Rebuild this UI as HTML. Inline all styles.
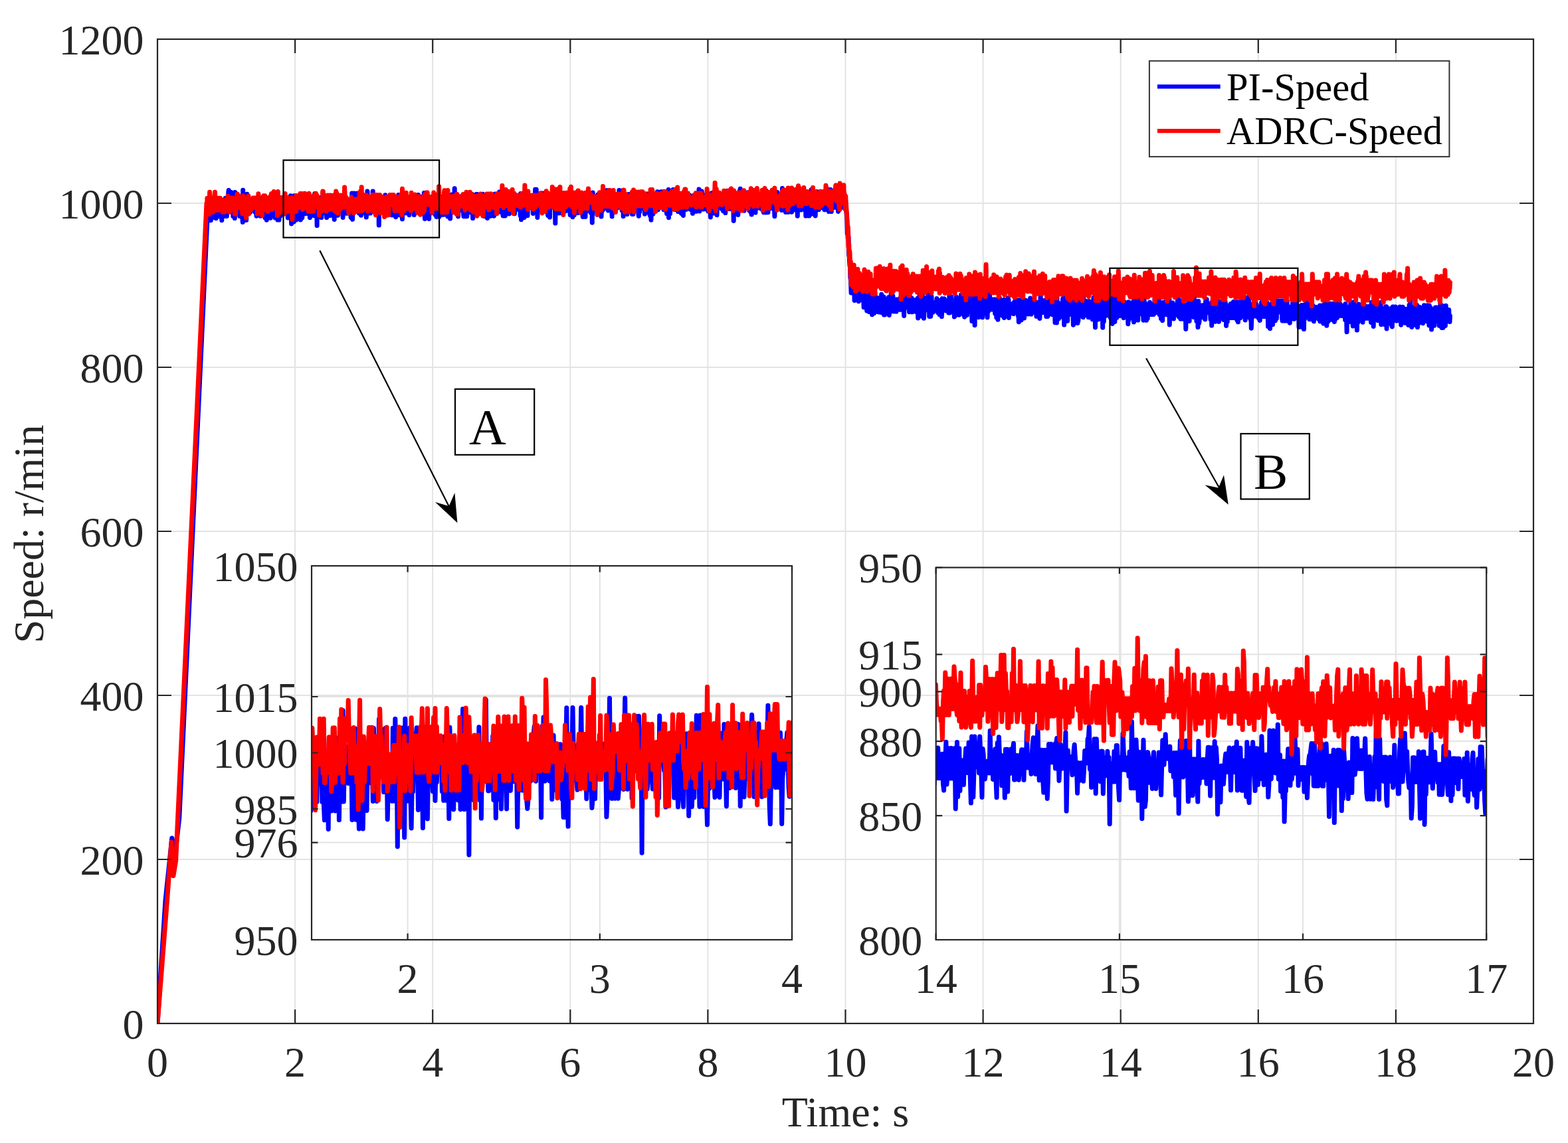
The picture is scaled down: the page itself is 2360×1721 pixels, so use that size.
<!DOCTYPE html><html><head><meta charset="utf-8"><title>Speed</title><style>html,body{margin:0;padding:0;background:#fff;}svg{display:block;}text{font-family:"Liberation Serif", "Times New Roman", serif;}</style></head><body>
<svg width="2360" height="1721" viewBox="0 0 2360 1721">
<defs><clipPath id="cm"><rect x="237.0" y="59.0" width="2071.0" height="1482.0"/></clipPath><clipPath id="ca"><rect x="469.0" y="852.0" width="723.0" height="563.0"/></clipPath><clipPath id="cb"><rect x="1408.7" y="854.5" width="828.5" height="560.5"/></clipPath></defs>
<rect width="2360" height="1721" fill="#fff"/>
<path d="M444.1 59.0V1541.0M651.2 59.0V1541.0M858.3 59.0V1541.0M1065.4 59.0V1541.0M1272.5 59.0V1541.0M1479.6 59.0V1541.0M1686.7 59.0V1541.0M1893.8 59.0V1541.0M2100.9 59.0V1541.0M237.0 1294.0H2308.0M237.0 1047.0H2308.0M237.0 800.0H2308.0M237.0 553.0H2308.0M237.0 306.0H2308.0" stroke="#e3e3e3" stroke-width="2" fill="none"/>
<polyline points="237.0,1541.0 249.0,1355.8 258.8,1261.9 261.9,1300.2 269.8,1232.2 313.1,306.0 313.5,322.8 313.9,307.7 314.4,301.7 314.8,307.7 315.2,304.7 315.6,331.8 316.0,316.8 316.4,313.8 316.8,316.8 317.3,331.8 317.7,301.7 318.1,307.7 318.5,328.8 318.9,313.7 319.3,310.7 319.7,301.7 320.2,304.7 320.6,319.8 321.0,316.7 321.4,307.7 321.8,301.7 322.2,313.7 322.6,316.7 323.1,304.7 323.5,307.7 323.9,298.6 324.3,307.7 324.7,301.6 325.1,328.8 325.5,322.7 325.9,325.7 326.4,316.7 326.8,307.7 327.2,313.7 327.6,307.6 328.0,316.7 328.4,304.6 328.8,304.6 329.3,325.7 329.7,319.7 330.1,316.7 330.5,304.6 330.9,304.6 331.3,298.6 331.7,325.7 332.2,307.6 332.6,310.6 333.0,313.6 333.4,310.6 333.8,331.7 334.2,307.6 334.6,313.6 335.1,322.7 335.5,301.6 335.9,316.6 336.3,307.6 336.7,316.6 337.1,325.7 337.5,316.6 338.0,307.6 338.4,319.6 338.8,307.6 339.2,298.5 339.6,301.5 340.0,313.6 340.4,319.6 340.9,304.5 341.3,325.6 341.7,319.6 342.1,298.5 342.5,307.5 342.9,307.5 343.3,313.6 343.8,289.5 344.2,286.4 344.6,310.5 345.0,304.5 345.4,313.5 345.8,307.5 346.2,298.5 346.7,301.5 347.1,313.5 347.5,307.5 347.9,289.4 348.3,301.5 348.7,298.5 349.1,304.5 349.6,310.5 350.0,319.5 350.4,319.5 350.8,325.6 351.2,319.5 351.6,319.5 352.0,304.5 352.5,325.6 352.9,307.5 353.3,328.6 353.7,289.4 354.1,316.5 354.5,307.5 354.9,295.4 355.4,310.5 355.8,310.5 356.2,307.4 356.6,304.4 357.0,313.5 357.4,295.4 357.8,301.4 358.3,307.4 358.7,301.4 359.1,310.4 359.5,313.4 359.9,310.4 360.3,307.4 360.7,325.5 361.2,313.4 361.6,307.4 362.0,319.5 362.4,307.4 362.8,319.5 363.2,307.4 363.6,310.4 364.1,307.4 364.5,316.4 364.9,328.5 365.3,334.5 365.7,286.3 366.1,325.5 366.5,319.4 367.0,325.4 367.4,298.3 367.8,304.3 368.2,304.3 368.6,322.4 369.0,301.3 369.4,316.4 369.9,301.3 370.3,310.4 370.7,331.4 371.1,310.4 371.5,319.4 371.9,292.3 372.3,322.4 372.8,313.4 373.2,313.3 373.6,319.4 374.0,316.4 374.4,310.3 374.8,307.3 375.2,313.3 375.7,313.3 376.1,310.3 376.5,319.4 376.9,313.3 377.3,310.3 377.7,301.3 378.1,304.3 378.6,307.3 379.0,304.3 379.4,316.3 379.8,301.2 380.2,313.3 380.6,310.3 381.0,313.3 381.5,304.3 381.9,316.3 382.3,307.3 382.7,313.3 383.1,316.3 383.5,307.2 383.9,319.3 384.4,301.2 384.8,316.3 385.2,316.3 385.6,301.2 386.0,325.3 386.4,304.2 386.8,310.2 387.3,310.2 387.7,310.2 388.1,319.3 388.5,298.2 388.9,307.2 389.3,304.2 389.7,304.2 390.2,304.2 390.6,307.2 391.0,319.2 391.4,322.3 391.8,325.3 392.2,316.2 392.6,304.2 393.0,322.2 393.5,313.2 393.9,307.2 394.3,313.2 394.7,313.2 395.1,322.2 395.5,310.2 395.9,316.2 396.4,316.2 396.8,316.2 397.2,307.2 397.6,304.1 398.0,322.2 398.4,307.1 398.8,322.2 399.3,328.2 399.7,316.2 400.1,310.1 400.5,310.1 400.9,307.1 401.3,331.2 401.7,301.1 402.2,304.1 402.6,307.1 403.0,325.2 403.4,307.1 403.8,316.1 404.2,316.1 404.6,310.1 405.1,325.2 405.5,301.1 405.9,304.1 406.3,304.1 406.7,301.1 407.1,328.2 407.5,313.1 408.0,313.1 408.4,322.1 408.8,304.1 409.2,292.0 409.6,322.1 410.0,307.1 410.4,310.1 410.9,310.1 411.3,310.1 411.7,304.0 412.1,316.1 412.5,313.1 412.9,298.0 413.3,310.0 413.8,310.0 414.2,328.1 414.6,307.0 415.0,307.0 415.4,307.0 415.8,298.0 416.2,328.1 416.7,304.0 417.1,325.1 417.5,322.1 417.9,331.1 418.3,304.0 418.7,313.0 419.1,316.0 419.6,310.0 420.0,331.1 420.4,316.0 420.8,310.0 421.2,316.0 421.6,310.0 422.0,325.1 422.5,310.0 422.9,313.0 423.3,310.0 423.7,297.9 424.1,310.0 424.5,316.0 424.9,307.0 425.4,322.0 425.8,297.9 426.2,310.0 426.6,310.0 427.0,306.9 427.4,322.0 427.8,309.9 428.3,313.0 428.7,294.9 429.1,300.9 429.5,297.9 429.9,309.9 430.3,309.9 430.7,303.9 431.2,319.0 431.6,319.0 432.0,297.9 432.4,306.9 432.8,306.9 433.2,328.0 433.6,315.9 434.1,315.9 434.5,318.9 434.9,309.9 435.3,318.9 435.7,321.9 436.1,297.8 436.5,306.9 437.0,321.9 437.4,294.8 437.8,306.9 438.2,306.9 438.6,337.0 439.0,300.8 439.4,309.9 439.9,300.8 440.3,297.8 440.7,321.9 441.1,297.8 441.5,303.8 441.9,309.8 442.3,333.9 442.8,294.8 443.2,306.8 443.6,306.8 444.0,321.9 444.4,306.8 444.8,306.8 445.2,297.8 445.7,318.9 446.1,330.9 446.5,315.8 446.9,318.8 447.3,306.8 447.7,312.8 448.1,309.8 448.6,300.8 449.0,297.7 449.4,309.8 449.8,324.9 450.2,309.8 450.6,312.8 451.0,309.8 451.5,312.8 451.9,309.8 452.3,330.9 452.7,306.8 453.1,306.8 453.5,306.7 453.9,312.8 454.4,303.7 454.8,327.8 455.2,312.8 455.6,306.7 456.0,315.8 456.4,312.8 456.8,303.7 457.3,312.7 457.7,318.8 458.1,315.8 458.5,306.7 458.9,321.8 459.3,309.7 459.7,315.7 460.2,309.7 460.6,303.7 461.0,306.7 461.4,309.7 461.8,309.7 462.2,303.7 462.6,318.7 463.0,309.7 463.5,321.7 463.9,300.6 464.3,309.7 464.7,321.7 465.1,315.7 465.5,303.6 465.9,309.7 466.4,327.7 466.8,297.6 467.2,309.7 467.6,306.6 468.0,312.7 468.4,318.7 468.8,324.7 469.3,309.6 469.7,309.6 470.1,312.7 470.5,303.6 470.9,306.6 471.3,321.7 471.7,315.7 472.2,300.6 472.6,324.7 473.0,294.6 473.4,315.6 473.8,291.5 474.2,306.6 474.6,324.7 475.1,306.6 475.5,309.6 475.9,315.6 476.3,309.6 476.7,309.6 477.1,339.7 477.5,303.6 478.0,312.6 478.4,309.6 478.8,303.6 479.2,309.6 479.6,321.6 480.0,303.5 480.4,312.6 480.9,309.6 481.3,315.6 481.7,312.6 482.1,318.6 482.5,297.5 482.9,321.6 483.3,303.5 483.8,327.6 484.2,306.5 484.6,312.6 485.0,303.5 485.4,309.5 485.8,294.5 486.2,288.4 486.7,315.6 487.1,303.5 487.5,318.6 487.9,318.6 488.3,309.5 488.7,303.5 489.1,303.5 489.6,312.5 490.0,300.5 490.4,321.6 490.8,318.5 491.2,309.5 491.6,327.6 492.0,300.4 492.5,309.5 492.9,312.5 493.3,306.5 493.7,321.5 494.1,309.5 494.5,324.5 494.9,312.5 495.4,309.5 495.8,297.4 496.2,309.5 496.6,300.4 497.0,309.4 497.4,324.5 497.8,303.4 498.3,309.4 498.7,315.5 499.1,303.4 499.5,318.5 499.9,312.4 500.3,303.4 500.7,303.4 501.2,315.4 501.6,306.4 502.0,309.4 502.4,303.4 502.8,312.4 503.2,330.5 503.6,312.4 504.1,297.3 504.5,318.4 504.9,312.4 505.3,303.4 505.7,312.4 506.1,318.4 506.5,309.4 507.0,312.4 507.4,318.4 507.8,312.4 508.2,321.4 508.6,324.4 509.0,321.4 509.4,312.4 509.9,309.4 510.3,315.4 510.7,300.3 511.1,306.3 511.5,309.3 511.9,300.3 512.3,297.3 512.8,303.3 513.2,315.4 513.6,303.3 514.0,300.3 514.4,306.3 514.8,309.3 515.2,306.3 515.7,306.3 516.1,327.4 516.5,297.3 516.9,309.3 517.3,294.2 517.7,309.3 518.1,315.3 518.6,303.3 519.0,309.3 519.4,303.3 519.8,312.3 520.2,312.3 520.6,315.3 521.0,315.3 521.5,306.3 521.9,321.3 522.3,309.3 522.7,300.2 523.1,318.3 523.5,312.3 523.9,315.3 524.4,312.3 524.8,309.3 525.2,303.2 525.6,303.2 526.0,315.3 526.4,303.2 526.8,315.3 527.3,321.3 527.7,318.3 528.1,327.3 528.5,309.2 528.9,327.3 529.3,309.2 529.7,291.1 530.2,318.3 530.6,330.3 531.0,306.2 531.4,318.2 531.8,309.2 532.2,309.2 532.6,306.2 533.0,291.1 533.5,306.2 533.9,306.2 534.3,309.2 534.7,315.2 535.1,315.2 535.5,318.2 535.9,303.1 536.4,309.2 536.8,303.1 537.2,306.1 537.6,291.1 538.0,309.2 538.4,303.1 538.8,315.2 539.3,300.1 539.7,312.2 540.1,309.1 540.5,321.2 540.9,306.1 541.3,297.1 541.7,300.1 542.2,318.2 542.6,303.1 543.0,315.1 543.4,324.2 543.8,321.2 544.2,300.1 544.6,312.1 545.1,321.2 545.5,306.1 545.9,306.1 546.3,312.1 546.7,306.1 547.1,312.1 547.5,300.0 548.0,303.1 548.4,309.1 548.8,306.1 549.2,303.0 549.6,309.1 550.0,306.1 550.4,309.1 550.9,312.1 551.3,327.1 551.7,321.1 552.1,318.1 552.5,309.1 552.9,288.0 553.3,318.1 553.8,312.1 554.2,321.1 554.6,312.1 555.0,312.0 555.4,303.0 555.8,321.1 556.2,306.0 556.7,306.0 557.1,312.0 557.5,321.1 557.9,318.1 558.3,312.0 558.7,306.0 559.1,309.0 559.6,315.0 560.0,306.0 560.4,318.0 560.8,303.0 561.2,287.9 561.6,315.0 562.0,299.9 562.5,318.0 562.9,309.0 563.3,306.0 563.7,299.9 564.1,309.0 564.5,299.9 564.9,321.0 565.4,312.0 565.8,309.0 566.2,309.0 566.6,309.0 567.0,293.9 567.4,312.0 567.8,299.9 568.3,305.9 568.7,293.9 569.1,311.9 569.5,302.9 569.9,302.9 570.3,339.1 570.7,305.9 571.2,299.9 571.6,296.9 572.0,318.0 572.4,308.9 572.8,299.9 573.2,317.9 573.6,314.9 574.1,302.9 574.5,302.9 574.9,299.9 575.3,299.8 575.7,305.9 576.1,317.9 576.5,314.9 577.0,308.9 577.4,305.9 577.8,308.9 578.2,302.8 578.6,314.9 579.0,311.9 579.4,320.9 579.9,293.8 580.3,308.9 580.7,299.8 581.1,299.8 581.5,305.8 581.9,308.8 582.3,311.9 582.8,311.8 583.2,323.9 583.6,311.8 584.0,302.8 584.4,305.8 584.8,302.8 585.2,302.8 585.7,302.8 586.1,305.8 586.5,305.8 586.9,299.8 587.3,311.8 587.7,320.9 588.1,302.8 588.6,308.8 589.0,299.8 589.4,314.8 589.8,323.9 590.2,308.8 590.6,314.8 591.0,317.8 591.5,296.7 591.9,305.8 592.3,320.8 592.7,323.8 593.1,308.8 593.5,302.7 593.9,305.7 594.4,299.7 594.8,305.7 595.2,305.7 595.6,326.8 596.0,299.7 596.4,311.8 596.8,299.7 597.3,323.8 597.7,317.8 598.1,299.7 598.5,320.8 598.9,305.7 599.3,311.7 599.7,293.6 600.1,305.7 600.6,299.7 601.0,308.7 601.4,323.8 601.8,293.6 602.2,314.7 602.6,308.7 603.0,308.7 603.5,323.8 603.9,302.7 604.3,311.7 604.7,323.7 605.1,320.7 605.5,329.8 605.9,314.7 606.4,308.7 606.8,317.7 607.2,308.7 607.6,311.7 608.0,305.6 608.4,308.7 608.8,308.6 609.3,314.7 609.7,320.7 610.1,317.7 610.5,305.6 610.9,311.6 611.3,296.6 611.7,302.6 612.2,320.7 612.6,305.6 613.0,299.6 613.4,314.6 613.8,299.6 614.2,314.6 614.6,296.6 615.1,305.6 615.5,311.6 615.9,323.7 616.3,308.6 616.7,314.6 617.1,305.6 617.5,317.6 618.0,305.6 618.4,311.6 618.8,302.6 619.2,302.5 619.6,305.6 620.0,305.6 620.4,299.5 620.9,317.6 621.3,302.5 621.7,305.5 622.1,296.5 622.5,308.6 622.9,299.5 623.3,323.6 623.8,299.5 624.2,305.5 624.6,305.5 625.0,302.5 625.4,320.6 625.8,311.5 626.2,308.5 626.7,311.5 627.1,314.5 627.5,302.5 627.9,308.5 628.3,311.5 628.7,308.5 629.1,299.5 629.6,293.4 630.0,299.5 630.4,305.5 630.8,320.5 631.2,314.5 631.6,317.5 632.0,317.5 632.5,299.4 632.9,314.5 633.3,296.4 633.7,308.5 634.1,308.5 634.5,311.5 634.9,320.5 635.4,311.5 635.8,302.4 636.2,302.4 636.6,308.5 637.0,302.4 637.4,308.4 637.8,305.4 638.3,290.4 638.7,308.4 639.1,323.5 639.5,329.5 639.9,314.5 640.3,305.4 640.7,299.4 641.2,308.4 641.6,308.4 642.0,302.4 642.4,317.4 642.8,308.4 643.2,305.4 643.6,311.4 644.1,317.4 644.5,305.4 644.9,299.4 645.3,308.4 645.7,329.5 646.1,314.4 646.5,311.4 647.0,305.4 647.4,311.4 647.8,311.4 648.2,302.3 648.6,299.3 649.0,308.4 649.4,317.4 649.9,320.4 650.3,302.3 650.7,314.4 651.1,308.3 651.5,311.4 651.9,308.3 652.3,305.3 652.8,317.4 653.2,314.3 653.6,308.3 654.0,308.3 654.4,320.4 654.8,293.2 655.2,323.4 655.7,299.2 656.1,323.3 656.5,302.3 656.9,326.4 657.3,302.2 657.7,308.3 658.1,302.2 658.6,314.3 659.0,305.2 659.4,305.2 659.8,308.2 660.2,314.3 660.6,299.2 661.0,326.3 661.5,323.3 661.9,323.3 662.3,299.2 662.7,317.2 663.1,314.2 663.5,314.2 663.9,311.2 664.4,311.2 664.8,314.2 665.2,323.2 665.6,305.1 666.0,308.2 666.4,296.1 666.8,305.1 667.3,308.1 667.7,323.2 668.1,308.1 668.5,305.1 668.9,296.1 669.3,305.1 669.7,302.1 670.1,305.1 670.6,296.0 671.0,299.0 671.4,308.1 671.8,323.1 672.2,296.0 672.6,308.1 673.0,317.1 673.5,323.1 673.9,326.1 674.3,305.0 674.7,311.1 675.1,305.0 675.5,299.0 675.9,314.0 676.4,305.0 676.8,314.0 677.2,317.0 677.6,329.1 678.0,317.0 678.4,298.9 678.8,314.0 679.3,305.0 679.7,308.0 680.1,292.9 680.5,295.9 680.9,314.0 681.3,311.0 681.7,298.9 682.2,304.9 682.6,307.9 683.0,298.9 683.4,304.9 683.8,307.9 684.2,283.8 684.6,304.9 685.1,320.0 685.5,304.9 685.9,304.9 686.3,295.8 686.7,304.9 687.1,313.9 687.5,304.9 688.0,319.9 688.4,310.9 688.8,304.8 689.2,316.9 689.6,325.9 690.0,316.9 690.4,316.9 690.9,304.8 691.3,313.8 691.7,307.8 692.1,316.9 692.5,307.8 692.9,313.8 693.3,304.8 693.8,304.8 694.2,295.7 694.6,304.8 695.0,310.8 695.4,316.8 695.8,307.8 696.2,301.7 696.7,295.7 697.1,313.8 697.5,319.8 697.9,325.8 698.3,316.8 698.7,310.7 699.1,310.7 699.6,310.7 700.0,307.7 700.4,304.7 700.8,325.8 701.2,307.7 701.6,310.7 702.0,310.7 702.5,313.7 702.9,325.7 703.3,304.6 703.7,313.7 704.1,310.7 704.5,307.6 704.9,307.6 705.4,304.6 705.8,304.6 706.2,316.7 706.6,319.7 707.0,301.6 707.4,316.6 707.8,292.5 708.3,319.7 708.7,307.6 709.1,310.6 709.5,307.6 709.9,316.6 710.3,304.6 710.7,292.5 711.2,313.6 711.6,328.6 712.0,304.5 712.4,304.5 712.8,304.5 713.2,316.6 713.6,304.5 714.1,301.5 714.5,313.5 714.9,307.5 715.3,304.5 715.7,301.5 716.1,310.5 716.5,307.5 717.0,292.4 717.4,292.4 717.8,319.5 718.2,292.4 718.6,313.5 719.0,301.4 719.4,319.5 719.9,310.5 720.3,313.5 720.7,301.4 721.1,307.4 721.5,304.4 721.9,304.4 722.3,307.4 722.8,301.4 723.2,307.4 723.6,310.4 724.0,313.4 724.4,316.4 724.8,313.4 725.2,304.4 725.7,301.3 726.1,310.4 726.5,292.3 726.9,298.3 727.3,307.3 727.7,304.3 728.1,310.4 728.6,325.4 729.0,301.3 729.4,307.3 729.8,325.4 730.2,301.3 730.6,313.3 731.0,310.3 731.5,325.4 731.9,310.3 732.3,304.3 732.7,313.3 733.1,310.3 733.5,328.4 733.9,304.2 734.4,310.3 734.8,310.3 735.2,304.2 735.6,301.2 736.0,310.2 736.4,301.2 736.8,295.2 737.3,319.3 737.7,307.2 738.1,325.3 738.5,307.2 738.9,298.2 739.3,310.2 739.7,319.2 740.1,313.2 740.6,304.2 741.0,322.2 741.4,322.2 741.8,304.1 742.2,322.2 742.6,307.1 743.0,319.2 743.5,325.2 743.9,301.1 744.3,301.1 744.7,316.2 745.1,292.0 745.5,307.1 745.9,304.1 746.4,307.1 746.8,319.1 747.2,301.1 747.6,307.1 748.0,304.1 748.4,307.1 748.8,313.1 749.3,292.0 749.7,304.0 750.1,310.1 750.5,304.0 750.9,319.1 751.3,304.0 751.7,288.9 752.2,316.1 752.6,304.0 753.0,319.1 753.4,307.0 753.8,301.0 754.2,319.0 754.6,316.0 755.1,297.9 755.5,307.0 755.9,304.0 756.3,304.0 756.7,322.0 757.1,325.0 757.5,325.0 758.0,303.9 758.4,322.0 758.8,325.0 759.2,313.0 759.6,309.9 760.0,306.9 760.4,325.0 760.9,297.9 761.3,315.9 761.7,306.9 762.1,309.9 762.5,318.9 762.9,303.9 763.3,303.9 763.8,300.8 764.2,294.8 764.6,291.8 765.0,300.8 765.4,303.8 765.8,312.9 766.2,321.9 766.7,303.8 767.1,312.9 767.5,309.8 767.9,312.8 768.3,303.8 768.7,312.8 769.1,288.7 769.6,300.8 770.0,312.8 770.4,303.8 770.8,297.7 771.2,318.8 771.6,306.8 772.0,312.8 772.5,306.8 772.9,312.8 773.3,306.7 773.7,303.7 774.1,303.7 774.5,321.8 774.9,300.7 775.4,306.7 775.8,312.7 776.2,306.7 776.6,294.6 777.0,309.7 777.4,315.7 777.8,300.7 778.3,309.7 778.7,300.6 779.1,303.7 779.5,297.6 779.9,312.7 780.3,309.7 780.7,297.6 781.2,294.6 781.6,306.6 782.0,297.6 782.4,303.6 782.8,306.6 783.2,324.7 783.6,291.5 784.1,297.6 784.5,330.7 784.9,300.6 785.3,312.6 785.7,315.6 786.1,312.6 786.5,300.5 787.0,306.6 787.4,309.6 787.8,309.6 788.2,309.6 788.6,303.5 789.0,327.6 789.4,321.6 789.9,309.5 790.3,318.6 790.7,306.5 791.1,309.5 791.5,303.5 791.9,309.5 792.3,303.5 792.8,306.5 793.2,300.5 793.6,309.5 794.0,324.6 794.4,306.5 794.8,306.5 795.2,312.5 795.7,300.4 796.1,303.4 796.5,294.4 796.9,309.4 797.3,309.4 797.7,303.4 798.1,294.4 798.6,312.4 799.0,303.4 799.4,306.4 799.8,309.4 800.2,300.4 800.6,300.4 801.0,300.4 801.5,312.4 801.9,306.4 802.3,321.4 802.7,303.3 803.1,318.4 803.5,309.4 803.9,300.3 804.4,309.4 804.8,306.3 805.2,312.4 805.6,285.2 806.0,318.4 806.4,312.3 806.8,306.3 807.2,285.2 807.7,312.3 808.1,306.3 808.5,300.3 808.9,327.4 809.3,300.2 809.7,303.3 810.1,294.2 810.6,294.2 811.0,300.2 811.4,297.2 811.8,312.3 812.2,315.3 812.6,306.2 813.0,303.2 813.5,306.2 813.9,303.2 814.3,300.2 814.7,291.1 815.1,306.2 815.5,309.2 815.9,300.2 816.4,303.2 816.8,300.1 817.2,291.1 817.6,312.2 818.0,300.1 818.4,294.1 818.8,294.1 819.3,318.2 819.7,306.1 820.1,294.1 820.5,303.1 820.9,300.1 821.3,306.1 821.7,294.1 822.2,303.1 822.6,306.1 823.0,303.1 823.4,294.0 823.8,303.1 824.2,321.1 824.6,324.2 825.1,300.0 825.5,321.1 825.9,303.0 826.3,312.1 826.7,303.0 827.1,312.1 827.5,327.1 828.0,294.0 828.4,306.0 828.8,306.0 829.2,294.0 829.6,300.0 830.0,297.0 830.4,309.0 830.9,306.0 831.3,303.0 831.7,312.0 832.1,299.9 832.5,303.0 832.9,309.0 833.3,309.0 833.8,299.9 834.2,305.9 834.6,302.9 835.0,302.9 835.4,308.9 835.8,336.1 836.2,302.9 836.7,299.9 837.1,311.9 837.5,311.9 837.9,299.9 838.3,317.9 838.7,296.8 839.1,302.9 839.6,293.8 840.0,305.9 840.4,305.9 840.8,302.8 841.2,320.9 841.6,314.9 842.0,296.8 842.5,311.9 842.9,314.9 843.3,302.8 843.7,293.8 844.1,305.8 844.5,308.8 844.9,305.8 845.4,302.8 845.8,320.9 846.2,302.8 846.6,302.8 847.0,296.7 847.4,296.7 847.8,299.7 848.3,290.7 848.7,305.8 849.1,305.8 849.5,293.7 849.9,305.7 850.3,311.8 850.7,308.7 851.2,305.7 851.6,317.8 852.0,296.7 852.4,302.7 852.8,296.7 853.2,314.7 853.6,308.7 854.1,311.7 854.5,302.7 854.9,302.7 855.3,299.6 855.7,299.6 856.1,314.7 856.5,302.6 857.0,305.6 857.4,305.6 857.8,302.6 858.2,323.7 858.6,311.7 859.0,308.6 859.4,311.6 859.9,314.6 860.3,299.6 860.7,299.6 861.1,293.5 861.5,314.6 861.9,326.7 862.3,299.5 862.8,308.6 863.2,314.6 863.6,302.5 864.0,305.6 864.4,323.6 864.8,305.5 865.2,320.6 865.7,302.5 866.1,317.6 866.5,320.6 866.9,299.5 867.3,299.5 867.7,308.5 868.1,317.6 868.6,302.5 869.0,305.5 869.4,305.5 869.8,308.5 870.2,320.5 870.6,311.5 871.0,296.4 871.5,311.5 871.9,308.5 872.3,305.4 872.7,299.4 873.1,302.4 873.5,311.5 873.9,293.4 874.4,305.4 874.8,302.4 875.2,311.4 875.6,320.5 876.0,302.4 876.4,308.4 876.8,302.4 877.2,326.5 877.7,293.3 878.1,305.4 878.5,299.3 878.9,317.4 879.3,305.4 879.7,305.3 880.1,296.3 880.6,299.3 881.0,326.4 881.4,305.3 881.8,305.3 882.2,308.3 882.6,305.3 883.0,302.3 883.5,299.3 883.9,317.3 884.3,314.3 884.7,305.3 885.1,299.3 885.5,314.3 885.9,305.3 886.4,317.3 886.8,305.3 887.2,308.3 887.6,302.2 888.0,296.2 888.4,314.3 888.8,302.2 889.3,320.3 889.7,302.2 890.1,293.2 890.5,320.3 890.9,311.2 891.3,335.3 891.7,302.2 892.2,290.1 892.6,314.2 893.0,302.2 893.4,296.1 893.8,311.2 894.2,305.2 894.6,311.2 895.1,311.2 895.5,305.1 895.9,299.1 896.3,302.1 896.7,305.1 897.1,308.1 897.5,296.1 898.0,302.1 898.4,302.1 898.8,323.2 899.2,308.1 899.6,314.1 900.0,293.0 900.4,299.0 900.9,293.0 901.3,314.1 901.7,320.1 902.1,314.1 902.5,299.0 902.9,311.1 903.3,299.0 903.8,296.0 904.2,308.0 904.6,299.0 905.0,326.1 905.4,317.1 905.8,311.0 906.2,308.0 906.7,317.0 907.1,308.0 907.5,295.9 907.9,299.0 908.3,302.0 908.7,314.0 909.1,292.9 909.6,298.9 910.0,314.0 910.4,298.9 910.8,308.0 911.2,301.9 911.6,301.9 912.0,298.9 912.5,292.9 912.9,286.8 913.3,301.9 913.7,304.9 914.1,304.9 914.5,301.9 914.9,298.9 915.4,316.9 915.8,304.9 916.2,286.8 916.6,298.8 917.0,295.8 917.4,304.9 917.8,286.8 918.3,298.8 918.7,307.9 919.1,310.9 919.5,301.8 919.9,289.8 920.3,310.8 920.7,313.9 921.2,325.9 921.6,298.8 922.0,313.8 922.4,310.8 922.8,313.8 923.2,313.8 923.6,298.7 924.1,310.8 924.5,301.7 924.9,310.8 925.3,307.8 925.7,298.7 926.1,298.7 926.5,316.8 927.0,304.7 927.4,313.8 927.8,298.7 928.2,310.7 928.6,313.7 929.0,298.7 929.4,310.7 929.9,304.7 930.3,298.7 930.7,310.7 931.1,307.7 931.5,298.6 931.9,286.6 932.3,298.6 932.8,298.6 933.2,304.6 933.6,304.6 934.0,292.6 934.4,310.7 934.8,310.7 935.2,292.6 935.7,310.6 936.1,316.7 936.5,301.6 936.9,295.6 937.3,292.5 937.7,286.5 938.1,325.7 938.6,307.6 939.0,307.6 939.4,301.6 939.8,313.6 940.2,304.6 940.6,301.5 941.0,301.5 941.5,313.6 941.9,301.5 942.3,313.6 942.7,313.6 943.1,307.5 943.5,298.5 943.9,322.6 944.4,304.5 944.8,295.5 945.2,304.5 945.6,310.5 946.0,301.5 946.4,292.4 946.8,304.5 947.2,310.5 947.7,298.4 948.1,307.5 948.5,310.5 948.9,298.4 949.3,313.5 949.7,307.4 950.1,295.4 950.6,304.4 951.0,295.4 951.4,322.5 951.8,319.5 952.2,310.4 952.6,304.4 953.0,322.5 953.5,301.4 953.9,310.4 954.3,310.4 954.7,304.4 955.1,307.4 955.5,316.4 955.9,307.4 956.4,316.4 956.8,295.3 957.2,310.4 957.6,307.3 958.0,310.3 958.4,304.3 958.8,301.3 959.3,304.3 959.7,313.3 960.1,295.3 960.5,304.3 960.9,322.4 961.3,325.4 961.7,316.3 962.2,316.3 962.6,319.3 963.0,313.3 963.4,301.2 963.8,295.2 964.2,301.2 964.6,301.2 965.1,295.2 965.5,289.2 965.9,295.2 966.3,301.2 966.7,304.2 967.1,313.2 967.5,301.2 968.0,295.2 968.4,301.2 968.8,310.2 969.2,301.2 969.6,304.2 970.0,310.2 970.4,322.2 970.9,301.1 971.3,310.2 971.7,295.1 972.1,310.2 972.5,304.1 972.9,310.2 973.3,292.1 973.8,295.1 974.2,304.1 974.6,292.1 975.0,316.2 975.4,298.1 975.8,310.1 976.2,304.1 976.7,310.1 977.1,301.1 977.5,322.1 977.9,310.1 978.3,295.0 978.7,325.1 979.1,307.1 979.6,316.1 980.0,331.2 980.4,301.0 980.8,310.0 981.2,295.0 981.6,322.1 982.0,301.0 982.5,291.9 982.9,322.1 983.3,298.0 983.7,298.0 984.1,301.0 984.5,291.9 984.9,297.9 985.4,310.0 985.8,310.0 986.2,304.0 986.6,291.9 987.0,303.9 987.4,297.9 987.8,303.9 988.3,297.9 988.7,300.9 989.1,294.9 989.5,288.8 989.9,309.9 990.3,316.0 990.7,303.9 991.2,303.9 991.6,300.9 992.0,294.8 992.4,306.9 992.8,303.9 993.2,303.9 993.6,294.8 994.1,306.9 994.5,294.8 994.9,288.8 995.3,306.8 995.7,291.8 996.1,297.8 996.5,303.8 997.0,288.7 997.4,294.8 997.8,306.8 998.2,297.8 998.6,309.8 999.0,315.8 999.4,294.7 999.9,303.8 1000.3,291.7 1000.7,300.7 1001.1,300.7 1001.5,303.8 1001.9,300.7 1002.3,309.8 1002.8,303.7 1003.2,318.8 1003.6,321.8 1004.0,315.8 1004.4,309.7 1004.8,303.7 1005.2,303.7 1005.7,294.7 1006.1,285.6 1006.5,327.8 1006.9,291.6 1007.3,294.6 1007.7,309.7 1008.1,300.7 1008.6,321.7 1009.0,303.7 1009.4,291.6 1009.8,315.7 1010.2,309.7 1010.6,303.6 1011.0,297.6 1011.5,303.6 1011.9,309.6 1012.3,297.6 1012.7,309.6 1013.1,285.5 1013.5,294.6 1013.9,303.6 1014.3,309.6 1014.8,309.6 1015.2,309.6 1015.6,306.6 1016.0,300.5 1016.4,315.6 1016.8,300.5 1017.2,303.5 1017.7,312.6 1018.1,294.5 1018.5,300.5 1018.9,300.5 1019.3,309.5 1019.7,309.5 1020.1,303.5 1020.6,318.6 1021.0,300.5 1021.4,315.5 1021.8,303.5 1022.2,297.5 1022.6,306.5 1023.0,309.5 1023.5,309.5 1023.9,303.5 1024.3,315.5 1024.7,303.4 1025.1,297.4 1025.5,321.5 1025.9,312.5 1026.4,300.4 1026.8,315.5 1027.2,312.5 1027.6,315.5 1028.0,297.4 1028.4,324.5 1028.8,303.4 1029.3,306.4 1029.7,303.4 1030.1,312.4 1030.5,303.4 1030.9,309.4 1031.3,312.4 1031.7,285.3 1032.2,297.3 1032.6,315.4 1033.0,309.4 1033.4,300.3 1033.8,294.3 1034.2,306.3 1034.6,297.3 1035.1,303.3 1035.5,294.3 1035.9,309.3 1036.3,312.3 1036.7,300.3 1037.1,300.3 1037.5,303.3 1038.0,294.2 1038.4,297.2 1038.8,303.3 1039.2,315.3 1039.6,297.2 1040.0,297.2 1040.4,309.3 1040.9,303.2 1041.3,315.3 1041.7,303.2 1042.1,306.2 1042.5,321.3 1042.9,303.2 1043.3,306.2 1043.8,306.2 1044.2,294.2 1044.6,300.2 1045.0,297.2 1045.4,306.2 1045.8,294.1 1046.2,312.2 1046.7,297.1 1047.1,318.2 1047.5,300.1 1047.9,312.2 1048.3,318.2 1048.7,297.1 1049.1,303.1 1049.6,300.1 1050.0,303.1 1050.4,300.1 1050.8,303.1 1051.2,306.1 1051.6,303.1 1052.0,285.0 1052.5,312.1 1052.9,318.1 1053.3,312.1 1053.7,309.1 1054.1,300.0 1054.5,294.0 1054.9,294.0 1055.4,306.1 1055.8,297.0 1056.2,288.0 1056.6,297.0 1057.0,294.0 1057.4,312.1 1057.8,297.0 1058.3,297.0 1058.7,315.1 1059.1,303.0 1059.5,297.0 1059.9,312.0 1060.3,297.0 1060.7,293.9 1061.2,300.0 1061.6,303.0 1062.0,303.0 1062.4,299.9 1062.8,293.9 1063.2,315.0 1063.6,299.9 1064.1,299.9 1064.5,312.0 1064.9,315.0 1065.3,305.9 1065.7,318.0 1066.1,299.9 1066.5,305.9 1067.0,311.9 1067.4,302.9 1067.8,311.9 1068.2,308.9 1068.6,293.8 1069.0,308.9 1069.4,327.0 1069.9,299.8 1070.3,311.9 1070.7,311.9 1071.1,290.8 1071.5,302.8 1071.9,296.8 1072.3,317.9 1072.8,311.9 1073.2,311.9 1073.6,296.8 1074.0,308.8 1074.4,320.9 1074.8,296.8 1075.2,308.8 1075.7,302.8 1076.1,296.7 1076.5,287.7 1076.9,302.8 1077.3,290.7 1077.7,317.8 1078.1,302.7 1078.6,299.7 1079.0,323.8 1079.4,311.8 1079.8,308.8 1080.2,299.7 1080.6,308.7 1081.0,305.7 1081.5,308.7 1081.9,299.7 1082.3,302.7 1082.7,302.7 1083.1,305.7 1083.5,296.6 1083.9,308.7 1084.3,302.7 1084.8,302.7 1085.2,299.6 1085.6,296.6 1086.0,299.6 1086.4,314.7 1086.8,296.6 1087.2,293.6 1087.7,293.6 1088.1,296.6 1088.5,317.7 1088.9,302.6 1089.3,296.6 1089.7,296.6 1090.1,302.6 1090.6,302.6 1091.0,311.6 1091.4,299.6 1091.8,320.6 1092.2,302.6 1092.6,293.5 1093.0,314.6 1093.5,293.5 1093.9,287.5 1094.3,299.5 1094.7,305.5 1095.1,305.5 1095.5,314.6 1095.9,296.5 1096.4,311.5 1096.8,299.5 1097.2,311.5 1097.6,296.5 1098.0,314.5 1098.4,302.5 1098.8,308.5 1099.3,293.4 1099.7,305.5 1100.1,302.5 1100.5,293.4 1100.9,311.5 1101.3,314.5 1101.7,302.4 1102.2,311.5 1102.6,290.4 1103.0,299.4 1103.4,299.4 1103.8,305.4 1104.2,332.5 1104.6,293.4 1105.1,302.4 1105.5,320.5 1105.9,311.4 1106.3,302.4 1106.7,293.3 1107.1,299.4 1107.5,299.3 1108.0,299.3 1108.4,311.4 1108.8,308.4 1109.2,302.3 1109.6,314.4 1110.0,302.3 1110.4,296.3 1110.9,323.4 1111.3,305.3 1111.7,305.3 1112.1,302.3 1112.5,290.2 1112.9,314.3 1113.3,287.2 1113.8,296.3 1114.2,284.2 1114.6,305.3 1115.0,299.2 1115.4,302.3 1115.8,299.2 1116.2,311.3 1116.7,308.3 1117.1,302.2 1117.5,296.2 1117.9,314.3 1118.3,305.2 1118.7,308.2 1119.1,299.2 1119.6,296.2 1120.0,317.3 1120.4,311.2 1120.8,305.2 1121.2,311.2 1121.6,290.1 1122.0,290.1 1122.5,296.1 1122.9,299.1 1123.3,311.2 1123.7,311.2 1124.1,299.1 1124.5,290.1 1124.9,305.1 1125.4,299.1 1125.8,290.1 1126.2,290.1 1126.6,311.1 1127.0,299.1 1127.4,296.1 1127.8,317.2 1128.3,308.1 1128.7,302.1 1129.1,308.1 1129.5,299.1 1129.9,305.1 1130.3,320.1 1130.7,314.1 1131.2,323.1 1131.6,314.1 1132.0,299.0 1132.4,299.0 1132.8,299.0 1133.2,293.0 1133.6,314.1 1134.1,308.0 1134.5,302.0 1134.9,289.9 1135.3,299.0 1135.7,305.0 1136.1,299.0 1136.5,311.0 1137.0,320.1 1137.4,299.0 1137.8,308.0 1138.2,298.9 1138.6,314.0 1139.0,311.0 1139.4,295.9 1139.9,301.9 1140.3,295.9 1140.7,308.0 1141.1,301.9 1141.5,295.9 1141.9,295.9 1142.3,301.9 1142.8,298.9 1143.2,301.9 1143.6,304.9 1144.0,301.9 1144.4,298.9 1144.8,313.9 1145.2,301.9 1145.7,310.9 1146.1,301.9 1146.5,304.9 1146.9,301.8 1147.3,304.9 1147.7,304.8 1148.1,316.9 1148.6,292.8 1149.0,316.9 1149.4,319.9 1149.8,298.8 1150.2,298.8 1150.6,304.8 1151.0,304.8 1151.5,313.8 1151.9,289.7 1152.3,319.9 1152.7,286.7 1153.1,316.8 1153.5,313.8 1153.9,304.8 1154.3,307.8 1154.8,298.7 1155.2,310.8 1155.6,307.8 1156.0,319.8 1156.4,292.7 1156.8,304.7 1157.2,310.7 1157.7,301.7 1158.1,295.7 1158.5,298.7 1158.9,310.7 1159.3,301.7 1159.7,298.7 1160.1,298.7 1160.6,304.7 1161.0,298.6 1161.4,313.7 1161.8,301.6 1162.2,310.7 1162.6,301.6 1163.0,307.7 1163.5,295.6 1163.9,304.6 1164.3,292.6 1164.7,310.6 1165.1,295.6 1165.5,310.6 1165.9,325.7 1166.4,310.6 1166.8,295.6 1167.2,301.6 1167.6,298.6 1168.0,304.6 1168.4,298.5 1168.8,310.6 1169.3,289.5 1169.7,289.5 1170.1,298.5 1170.5,307.6 1170.9,307.6 1171.3,298.5 1171.7,298.5 1172.2,310.6 1172.6,295.5 1173.0,295.5 1173.4,298.5 1173.8,298.5 1174.2,298.5 1174.6,301.5 1175.1,304.5 1175.5,307.5 1175.9,292.4 1176.3,316.5 1176.7,301.5 1177.1,295.4 1177.5,283.4 1178.0,304.4 1178.4,292.4 1178.8,292.4 1179.2,295.4 1179.6,286.3 1180.0,316.5 1180.4,292.4 1180.9,301.4 1181.3,298.4 1181.7,301.4 1182.1,307.4 1182.5,319.5 1182.9,298.4 1183.3,301.4 1183.8,313.4 1184.2,301.4 1184.6,310.4 1185.0,310.4 1185.4,298.3 1185.8,295.3 1186.2,319.4 1186.7,301.3 1187.1,295.3 1187.5,313.4 1187.9,304.3 1188.3,298.3 1188.7,295.3 1189.1,313.3 1189.6,316.4 1190.0,307.3 1190.4,307.3 1190.8,301.3 1191.2,301.3 1191.6,319.3 1192.0,295.2 1192.5,316.3 1192.9,298.2 1193.3,298.2 1193.7,298.2 1194.1,298.2 1194.5,298.2 1194.9,310.3 1195.4,310.2 1195.8,286.1 1196.2,289.1 1196.6,292.2 1197.0,295.2 1197.4,316.2 1197.8,286.1 1198.3,304.2 1198.7,301.2 1199.1,295.1 1199.5,307.2 1199.9,292.1 1200.3,325.2 1200.7,292.1 1201.2,298.1 1201.6,310.2 1202.0,295.1 1202.4,292.1 1202.8,295.1 1203.2,295.1 1203.6,304.1 1204.1,292.1 1204.5,292.0 1204.9,292.0 1205.3,295.1 1205.7,316.1 1206.1,298.1 1206.5,313.1 1207.0,310.1 1207.4,304.1 1207.8,301.0 1208.2,304.1 1208.6,298.0 1209.0,298.0 1209.4,301.0 1209.9,301.0 1210.3,298.0 1210.7,295.0 1211.1,310.0 1211.5,316.1 1211.9,295.0 1212.3,301.0 1212.8,325.1 1213.2,291.9 1213.6,291.9 1214.0,319.0 1214.4,313.0 1214.8,307.0 1215.2,313.0 1215.7,307.0 1216.1,303.9 1216.5,294.9 1216.9,325.0 1217.3,300.9 1217.7,294.9 1218.1,325.0 1218.6,297.9 1219.0,303.9 1219.4,306.9 1219.8,294.9 1220.2,291.8 1220.6,291.8 1221.0,285.8 1221.4,309.9 1221.9,322.0 1222.3,306.9 1222.7,300.8 1223.1,291.8 1223.5,297.8 1223.9,306.9 1224.3,291.8 1224.8,297.8 1225.2,300.8 1225.6,303.8 1226.0,297.8 1226.4,297.8 1226.8,300.8 1227.2,324.9 1227.7,309.8 1228.1,297.8 1228.5,288.7 1228.9,291.7 1229.3,291.7 1229.7,288.7 1230.1,294.7 1230.6,291.7 1231.0,294.7 1231.4,297.7 1231.8,309.8 1232.2,315.8 1232.6,297.7 1233.0,312.8 1233.5,300.7 1233.9,294.7 1234.3,306.7 1234.7,294.7 1235.1,300.7 1235.5,309.7 1235.9,297.7 1236.4,294.6 1236.8,306.7 1237.2,297.6 1237.6,312.7 1238.0,300.6 1238.4,297.6 1238.8,309.7 1239.3,300.6 1239.7,288.6 1240.1,306.6 1240.5,312.7 1240.9,315.7 1241.3,306.6 1241.7,312.7 1242.2,315.7 1242.6,300.6 1243.0,297.6 1243.4,309.6 1243.8,300.6 1244.2,294.5 1244.6,297.5 1245.1,297.5 1245.5,294.5 1245.9,306.6 1246.3,294.5 1246.7,285.5 1247.1,306.6 1247.5,318.6 1248.0,306.5 1248.4,309.6 1248.8,297.5 1249.2,291.5 1249.6,294.5 1250.0,285.4 1250.4,297.5 1250.9,300.5 1251.3,318.6 1251.7,297.5 1252.1,306.5 1252.5,303.5 1252.9,303.5 1253.3,288.4 1253.8,294.4 1254.2,300.4 1254.6,312.5 1255.0,303.4 1255.4,303.4 1255.8,294.4 1256.2,294.4 1256.7,294.4 1257.1,309.4 1257.5,291.4 1257.9,279.3 1258.3,312.4 1258.7,309.4 1259.1,300.4 1259.6,291.3 1260.0,297.3 1260.4,300.4 1260.8,288.3 1261.2,309.4 1261.6,318.4 1262.0,315.4 1262.5,294.3 1262.9,294.3 1263.3,303.3 1263.7,315.4 1264.1,309.3 1264.5,297.3 1264.9,294.3 1265.4,306.3 1265.8,309.3 1266.2,309.3 1266.6,306.3 1267.0,294.2 1267.4,300.3 1267.8,297.2 1268.3,300.3 1268.7,300.2 1269.1,312.3 1269.5,312.3 1269.9,297.2 1270.3,297.2 1270.7,291.2 1271.2,300.2 1271.6,309.2 1272.0,303.2 1272.4,303.2 1272.8,301.9 1273.2,314.3 1273.6,314.6 1274.1,321.0 1274.5,327.3 1274.9,333.6 1275.3,352.0 1275.7,340.3 1276.1,343.6 1276.5,356.0 1277.0,356.3 1277.4,371.7 1277.8,384.1 1278.2,381.4 1278.6,393.7 1279.0,400.1 1279.4,394.4 1279.9,418.8 1280.3,410.1 1280.7,428.5 1281.1,441.0 1281.5,420.7 1281.9,424.5 1282.3,425.2 1282.8,426.0 1283.2,420.7 1283.6,427.4 1284.0,431.1 1284.4,431.8 1284.8,426.4 1285.2,436.1 1285.7,430.7 1286.1,452.4 1286.5,434.9 1286.9,432.4 1287.3,430.0 1287.7,445.6 1288.1,437.1 1288.6,431.5 1289.0,417.0 1289.4,435.5 1289.8,433.0 1290.2,442.5 1290.6,421.9 1291.0,440.4 1291.4,440.8 1291.9,438.2 1292.3,453.7 1292.7,451.1 1293.1,442.4 1293.5,448.8 1293.9,434.1 1294.3,446.5 1294.8,425.8 1295.2,441.2 1295.6,450.5 1296.0,441.8 1296.4,439.1 1296.8,445.5 1297.2,442.7 1297.7,446.0 1298.1,452.4 1298.5,446.6 1298.9,434.8 1299.3,450.1 1299.7,447.4 1300.1,462.7 1300.6,453.9 1301.0,445.1 1301.4,451.3 1301.8,439.5 1302.2,439.7 1302.6,452.0 1303.0,449.2 1303.5,443.4 1303.9,446.6 1304.3,452.8 1304.7,468.0 1305.1,441.1 1305.5,450.3 1305.9,447.5 1306.4,456.7 1306.8,438.8 1307.2,451.0 1307.6,448.1 1308.0,469.4 1308.4,454.5 1308.8,451.6 1309.3,448.7 1309.7,445.8 1310.1,452.0 1310.5,443.1 1310.9,452.3 1311.3,452.4 1311.7,452.5 1312.2,467.7 1312.6,473.8 1313.0,440.8 1313.4,468.0 1313.8,459.1 1314.2,450.2 1314.6,459.3 1315.1,444.3 1315.5,471.6 1315.9,453.6 1316.3,447.6 1316.7,438.7 1317.1,441.8 1317.5,460.0 1318.0,448.0 1318.4,451.1 1318.8,466.2 1319.2,460.3 1319.6,448.3 1320.0,457.4 1320.4,463.5 1320.9,460.6 1321.3,466.7 1321.7,469.7 1322.1,451.7 1322.5,451.8 1322.9,448.8 1323.3,470.0 1323.8,467.0 1324.2,452.0 1324.6,455.1 1325.0,458.2 1325.4,467.3 1325.8,458.3 1326.2,470.4 1326.7,443.3 1327.1,449.4 1327.5,464.5 1327.9,446.5 1328.3,464.6 1328.7,452.6 1329.1,455.7 1329.6,458.7 1330.0,446.7 1330.4,473.9 1330.8,458.8 1331.2,458.9 1331.6,474.0 1332.0,471.0 1332.5,456.0 1332.9,456.0 1333.3,465.1 1333.7,453.1 1334.1,453.1 1334.5,450.1 1334.9,459.2 1335.4,459.2 1335.8,453.2 1336.2,462.3 1336.6,465.4 1337.0,468.4 1337.4,453.4 1337.8,447.4 1338.3,474.5 1338.7,459.5 1339.1,450.5 1339.5,447.5 1339.9,453.5 1340.3,465.6 1340.7,450.6 1341.2,441.5 1341.6,453.6 1342.0,450.6 1342.4,444.6 1342.8,468.8 1343.2,450.7 1343.6,444.7 1344.1,447.7 1344.5,453.8 1344.9,459.8 1345.3,459.9 1345.7,468.9 1346.1,459.9 1346.5,465.9 1347.0,456.9 1347.4,456.9 1347.8,460.0 1348.2,460.0 1348.6,457.0 1349.0,469.1 1349.4,451.0 1349.9,454.0 1350.3,451.0 1350.7,460.1 1351.1,457.1 1351.5,454.1 1351.9,454.1 1352.3,460.2 1352.8,460.2 1353.2,460.2 1353.6,460.2 1354.0,463.2 1354.4,463.2 1354.8,466.3 1355.2,448.2 1355.7,463.3 1356.1,457.3 1356.5,466.3 1356.9,454.3 1357.3,448.3 1357.7,463.4 1358.1,454.3 1358.6,457.4 1359.0,451.3 1359.4,457.4 1359.8,457.4 1360.2,457.4 1360.6,475.5 1361.0,448.4 1361.4,445.4 1361.9,463.5 1362.3,451.4 1362.7,457.5 1363.1,445.4 1363.5,460.5 1363.9,454.5 1364.3,448.5 1364.8,451.5 1365.2,454.5 1365.6,457.6 1366.0,460.6 1366.4,454.6 1366.8,463.6 1367.2,445.5 1367.7,451.6 1368.1,457.6 1368.5,469.7 1368.9,448.6 1369.3,445.6 1369.7,451.6 1370.1,448.6 1370.6,448.6 1371.0,457.7 1371.4,457.7 1371.8,454.7 1372.2,448.7 1372.6,460.7 1373.0,469.8 1373.5,454.7 1373.9,454.8 1374.3,457.8 1374.7,454.8 1375.1,466.8 1375.5,463.8 1375.9,457.8 1376.4,457.8 1376.8,451.8 1377.2,451.8 1377.6,454.8 1378.0,457.9 1378.4,463.9 1378.8,460.9 1379.3,469.9 1379.7,463.9 1380.1,454.9 1380.5,451.9 1380.9,467.0 1381.3,448.9 1381.7,479.0 1382.2,451.9 1382.6,458.0 1383.0,458.0 1383.4,455.0 1383.8,461.0 1384.2,442.9 1384.6,461.0 1385.1,458.0 1385.5,455.0 1385.9,476.1 1386.3,458.0 1386.7,470.1 1387.1,449.0 1387.5,461.1 1388.0,458.1 1388.4,473.1 1388.8,446.0 1389.2,473.2 1389.6,470.2 1390.0,464.1 1390.4,479.2 1390.9,470.2 1391.3,461.1 1391.7,449.1 1392.1,449.1 1392.5,467.2 1392.9,461.2 1393.3,452.1 1393.8,449.1 1394.2,464.2 1394.6,461.2 1395.0,458.2 1395.4,455.2 1395.8,458.2 1396.2,446.2 1396.7,458.2 1397.1,449.2 1397.5,455.2 1397.9,437.2 1398.3,446.2 1398.7,476.4 1399.1,452.3 1399.6,476.4 1400.0,449.3 1400.4,461.3 1400.8,476.4 1401.2,467.4 1401.6,461.3 1402.0,446.3 1402.5,458.3 1402.9,455.3 1403.3,464.4 1403.7,461.4 1404.1,470.4 1404.5,461.4 1404.9,461.4 1405.4,458.4 1405.8,464.4 1406.2,461.4 1406.6,461.4 1407.0,455.4 1407.4,464.5 1407.8,464.5 1408.3,467.5 1408.7,464.5 1409.1,461.5 1409.5,467.5 1409.9,449.4 1410.3,452.5 1410.7,455.5 1411.2,452.5 1411.6,470.6 1412.0,464.6 1412.4,464.6 1412.8,458.5 1413.2,452.5 1413.6,452.5 1414.1,473.6 1414.5,458.6 1414.9,452.6 1415.3,461.6 1415.7,455.6 1416.1,473.7 1416.5,458.6 1417.0,461.6 1417.4,476.7 1417.8,452.6 1418.2,449.6 1418.6,452.6 1419.0,461.7 1419.4,461.7 1419.9,464.7 1420.3,455.7 1420.7,455.7 1421.1,449.7 1421.5,458.7 1421.9,452.7 1422.3,461.7 1422.8,464.8 1423.2,458.7 1423.6,467.8 1424.0,467.8 1424.4,452.7 1424.8,452.7 1425.2,467.8 1425.7,467.8 1426.1,461.8 1426.5,464.8 1426.9,452.8 1427.3,461.8 1427.7,470.9 1428.1,467.9 1428.5,455.8 1429.0,443.8 1429.4,455.8 1429.8,470.9 1430.2,467.9 1430.6,458.9 1431.0,461.9 1431.4,458.9 1431.9,446.8 1432.3,467.9 1432.7,467.9 1433.1,458.9 1433.5,458.9 1433.9,458.9 1434.3,452.9 1434.8,458.9 1435.2,452.9 1435.6,459.0 1436.0,456.0 1436.4,477.1 1436.8,468.0 1437.2,462.0 1437.7,456.0 1438.1,465.0 1438.5,468.1 1438.9,468.1 1439.3,447.0 1439.7,474.1 1440.1,459.0 1440.6,459.0 1441.0,450.0 1441.4,456.1 1441.8,462.1 1442.2,453.1 1442.6,450.0 1443.0,462.1 1443.5,474.2 1443.9,471.2 1444.3,459.1 1444.7,468.2 1445.1,459.1 1445.5,450.1 1445.9,459.1 1446.4,444.1 1446.8,459.2 1447.2,471.2 1447.6,459.2 1448.0,453.2 1448.4,471.2 1448.8,456.2 1449.3,447.2 1449.7,459.2 1450.1,447.2 1450.5,474.3 1450.9,456.2 1451.3,474.3 1451.7,477.3 1452.2,474.3 1452.6,453.2 1453.0,456.3 1453.4,450.2 1453.8,468.3 1454.2,474.4 1454.6,453.3 1455.1,465.3 1455.5,474.4 1455.9,453.3 1456.3,453.3 1456.7,468.4 1457.1,459.3 1457.5,456.3 1458.0,468.4 1458.4,468.4 1458.8,456.4 1459.2,447.3 1459.6,468.4 1460.0,453.4 1460.4,456.4 1460.9,459.4 1461.3,462.4 1461.7,468.5 1462.1,453.4 1462.5,459.4 1462.9,483.6 1463.3,456.4 1463.8,468.5 1464.2,459.5 1464.6,444.4 1465.0,456.5 1465.4,480.6 1465.8,462.5 1466.2,471.6 1466.7,453.5 1467.1,489.7 1467.5,456.5 1467.9,459.5 1468.3,462.6 1468.7,456.5 1469.1,447.5 1469.6,477.7 1470.0,465.6 1470.4,459.6 1470.8,459.6 1471.2,462.6 1471.6,456.6 1472.0,459.6 1472.5,462.6 1472.9,477.7 1473.3,453.6 1473.7,447.6 1474.1,450.6 1474.5,456.7 1474.9,450.6 1475.4,474.7 1475.8,453.7 1476.2,456.7 1476.6,459.7 1477.0,450.7 1477.4,459.7 1477.8,462.7 1478.3,468.8 1478.7,477.8 1479.1,462.8 1479.5,447.7 1479.9,444.7 1480.3,465.8 1480.7,456.8 1481.2,447.7 1481.6,468.8 1482.0,462.8 1482.4,471.9 1482.8,447.8 1483.2,465.8 1483.6,462.8 1484.1,459.8 1484.5,468.9 1484.9,441.8 1485.3,450.8 1485.7,444.8 1486.1,478.0 1486.5,453.9 1487.0,459.9 1487.4,468.9 1487.8,459.9 1488.2,447.9 1488.6,450.9 1489.0,462.9 1489.4,438.8 1489.9,450.9 1490.3,466.0 1490.7,466.0 1491.1,466.0 1491.5,460.0 1491.9,463.0 1492.3,466.0 1492.8,451.0 1493.2,466.0 1493.6,457.0 1494.0,463.0 1494.4,460.0 1494.8,451.0 1495.2,457.0 1495.7,454.0 1496.1,460.1 1496.5,451.0 1496.9,460.1 1497.3,451.0 1497.7,472.1 1498.1,451.1 1498.5,454.1 1499.0,466.1 1499.4,466.1 1499.8,478.2 1500.2,460.1 1500.6,457.1 1501.0,463.2 1501.4,451.1 1501.9,481.3 1502.3,460.2 1502.7,472.2 1503.1,463.2 1503.5,454.2 1503.9,460.2 1504.3,448.2 1504.8,463.2 1505.2,466.2 1505.6,463.2 1506.0,472.3 1506.4,466.3 1506.8,460.3 1507.2,454.2 1507.7,469.3 1508.1,469.3 1508.5,475.3 1508.9,472.3 1509.3,460.3 1509.7,460.3 1510.1,457.3 1510.6,463.3 1511.0,451.3 1511.4,478.4 1511.8,460.3 1512.2,454.3 1512.6,463.4 1513.0,457.4 1513.5,463.4 1513.9,463.4 1514.3,460.4 1514.7,466.4 1515.1,460.4 1515.5,454.4 1515.9,472.5 1516.4,454.4 1516.8,451.4 1517.2,448.4 1517.6,463.5 1518.0,451.4 1518.4,478.5 1518.8,472.5 1519.3,460.5 1519.7,472.5 1520.1,469.5 1520.5,469.5 1520.9,463.5 1521.3,466.5 1521.7,469.6 1522.2,460.5 1522.6,466.6 1523.0,460.5 1523.4,457.5 1523.8,457.5 1524.2,463.6 1524.6,463.6 1525.1,463.6 1525.5,472.6 1525.9,457.6 1526.3,460.6 1526.7,454.6 1527.1,457.6 1527.5,466.7 1528.0,454.6 1528.4,463.7 1528.8,460.6 1529.2,457.6 1529.6,457.7 1530.0,466.7 1530.4,454.7 1530.9,457.7 1531.3,460.7 1531.7,463.7 1532.1,457.7 1532.5,475.8 1532.9,451.7 1533.3,484.8 1533.8,469.8 1534.2,469.8 1534.6,457.7 1535.0,460.8 1535.4,457.8 1535.8,472.8 1536.2,451.7 1536.7,454.8 1537.1,481.9 1537.5,460.8 1537.9,478.9 1538.3,466.8 1538.7,457.8 1539.1,460.8 1539.6,472.9 1540.0,466.9 1540.4,454.8 1540.8,460.9 1541.2,454.8 1541.6,479.0 1542.0,457.9 1542.5,460.9 1542.9,469.9 1543.3,451.9 1543.7,460.9 1544.1,454.9 1544.5,467.0 1544.9,457.9 1545.4,457.9 1545.8,461.0 1546.2,461.0 1546.6,458.0 1547.0,461.0 1547.4,473.0 1547.8,458.0 1548.3,461.0 1548.7,458.0 1549.1,470.1 1549.5,452.0 1549.9,455.0 1550.3,452.0 1550.7,449.0 1551.2,455.0 1551.6,464.1 1552.0,473.1 1552.4,452.0 1552.8,458.1 1553.2,455.1 1553.6,452.1 1554.1,464.1 1554.5,470.2 1554.9,458.1 1555.3,464.1 1555.7,470.2 1556.1,458.1 1556.5,464.2 1557.0,458.1 1557.4,470.2 1557.8,461.2 1558.2,464.2 1558.6,461.2 1559.0,467.2 1559.4,455.2 1559.9,476.3 1560.3,458.2 1560.7,455.2 1561.1,461.2 1561.5,461.2 1561.9,467.3 1562.3,458.2 1562.8,458.3 1563.2,461.3 1563.6,458.3 1564.0,458.3 1564.4,458.3 1564.8,479.4 1565.2,473.4 1565.7,461.3 1566.1,446.3 1566.5,455.3 1566.9,461.3 1567.3,464.4 1567.7,464.4 1568.1,458.3 1568.5,464.4 1569.0,461.4 1569.4,470.4 1569.8,464.4 1570.2,470.4 1570.6,467.4 1571.0,464.4 1571.4,452.4 1571.9,458.4 1572.3,455.4 1572.7,464.5 1573.1,458.4 1573.5,467.5 1573.9,464.5 1574.3,464.5 1574.8,476.5 1575.2,461.5 1575.6,473.6 1576.0,458.5 1576.4,467.5 1576.8,476.6 1577.2,473.6 1577.7,470.6 1578.1,452.5 1578.5,473.6 1578.9,464.6 1579.3,461.6 1579.7,464.6 1580.1,461.6 1580.6,455.6 1581.0,467.6 1581.4,449.5 1581.8,452.6 1582.2,461.6 1582.6,452.6 1583.0,461.6 1583.5,464.7 1583.9,473.7 1584.3,467.7 1584.7,458.6 1585.1,458.7 1585.5,449.6 1585.9,452.6 1586.4,455.7 1586.8,461.7 1587.2,449.7 1587.6,461.7 1588.0,485.8 1588.4,464.7 1588.8,458.7 1589.3,458.7 1589.7,458.7 1590.1,455.7 1590.5,485.9 1590.9,446.7 1591.3,458.8 1591.7,461.8 1592.2,479.9 1592.6,455.8 1593.0,470.9 1593.4,479.9 1593.8,458.8 1594.2,458.8 1594.6,464.9 1595.1,470.9 1595.5,458.8 1595.9,461.9 1596.3,458.9 1596.7,458.9 1597.1,477.0 1597.5,458.9 1598.0,474.0 1598.4,458.9 1598.8,464.9 1599.2,468.0 1599.6,449.9 1600.0,461.9 1600.4,461.9 1600.9,455.9 1601.3,446.9 1601.7,489.1 1602.1,459.0 1602.5,462.0 1602.9,456.0 1603.3,462.0 1603.8,462.0 1604.2,459.0 1604.6,462.0 1605.0,471.1 1605.4,462.0 1605.8,450.0 1606.2,459.0 1606.7,483.2 1607.1,462.1 1607.5,471.1 1607.9,456.1 1608.3,474.1 1608.7,462.1 1609.1,459.1 1609.6,456.1 1610.0,468.1 1610.4,459.1 1610.8,447.1 1611.2,468.2 1611.6,462.2 1612.0,471.2 1612.5,465.2 1612.9,459.2 1613.3,462.2 1613.7,456.2 1614.1,474.2 1614.5,462.2 1614.9,465.2 1615.4,489.3 1615.8,453.2 1616.2,462.2 1616.6,468.3 1617.0,456.2 1617.4,459.2 1617.8,486.4 1618.3,459.3 1618.7,444.2 1619.1,459.3 1619.5,456.3 1619.9,477.4 1620.3,477.4 1620.7,477.4 1621.2,453.3 1621.6,456.3 1622.0,486.4 1622.4,456.3 1622.8,483.4 1623.2,477.4 1623.6,462.4 1624.1,468.4 1624.5,462.4 1624.9,462.4 1625.3,453.4 1625.7,468.4 1626.1,468.4 1626.5,468.4 1627.0,444.3 1627.4,453.4 1627.8,453.4 1628.2,459.4 1628.6,459.4 1629.0,453.4 1629.4,462.5 1629.9,477.5 1630.3,477.6 1630.7,444.4 1631.1,471.5 1631.5,468.5 1631.9,462.5 1632.3,453.5 1632.8,474.6 1633.2,465.6 1633.6,459.5 1634.0,474.6 1634.4,462.6 1634.8,453.5 1635.2,459.6 1635.6,462.6 1636.1,459.6 1636.5,462.6 1636.9,465.6 1637.3,468.6 1637.7,456.6 1638.1,477.7 1638.5,474.7 1639.0,456.6 1639.4,453.6 1639.8,462.7 1640.2,471.7 1640.6,477.7 1641.0,459.7 1641.4,462.7 1641.9,459.7 1642.3,459.7 1642.7,474.8 1643.1,471.8 1643.5,465.7 1643.9,465.8 1644.3,480.8 1644.8,474.8 1645.2,465.8 1645.6,453.7 1646.0,447.7 1646.4,462.8 1646.8,465.8 1647.2,459.8 1647.7,462.8 1648.1,471.9 1648.5,493.0 1648.9,462.8 1649.3,468.9 1649.7,462.8 1650.1,474.9 1650.6,465.9 1651.0,462.9 1651.4,477.9 1651.8,471.9 1652.2,459.9 1652.6,456.9 1653.0,481.0 1653.5,456.9 1653.9,453.9 1654.3,459.9 1654.7,459.9 1655.1,462.9 1655.5,459.9 1655.9,469.0 1656.4,453.9 1656.8,463.0 1657.2,478.0 1657.6,460.0 1658.0,457.0 1658.4,460.0 1658.8,472.0 1659.3,460.0 1659.7,493.2 1660.1,451.0 1660.5,460.0 1660.9,481.1 1661.3,484.1 1661.7,445.0 1662.2,463.1 1662.6,472.1 1663.0,460.1 1663.4,466.1 1663.8,466.1 1664.2,460.1 1664.6,460.1 1665.1,475.2 1665.5,460.1 1665.9,463.1 1666.3,472.2 1666.7,457.1 1667.1,460.1 1667.5,472.2 1668.0,451.1 1668.4,460.2 1668.8,454.1 1669.2,472.2 1669.6,469.2 1670.0,463.2 1670.4,469.2 1670.9,466.2 1671.3,478.3 1671.7,448.2 1672.1,460.2 1672.5,454.2 1672.9,451.2 1673.3,463.3 1673.8,448.2 1674.2,487.4 1674.6,466.3 1675.0,469.3 1675.4,463.3 1675.8,475.4 1676.2,457.3 1676.7,448.3 1677.1,463.3 1677.5,460.3 1677.9,484.4 1678.3,472.4 1678.7,460.4 1679.1,469.4 1679.6,460.4 1680.0,466.4 1680.4,460.4 1680.8,478.5 1681.2,460.4 1681.6,454.4 1682.0,457.4 1682.5,448.4 1682.9,463.4 1683.3,457.4 1683.7,475.5 1684.1,457.4 1684.5,460.5 1684.9,466.5 1685.4,454.4 1685.8,475.5 1686.2,466.5 1686.6,460.5 1687.0,472.6 1687.4,472.6 1687.8,457.5 1688.3,466.6 1688.7,472.6 1689.1,469.6 1689.5,469.6 1689.9,472.6 1690.3,460.6 1690.7,475.6 1691.2,478.7 1691.6,463.6 1692.0,463.6 1692.4,454.6 1692.8,475.7 1693.2,469.7 1693.6,457.6 1694.1,460.6 1694.5,469.7 1694.9,472.7 1695.3,457.6 1695.7,463.7 1696.1,472.7 1696.5,469.7 1697.0,466.7 1697.4,457.7 1697.8,487.8 1698.2,469.7 1698.6,454.7 1699.0,481.8 1699.4,466.8 1699.9,457.7 1700.3,478.8 1700.7,469.8 1701.1,472.8 1701.5,463.8 1701.9,469.8 1702.3,475.8 1702.8,463.8 1703.2,463.8 1703.6,457.8 1704.0,469.9 1704.4,466.8 1704.8,469.9 1705.2,454.8 1705.6,454.8 1706.1,472.9 1706.5,485.0 1706.9,451.8 1707.3,482.0 1707.7,482.0 1708.1,469.9 1708.5,451.9 1709.0,457.9 1709.4,466.9 1709.8,460.9 1710.2,467.0 1710.6,457.9 1711.0,470.0 1711.4,451.9 1711.9,461.0 1712.3,470.0 1712.7,482.1 1713.1,458.0 1713.5,461.0 1713.9,473.0 1714.3,473.1 1714.8,470.0 1715.2,467.0 1715.6,467.0 1716.0,464.0 1716.4,464.1 1716.8,470.1 1717.2,449.0 1717.7,467.1 1718.1,470.1 1718.5,461.1 1718.9,473.1 1719.3,461.1 1719.7,464.1 1720.1,458.1 1720.6,473.2 1721.0,482.2 1721.4,455.1 1721.8,467.2 1722.2,452.1 1722.6,461.1 1723.0,470.2 1723.5,461.2 1723.9,476.2 1724.3,473.2 1724.7,464.2 1725.1,464.2 1725.5,482.3 1725.9,458.2 1726.4,461.2 1726.8,458.2 1727.2,479.3 1727.6,461.2 1728.0,470.3 1728.4,470.3 1728.8,458.2 1729.3,464.3 1729.7,461.3 1730.1,458.3 1730.5,455.3 1730.9,473.4 1731.3,473.4 1731.7,461.3 1732.2,461.3 1732.6,470.4 1733.0,461.3 1733.4,473.4 1733.8,467.4 1734.2,464.4 1734.6,461.4 1735.1,458.4 1735.5,467.4 1735.9,464.4 1736.3,473.5 1736.7,458.4 1737.1,461.4 1737.5,467.4 1738.0,449.4 1738.4,464.4 1738.8,464.5 1739.2,467.5 1739.6,461.5 1740.0,461.5 1740.4,470.5 1740.9,461.5 1741.3,455.5 1741.7,452.5 1742.1,458.5 1742.5,464.5 1742.9,470.6 1743.3,458.5 1743.8,455.5 1744.2,446.5 1744.6,464.6 1745.0,473.6 1745.4,470.6 1745.8,461.6 1746.2,458.6 1746.7,470.6 1747.1,473.6 1747.5,479.7 1747.9,458.6 1748.3,476.7 1748.7,458.6 1749.1,464.6 1749.6,482.7 1750.0,473.7 1750.4,455.6 1750.8,464.7 1751.2,464.7 1751.6,455.6 1752.0,464.7 1752.5,464.7 1752.9,464.7 1753.3,464.7 1753.7,455.7 1754.1,467.7 1754.5,455.7 1754.9,452.7 1755.4,467.8 1755.8,461.8 1756.2,473.8 1756.6,464.8 1757.0,455.7 1757.4,458.8 1757.8,467.8 1758.3,458.8 1758.7,461.8 1759.1,464.8 1759.5,461.8 1759.9,449.8 1760.3,489.0 1760.7,470.9 1761.2,458.8 1761.6,464.9 1762.0,461.9 1762.4,461.9 1762.8,464.9 1763.2,464.9 1763.6,470.9 1764.1,464.9 1764.5,458.9 1764.9,455.9 1765.3,461.9 1765.7,468.0 1766.1,468.0 1766.5,480.0 1767.0,465.0 1767.4,474.0 1767.8,471.0 1768.2,468.0 1768.6,465.0 1769.0,465.0 1769.4,465.0 1769.9,474.1 1770.3,468.0 1770.7,459.0 1771.1,465.0 1771.5,462.0 1771.9,465.1 1772.3,453.0 1772.8,453.0 1773.2,447.0 1773.6,468.1 1774.0,459.1 1774.4,477.2 1774.8,459.1 1775.2,462.1 1775.6,468.1 1776.1,453.1 1776.5,462.1 1776.9,480.2 1777.3,453.1 1777.7,465.2 1778.1,459.1 1778.5,471.2 1779.0,471.2 1779.4,474.2 1779.8,474.2 1780.2,459.2 1780.6,459.2 1781.0,480.3 1781.4,465.2 1781.9,465.2 1782.3,471.3 1782.7,462.2 1783.1,471.3 1783.5,459.2 1783.9,468.3 1784.3,462.3 1784.8,495.4 1785.2,468.3 1785.6,465.3 1786.0,471.3 1786.4,468.3 1786.8,474.4 1787.2,459.3 1787.7,474.4 1788.1,468.4 1788.5,456.3 1788.9,456.3 1789.3,465.4 1789.7,477.4 1790.1,483.5 1790.6,462.4 1791.0,465.4 1791.4,468.4 1791.8,468.4 1792.2,450.4 1792.6,459.4 1793.0,465.4 1793.5,468.5 1793.9,468.5 1794.3,462.4 1794.7,468.5 1795.1,465.5 1795.5,471.5 1795.9,459.5 1796.4,465.5 1796.8,477.6 1797.2,444.4 1797.6,462.5 1798.0,471.6 1798.4,477.6 1798.8,465.5 1799.3,471.6 1799.7,453.5 1800.1,462.6 1800.5,471.6 1800.9,483.7 1801.3,459.6 1801.7,480.7 1802.2,462.6 1802.6,465.6 1803.0,492.7 1803.4,468.6 1803.8,453.6 1804.2,474.7 1804.6,486.7 1805.1,483.7 1805.5,465.7 1805.9,462.7 1806.3,459.7 1806.7,462.7 1807.1,474.7 1807.5,471.7 1808.0,468.7 1808.4,468.7 1808.8,477.8 1809.2,462.7 1809.6,459.7 1810.0,468.8 1810.4,465.8 1810.9,477.8 1811.3,465.8 1811.7,474.8 1812.1,474.8 1812.5,459.8 1812.9,465.8 1813.3,471.8 1813.8,480.9 1814.2,465.8 1814.6,453.8 1815.0,462.8 1815.4,465.8 1815.8,456.8 1816.2,450.8 1816.7,462.9 1817.1,459.8 1817.5,462.9 1817.9,462.9 1818.3,462.9 1818.7,456.9 1819.1,468.9 1819.6,462.9 1820.0,462.9 1820.4,465.9 1820.8,472.0 1821.2,459.9 1821.6,469.0 1822.0,481.0 1822.5,459.9 1822.9,478.0 1823.3,460.0 1823.7,490.1 1824.1,466.0 1824.5,454.0 1824.9,466.0 1825.4,457.0 1825.8,469.0 1826.2,472.1 1826.6,469.1 1827.0,460.0 1827.4,457.0 1827.8,454.0 1828.3,460.1 1828.7,466.1 1829.1,484.2 1829.5,472.1 1829.9,454.1 1830.3,481.2 1830.7,463.1 1831.2,463.1 1831.6,481.2 1832.0,463.1 1832.4,469.2 1832.8,463.1 1833.2,466.2 1833.6,469.2 1834.1,475.2 1834.5,484.3 1834.9,454.1 1835.3,475.2 1835.7,469.2 1836.1,469.2 1836.5,469.2 1837.0,472.3 1837.4,463.2 1837.8,466.3 1838.2,469.3 1838.6,472.3 1839.0,463.3 1839.4,475.3 1839.9,463.3 1840.3,457.3 1840.7,457.3 1841.1,463.3 1841.5,481.4 1841.9,460.3 1842.3,463.3 1842.7,457.3 1843.2,472.4 1843.6,469.4 1844.0,454.3 1844.4,472.4 1844.8,457.3 1845.2,463.4 1845.6,490.5 1846.1,469.4 1846.5,469.4 1846.9,478.5 1847.3,484.5 1847.7,466.4 1848.1,475.5 1848.5,472.5 1849.0,475.5 1849.4,469.5 1849.8,463.5 1850.2,460.4 1850.6,463.5 1851.0,469.5 1851.4,466.5 1851.9,460.5 1852.3,457.5 1852.7,466.5 1853.1,478.6 1853.5,463.5 1853.9,460.5 1854.3,469.6 1854.8,457.5 1855.2,469.6 1855.6,466.6 1856.0,463.6 1856.4,454.5 1856.8,478.6 1857.2,463.6 1857.7,460.6 1858.1,466.6 1858.5,457.6 1858.9,472.7 1859.3,478.7 1859.7,478.7 1860.1,472.7 1860.6,475.7 1861.0,463.7 1861.4,466.7 1861.8,481.8 1862.2,454.6 1862.6,463.7 1863.0,481.8 1863.5,484.8 1863.9,466.7 1864.3,457.7 1864.7,469.8 1865.1,460.7 1865.5,454.7 1865.9,460.7 1866.4,469.8 1866.8,478.8 1867.2,472.8 1867.6,457.8 1868.0,466.8 1868.4,475.8 1868.8,469.8 1869.3,466.8 1869.7,457.8 1870.1,472.9 1870.5,451.8 1870.9,463.8 1871.3,463.8 1871.7,475.9 1872.2,463.9 1872.6,463.9 1873.0,460.9 1873.4,472.9 1873.8,463.9 1874.2,482.0 1874.6,476.0 1875.1,448.8 1875.5,469.9 1875.9,473.0 1876.3,460.9 1876.7,467.0 1877.1,448.9 1877.5,467.0 1878.0,461.0 1878.4,470.0 1878.8,458.0 1879.2,467.0 1879.6,445.9 1880.0,473.0 1880.4,464.0 1880.9,461.0 1881.3,479.1 1881.7,473.1 1882.1,473.1 1882.5,482.1 1882.9,464.1 1883.3,494.2 1883.8,479.1 1884.2,479.1 1884.6,464.1 1885.0,467.1 1885.4,458.1 1885.8,458.1 1886.2,467.1 1886.7,476.2 1887.1,461.1 1887.5,473.2 1887.9,470.2 1888.3,467.2 1888.7,455.1 1889.1,449.1 1889.6,458.1 1890.0,470.2 1890.4,461.2 1890.8,458.2 1891.2,476.3 1891.6,467.2 1892.0,473.3 1892.5,473.3 1892.9,467.2 1893.3,467.3 1893.7,473.3 1894.1,467.3 1894.5,479.3 1894.9,467.3 1895.4,467.3 1895.8,470.3 1896.2,482.4 1896.6,473.3 1897.0,464.3 1897.4,461.3 1897.8,461.3 1898.3,458.3 1898.7,455.3 1899.1,470.4 1899.5,458.3 1899.9,476.4 1900.3,455.3 1900.7,461.4 1901.2,476.4 1901.6,461.4 1902.0,461.4 1902.4,476.5 1902.8,464.4 1903.2,461.4 1903.6,452.4 1904.1,473.5 1904.5,455.4 1904.9,476.5 1905.3,476.5 1905.7,458.4 1906.1,461.5 1906.5,473.5 1907.0,455.5 1907.4,464.5 1907.8,464.5 1908.2,470.5 1908.6,491.6 1909.0,467.5 1909.4,461.5 1909.9,467.6 1910.3,461.5 1910.7,467.6 1911.1,458.5 1911.5,494.7 1911.9,464.6 1912.3,476.6 1912.7,464.6 1913.2,461.6 1913.6,458.6 1914.0,461.6 1914.4,458.6 1914.8,476.7 1915.2,467.7 1915.6,488.8 1916.1,464.7 1916.5,482.7 1916.9,458.6 1917.3,464.7 1917.7,470.7 1918.1,473.7 1918.5,467.7 1919.0,473.7 1919.4,482.8 1919.8,464.7 1920.2,476.8 1920.6,464.7 1921.0,476.8 1921.4,479.8 1921.9,452.7 1922.3,464.8 1922.7,458.7 1923.1,470.8 1923.5,467.8 1923.9,467.8 1924.3,452.8 1924.8,461.8 1925.2,467.8 1925.6,467.8 1926.0,467.9 1926.4,458.8 1926.8,467.9 1927.2,467.9 1927.7,458.8 1928.1,461.9 1928.5,461.9 1928.9,452.8 1929.3,467.9 1929.7,480.0 1930.1,483.0 1930.6,467.9 1931.0,464.9 1931.4,461.9 1931.8,483.0 1932.2,480.0 1932.6,471.0 1933.0,471.0 1933.5,483.1 1933.9,471.0 1934.3,462.0 1934.7,471.0 1935.1,449.9 1935.5,462.0 1935.9,477.1 1936.4,471.1 1936.8,483.1 1937.2,453.0 1937.6,471.1 1938.0,471.1 1938.4,462.0 1938.8,471.1 1939.3,474.1 1939.7,468.1 1940.1,462.1 1940.5,462.1 1940.9,483.2 1941.3,486.2 1941.7,465.1 1942.2,471.2 1942.6,474.2 1943.0,462.1 1943.4,465.2 1943.8,474.2 1944.2,465.2 1944.6,477.2 1945.1,474.2 1945.5,456.1 1945.9,471.2 1946.3,465.2 1946.7,471.2 1947.1,471.2 1947.5,480.3 1948.0,480.3 1948.4,459.2 1948.8,453.2 1949.2,462.2 1949.6,465.3 1950.0,474.3 1950.4,468.3 1950.9,456.2 1951.3,450.2 1951.7,462.3 1952.1,465.3 1952.5,459.3 1952.9,468.3 1953.3,474.4 1953.8,477.4 1954.2,471.4 1954.6,471.4 1955.0,492.5 1955.4,486.5 1955.8,462.4 1956.2,462.4 1956.7,462.4 1957.1,471.4 1957.5,474.4 1957.9,468.4 1958.3,465.4 1958.7,474.5 1959.1,459.4 1959.6,474.5 1960.0,492.6 1960.4,462.4 1960.8,462.5 1961.2,471.5 1961.6,459.5 1962.0,459.5 1962.5,495.6 1962.9,465.5 1963.3,480.6 1963.7,462.5 1964.1,465.5 1964.5,462.5 1964.9,471.6 1965.4,474.6 1965.8,465.6 1966.2,450.5 1966.6,465.6 1967.0,477.6 1967.4,468.6 1967.8,471.6 1968.3,459.6 1968.7,468.6 1969.1,471.6 1969.5,468.6 1969.9,474.7 1970.3,465.6 1970.7,480.7 1971.2,471.7 1971.6,465.7 1972.0,480.7 1972.4,480.7 1972.8,474.7 1973.2,456.7 1973.6,462.7 1974.1,468.7 1974.5,459.7 1974.9,462.7 1975.3,474.8 1975.7,480.8 1976.1,459.7 1976.5,474.8 1977.0,462.7 1977.4,483.8 1977.8,468.8 1978.2,480.8 1978.6,462.8 1979.0,462.8 1979.4,465.8 1979.9,462.8 1980.3,474.9 1980.7,465.8 1981.1,462.8 1981.5,477.9 1981.9,462.8 1982.3,465.9 1982.7,465.9 1983.2,471.9 1983.6,468.9 1984.0,465.9 1984.4,468.9 1984.8,462.9 1985.2,481.0 1985.6,462.9 1986.1,475.0 1986.5,459.9 1986.9,484.0 1987.3,475.0 1987.7,466.0 1988.1,466.0 1988.5,472.0 1989.0,478.0 1989.4,463.0 1989.8,460.0 1990.2,478.1 1990.6,481.1 1991.0,475.1 1991.4,469.0 1991.9,487.1 1992.3,478.1 1992.7,463.0 1993.1,478.1 1993.5,478.1 1993.9,457.0 1994.3,460.0 1994.8,457.0 1995.2,469.1 1995.6,469.1 1996.0,472.1 1996.4,484.2 1996.8,490.2 1997.2,469.1 1997.7,475.2 1998.1,463.1 1998.5,463.1 1998.9,484.2 1999.3,481.2 1999.7,466.2 2000.1,457.1 2000.6,457.1 2001.0,475.2 2001.4,469.2 2001.8,457.2 2002.2,475.3 2002.6,478.3 2003.0,460.2 2003.5,475.3 2003.9,481.3 2004.3,457.2 2004.7,472.3 2005.1,472.3 2005.5,463.3 2005.9,457.2 2006.4,463.3 2006.8,466.3 2007.2,466.3 2007.6,466.3 2008.0,466.3 2008.4,484.4 2008.8,466.3 2009.3,481.4 2009.7,475.4 2010.1,466.4 2010.5,469.4 2010.9,466.4 2011.3,469.4 2011.7,466.4 2012.2,454.3 2012.6,478.5 2013.0,460.4 2013.4,454.4 2013.8,472.5 2014.2,472.5 2014.6,469.5 2015.1,466.5 2015.5,475.5 2015.9,472.5 2016.3,469.5 2016.7,469.5 2017.1,457.4 2017.5,472.5 2018.0,463.5 2018.4,463.5 2018.8,466.5 2019.2,466.5 2019.6,475.6 2020.0,475.6 2020.4,466.5 2020.9,466.6 2021.3,469.6 2021.7,460.5 2022.1,466.6 2022.5,469.6 2022.9,469.6 2023.3,460.6 2023.8,463.6 2024.2,466.6 2024.6,481.7 2025.0,457.6 2025.4,481.7 2025.8,466.6 2026.2,481.7 2026.7,484.7 2027.1,499.8 2027.5,466.7 2027.9,466.7 2028.3,472.7 2028.7,472.7 2029.1,481.8 2029.6,469.7 2030.0,472.7 2030.4,484.8 2030.8,475.8 2031.2,472.8 2031.6,481.8 2032.0,460.7 2032.5,481.8 2032.9,454.7 2033.3,460.8 2033.7,475.8 2034.1,457.8 2034.5,460.8 2034.9,460.8 2035.4,469.8 2035.8,478.9 2036.2,490.9 2036.6,466.8 2037.0,469.9 2037.4,475.9 2037.8,454.8 2038.3,466.9 2038.7,485.0 2039.1,469.9 2039.5,466.9 2039.9,482.0 2040.3,466.9 2040.7,472.9 2041.2,485.0 2041.6,466.9 2042.0,463.9 2042.4,497.1 2042.8,467.0 2043.2,476.0 2043.6,473.0 2044.1,485.1 2044.5,479.0 2044.9,458.0 2045.3,464.0 2045.7,473.0 2046.1,470.0 2046.5,479.1 2047.0,470.0 2047.4,479.1 2047.8,467.0 2048.2,482.1 2048.6,470.1 2049.0,464.1 2049.4,473.1 2049.8,470.1 2050.3,467.1 2050.7,476.1 2051.1,485.2 2051.5,461.1 2051.9,470.1 2052.3,473.2 2052.7,461.1 2053.2,479.2 2053.6,476.2 2054.0,476.2 2054.4,479.2 2054.8,470.2 2055.2,476.2 2055.6,461.2 2056.1,476.2 2056.5,461.2 2056.9,479.3 2057.3,473.2 2057.7,470.2 2058.1,479.3 2058.5,464.2 2059.0,476.3 2059.4,476.3 2059.8,464.2 2060.2,476.3 2060.6,464.3 2061.0,461.3 2061.4,464.3 2061.9,461.3 2062.3,473.3 2062.7,461.3 2063.1,476.4 2063.5,485.4 2063.9,470.4 2064.3,455.3 2064.8,479.4 2065.2,458.3 2065.6,485.4 2066.0,464.4 2066.4,467.4 2066.8,473.4 2067.2,491.5 2067.7,464.4 2068.1,464.4 2068.5,467.4 2068.9,464.4 2069.3,479.5 2069.7,455.4 2070.1,464.4 2070.6,476.5 2071.0,455.4 2071.4,470.5 2071.8,467.5 2072.2,464.5 2072.6,479.5 2073.0,479.6 2073.5,470.5 2073.9,482.6 2074.3,473.6 2074.7,461.5 2075.1,482.6 2075.5,470.6 2075.9,476.6 2076.4,464.5 2076.8,482.6 2077.2,482.6 2077.6,473.6 2078.0,455.5 2078.4,479.7 2078.8,488.7 2079.3,479.7 2079.7,464.6 2080.1,464.6 2080.5,470.7 2080.9,467.6 2081.3,485.7 2081.7,467.7 2082.2,473.7 2082.6,476.7 2083.0,464.7 2083.4,464.7 2083.8,476.7 2084.2,470.7 2084.6,488.8 2085.1,482.8 2085.5,461.7 2085.9,482.8 2086.3,479.8 2086.7,461.7 2087.1,494.9 2087.5,476.8 2088.0,464.8 2088.4,476.8 2088.8,479.8 2089.2,482.9 2089.6,470.8 2090.0,479.9 2090.4,467.8 2090.9,473.9 2091.3,470.8 2091.7,464.8 2092.1,476.9 2092.5,479.9 2092.9,470.9 2093.3,470.9 2093.8,473.9 2094.2,489.0 2094.6,467.9 2095.0,489.0 2095.4,492.0 2095.8,464.9 2096.2,461.9 2096.7,474.0 2097.1,480.0 2097.5,461.9 2097.9,483.0 2098.3,471.0 2098.7,477.0 2099.1,468.0 2099.6,468.0 2100.0,480.0 2100.4,462.0 2100.8,465.0 2101.2,471.0 2101.6,474.0 2102.0,471.0 2102.5,483.1 2102.9,474.1 2103.3,474.1 2103.7,468.1 2104.1,474.1 2104.5,474.1 2104.9,468.1 2105.4,465.1 2105.8,468.1 2106.2,471.1 2106.6,474.1 2107.0,462.1 2107.4,471.1 2107.8,483.2 2108.3,468.1 2108.7,489.2 2109.1,477.2 2109.5,465.1 2109.9,474.2 2110.3,474.2 2110.7,465.2 2111.2,462.2 2111.6,480.3 2112.0,483.3 2112.4,477.3 2112.8,483.3 2113.2,468.2 2113.6,465.2 2114.1,471.3 2114.5,480.3 2114.9,486.3 2115.3,474.3 2115.7,480.3 2116.1,468.3 2116.5,483.4 2117.0,477.3 2117.4,474.3 2117.8,465.3 2118.2,465.3 2118.6,468.3 2119.0,471.3 2119.4,465.3 2119.8,489.4 2120.3,465.3 2120.7,474.4 2121.1,459.3 2121.5,465.4 2121.9,462.4 2122.3,477.4 2122.7,450.3 2123.2,468.4 2123.6,468.4 2124.0,477.5 2124.4,468.4 2124.8,492.5 2125.2,462.4 2125.6,468.5 2126.1,471.5 2126.5,462.4 2126.9,468.5 2127.3,468.5 2127.7,474.5 2128.1,468.5 2128.5,483.6 2129.0,480.6 2129.4,471.5 2129.8,477.6 2130.2,483.6 2130.6,471.6 2131.0,489.6 2131.4,459.5 2131.9,480.6 2132.3,480.6 2132.7,459.5 2133.1,486.7 2133.5,492.7 2133.9,471.6 2134.3,474.6 2134.8,465.6 2135.2,471.6 2135.6,486.7 2136.0,471.7 2136.4,474.7 2136.8,462.6 2137.2,468.7 2137.7,480.7 2138.1,477.7 2138.5,471.7 2138.9,474.7 2139.3,468.7 2139.7,468.7 2140.1,483.8 2140.6,468.7 2141.0,465.7 2141.4,483.8 2141.8,486.8 2142.2,465.7 2142.6,468.8 2143.0,465.8 2143.5,459.7 2143.9,471.8 2144.3,480.8 2144.7,468.8 2145.1,477.8 2145.5,468.8 2145.9,465.8 2146.4,471.8 2146.8,468.8 2147.2,471.9 2147.6,468.9 2148.0,483.9 2148.4,459.8 2148.8,477.9 2149.3,474.9 2149.7,477.9 2150.1,474.9 2150.5,474.9 2150.9,490.0 2151.3,459.9 2151.7,468.9 2152.2,475.0 2152.6,472.0 2153.0,462.9 2153.4,465.9 2153.8,469.0 2154.2,466.0 2154.6,496.1 2155.1,466.0 2155.5,475.0 2155.9,478.0 2156.3,481.1 2156.7,472.0 2157.1,490.1 2157.5,469.0 2158.0,481.1 2158.4,466.0 2158.8,490.2 2159.2,469.1 2159.6,475.1 2160.0,484.1 2160.4,463.1 2160.9,463.1 2161.3,481.2 2161.7,475.1 2162.1,463.1 2162.5,472.1 2162.9,478.2 2163.3,481.2 2163.8,481.2 2164.2,469.2 2164.6,466.1 2165.0,475.2 2165.4,484.2 2165.8,481.2 2166.2,490.3 2166.7,469.2 2167.1,472.2 2167.5,466.2 2167.9,457.2 2168.3,463.2 2168.7,478.3 2169.1,475.3 2169.6,487.3 2170.0,493.4 2170.4,460.2 2170.8,472.3 2171.2,487.4 2171.6,469.3 2172.0,493.4 2172.5,475.3 2172.9,472.3 2173.3,481.4 2173.7,478.4 2174.1,466.3 2174.5,478.4 2174.9,466.3 2175.4,490.5 2175.8,478.4 2176.2,460.3 2176.6,484.4 2177.0,484.5 2177.4,472.4 2177.8,478.4 2178.3,472.4 2178.7,466.4 2179.1,469.4 2179.5,472.4 2179.9,478.5 2180.3,472.5 2180.7,466.4 2181.2,481.5 2181.6,478.5 2182.0,484.5 2182.4,475.5" fill="none" stroke="#0000ff" stroke-width="7.0" stroke-linejoin="round" stroke-linecap="round" clip-path="url(#cm)"/>
<polyline points="237.0,1541.0 251.2,1359.9 258.0,1268.1 260.9,1318.7 264.6,1296.5 311.0,306.0 311.5,319.5 311.9,298.4 312.3,313.5 312.7,310.4 313.1,307.4 313.5,313.5 313.9,316.5 314.4,301.4 314.8,304.4 315.2,322.5 315.6,289.3 316.0,301.4 316.4,313.4 316.8,301.4 317.3,310.4 317.7,307.4 318.1,301.4 318.5,316.4 318.9,304.4 319.3,298.3 319.7,298.3 320.2,310.4 320.6,301.4 321.0,319.4 321.4,307.4 321.8,304.4 322.2,316.4 322.6,307.4 323.1,295.3 323.5,289.3 323.9,301.3 324.3,301.3 324.7,313.4 325.1,316.4 325.5,316.4 325.9,304.3 326.4,301.3 326.8,313.4 327.2,316.4 327.6,304.3 328.0,304.3 328.4,307.3 328.8,298.3 329.3,307.3 329.7,307.3 330.1,316.4 330.5,307.3 330.9,298.3 331.3,307.3 331.7,307.3 332.2,304.3 332.6,304.3 333.0,304.3 333.4,304.3 333.8,301.3 334.2,313.3 334.6,304.3 335.1,319.3 335.5,304.3 335.9,316.3 336.3,307.3 336.7,304.2 337.1,310.3 337.5,307.3 338.0,319.3 338.4,313.3 338.8,301.2 339.2,316.3 339.6,301.2 340.0,316.3 340.4,313.3 340.9,316.3 341.3,307.2 341.7,304.2 342.1,316.3 342.5,307.2 342.9,295.2 343.3,310.2 343.8,313.2 344.2,304.2 344.6,310.2 345.0,313.2 345.4,319.3 345.8,301.2 346.2,310.2 346.7,307.2 347.1,316.2 347.5,298.1 347.9,301.2 348.3,301.2 348.7,307.2 349.1,304.2 349.6,301.1 350.0,298.1 350.4,304.2 350.8,307.2 351.2,310.2 351.6,313.2 352.0,313.2 352.5,304.1 352.9,310.2 353.3,322.2 353.7,307.1 354.1,298.1 354.5,310.1 354.9,322.2 355.4,307.1 355.8,301.1 356.2,307.1 356.6,310.1 357.0,292.1 357.4,292.0 357.8,307.1 358.3,301.1 358.7,304.1 359.1,301.1 359.5,295.0 359.9,301.1 360.3,307.1 360.7,313.1 361.2,313.1 361.6,307.1 362.0,298.0 362.4,304.1 362.8,307.1 363.2,304.1 363.6,307.1 364.1,304.1 364.5,316.1 364.9,322.1 365.3,310.1 365.7,316.1 366.1,295.0 366.5,307.0 367.0,310.1 367.4,319.1 367.8,304.0 368.2,313.1 368.6,298.0 369.0,301.0 369.4,313.1 369.9,304.0 370.3,328.1 370.7,313.0 371.1,298.0 371.5,301.0 371.9,307.0 372.3,307.0 372.8,316.0 373.2,316.0 373.6,304.0 374.0,294.9 374.4,322.1 374.8,301.0 375.2,304.0 375.7,301.0 376.1,313.0 376.5,310.0 376.9,307.0 377.3,316.0 377.7,316.0 378.1,313.0 378.6,307.0 379.0,303.9 379.4,307.0 379.8,307.0 380.2,313.0 380.6,313.0 381.0,297.9 381.5,306.9 381.9,306.9 382.3,300.9 382.7,297.9 383.1,297.9 383.5,303.9 383.9,306.9 384.4,303.9 384.8,306.9 385.2,297.9 385.6,303.9 386.0,300.9 386.4,306.9 386.8,297.9 387.3,322.0 387.7,303.9 388.1,300.9 388.5,315.9 388.9,291.8 389.3,306.9 389.7,306.9 390.2,315.9 390.6,300.9 391.0,303.9 391.4,309.9 391.8,303.9 392.2,300.8 392.6,297.8 393.0,303.8 393.5,312.9 393.9,309.9 394.3,324.9 394.7,312.9 395.1,300.8 395.5,303.8 395.9,306.8 396.4,309.8 396.8,294.8 397.2,303.8 397.6,300.8 398.0,303.8 398.4,312.8 398.8,294.8 399.3,315.9 399.7,315.9 400.1,309.8 400.5,312.8 400.9,309.8 401.3,309.8 401.7,300.8 402.2,306.8 402.6,303.8 403.0,318.8 403.4,312.8 403.8,297.7 404.2,315.8 404.6,297.7 405.1,315.8 405.5,303.8 405.9,312.8 406.3,306.8 406.7,312.8 407.1,309.8 407.5,294.7 408.0,309.8 408.4,291.7 408.8,309.8 409.2,315.8 409.6,306.7 410.0,309.8 410.4,294.7 410.9,300.7 411.3,297.7 411.7,300.7 412.1,288.6 412.5,300.7 412.9,303.7 413.3,312.7 413.8,312.7 414.2,306.7 414.6,300.7 415.0,297.7 415.4,312.7 415.8,303.7 416.2,306.7 416.7,315.7 417.1,303.7 417.5,324.8 417.9,303.7 418.3,288.6 418.7,315.7 419.1,306.7 419.6,321.7 420.0,312.7 420.4,300.6 420.8,315.7 421.2,306.7 421.6,309.7 422.0,309.7 422.5,306.6 422.9,303.6 423.3,297.6 423.7,300.6 424.1,309.7 424.5,297.6 424.9,297.6 425.4,318.7 425.8,300.6 426.2,300.6 426.6,300.6 427.0,303.6 427.4,315.7 427.8,309.6 428.3,321.7 428.7,306.6 429.1,291.5 429.5,300.6 429.9,300.6 430.3,309.6 430.7,312.6 431.2,315.6 431.6,306.6 432.0,312.6 432.4,312.6 432.8,297.5 433.2,318.6 433.6,315.6 434.1,309.6 434.5,306.6 434.9,306.6 435.3,315.6 435.7,306.6 436.1,306.6 436.5,303.5 437.0,315.6 437.4,303.5 437.8,303.5 438.2,312.6 438.6,309.5 439.0,309.5 439.4,297.5 439.9,330.6 440.3,318.6 440.7,318.6 441.1,309.5 441.5,312.5 441.9,309.5 442.3,300.5 442.8,318.6 443.2,312.5 443.6,309.5 444.0,315.5 444.4,303.5 444.8,303.5 445.2,312.5 445.7,318.5 446.1,294.4 446.5,303.5 446.9,303.5 447.3,306.5 447.7,306.5 448.1,300.4 448.6,306.5 449.0,312.5 449.4,300.4 449.8,306.5 450.2,312.5 450.6,312.5 451.0,297.4 451.5,300.4 451.9,291.4 452.3,309.4 452.7,312.5 453.1,303.4 453.5,297.4 453.9,303.4 454.4,303.4 454.8,291.4 455.2,312.4 455.6,315.5 456.0,312.4 456.4,309.4 456.8,303.4 457.3,297.4 457.7,303.4 458.1,294.3 458.5,312.4 458.9,291.3 459.3,312.4 459.7,297.3 460.2,312.4 460.6,303.4 461.0,306.4 461.4,303.4 461.8,300.3 462.2,309.4 462.6,306.4 463.0,303.3 463.5,315.4 463.9,312.4 464.3,318.4 464.7,306.3 465.1,291.3 465.5,300.3 465.9,312.4 466.4,312.4 466.8,300.3 467.2,309.3 467.6,318.4 468.0,315.4 468.4,315.4 468.8,315.4 469.3,300.3 469.7,306.3 470.1,318.4 470.5,309.3 470.9,315.3 471.3,315.3 471.7,318.3 472.2,294.2 472.6,309.3 473.0,303.3 473.4,300.3 473.8,309.3 474.2,303.3 474.6,303.3 475.1,303.3 475.5,291.2 475.9,303.3 476.3,309.3 476.7,300.2 477.1,294.2 477.5,300.2 478.0,309.3 478.4,312.3 478.8,312.3 479.2,312.3 479.6,303.2 480.0,300.2 480.4,324.3 480.9,306.2 481.3,315.3 481.7,300.2 482.1,300.2 482.5,312.2 482.9,309.2 483.3,312.2 483.8,303.2 484.2,318.3 484.6,315.2 485.0,312.2 485.4,297.2 485.8,288.1 486.2,306.2 486.7,315.2 487.1,306.2 487.5,312.2 487.9,303.2 488.3,315.2 488.7,309.2 489.1,306.2 489.6,303.2 490.0,306.2 490.4,297.1 490.8,306.2 491.2,318.2 491.6,300.1 492.0,309.2 492.5,312.2 492.9,294.1 493.3,312.2 493.7,306.1 494.1,312.2 494.5,297.1 494.9,309.1 495.4,303.1 495.8,315.2 496.2,294.1 496.6,315.2 497.0,300.1 497.4,297.1 497.8,297.1 498.3,294.1 498.7,315.1 499.1,303.1 499.5,306.1 499.9,303.1 500.3,297.1 500.7,306.1 501.2,312.1 501.6,306.1 502.0,294.0 502.4,315.1 502.8,306.1 503.2,312.1 503.6,297.0 504.1,318.1 504.5,309.1 504.9,306.1 505.3,306.1 505.7,288.0 506.1,294.0 506.5,315.1 507.0,291.0 507.4,315.1 507.8,321.1 508.2,318.1 508.6,303.0 509.0,303.0 509.4,321.1 509.9,303.0 510.3,309.0 510.7,300.0 511.1,309.0 511.5,300.0 511.9,303.0 512.3,315.0 512.8,293.9 513.2,303.0 513.6,300.0 514.0,297.0 514.4,312.0 514.8,306.0 515.2,312.0 515.7,312.0 516.1,303.0 516.5,303.0 516.9,296.9 517.3,296.9 517.7,306.0 518.1,312.0 518.6,281.9 519.0,290.9 519.4,306.0 519.8,312.0 520.2,309.0 520.6,302.9 521.0,296.9 521.5,299.9 521.9,302.9 522.3,308.9 522.7,305.9 523.1,308.9 523.5,305.9 523.9,305.9 524.4,302.9 524.8,321.0 525.2,308.9 525.6,308.9 526.0,314.9 526.4,305.9 526.8,314.9 527.3,311.9 527.7,308.9 528.1,308.9 528.5,308.9 528.9,296.8 529.3,305.9 529.7,302.9 530.2,302.9 530.6,311.9 531.0,311.9 531.4,299.8 531.8,308.9 532.2,317.9 532.6,320.9 533.0,302.8 533.5,311.9 533.9,305.9 534.3,308.9 534.7,308.9 535.1,305.8 535.5,314.9 535.9,305.8 536.4,299.8 536.8,299.8 537.2,317.9 537.6,314.9 538.0,314.9 538.4,308.8 538.8,299.8 539.3,302.8 539.7,317.9 540.1,305.8 540.5,299.8 540.9,308.8 541.3,290.7 541.7,311.8 542.2,296.8 542.6,287.7 543.0,314.8 543.4,308.8 543.8,302.8 544.2,281.7 544.6,317.8 545.1,302.8 545.5,302.8 545.9,308.8 546.3,311.8 546.7,308.8 547.1,308.8 547.5,314.8 548.0,293.7 548.4,314.8 548.8,308.8 549.2,311.8 549.6,308.8 550.0,305.7 550.4,311.8 550.9,308.7 551.3,293.7 551.7,296.7 552.1,308.7 552.5,299.7 552.9,311.7 553.3,302.7 553.8,317.8 554.2,314.7 554.6,311.7 555.0,296.7 555.4,302.7 555.8,302.7 556.2,305.7 556.7,302.7 557.1,302.7 557.5,299.7 557.9,305.7 558.3,311.7 558.7,311.7 559.1,296.6 559.6,296.6 560.0,302.7 560.4,317.7 560.8,293.6 561.2,302.6 561.6,305.7 562.0,305.7 562.5,308.7 562.9,293.6 563.3,293.6 563.7,314.7 564.1,305.6 564.5,302.6 564.9,296.6 565.4,323.7 565.8,299.6 566.2,293.6 566.6,308.6 567.0,305.6 567.4,296.6 567.8,302.6 568.3,314.6 568.7,314.6 569.1,314.6 569.5,317.7 569.9,305.6 570.3,308.6 570.7,305.6 571.2,299.6 571.6,293.5 572.0,305.6 572.4,320.6 572.8,296.5 573.2,305.6 573.6,296.5 574.1,308.6 574.5,302.5 574.9,305.6 575.3,305.6 575.7,296.5 576.1,311.6 576.5,305.5 577.0,302.5 577.4,308.6 577.8,320.6 578.2,302.5 578.6,326.6 579.0,317.6 579.4,308.5 579.9,302.5 580.3,299.5 580.7,299.5 581.1,302.5 581.5,308.5 581.9,296.5 582.3,308.5 582.8,296.5 583.2,323.6 583.6,311.5 584.0,308.5 584.4,305.5 584.8,323.6 585.2,299.5 585.7,299.5 586.1,299.5 586.5,308.5 586.9,293.4 587.3,308.5 587.7,299.4 588.1,305.5 588.6,305.5 589.0,305.5 589.4,305.5 589.8,296.4 590.2,293.4 590.6,296.4 591.0,299.4 591.5,299.4 591.9,302.4 592.3,293.4 592.7,308.4 593.1,311.5 593.5,305.4 593.9,317.5 594.4,308.4 594.8,305.4 595.2,314.5 595.6,308.4 596.0,299.4 596.4,308.4 596.8,305.4 597.3,296.4 597.7,311.4 598.1,314.4 598.5,305.4 598.9,302.4 599.3,317.4 599.7,299.4 600.1,308.4 600.6,308.4 601.0,311.4 601.4,305.4 601.8,299.3 602.2,302.3 602.6,299.3 603.0,308.4 603.5,293.3 603.9,296.3 604.3,305.3 604.7,323.4 605.1,305.3 605.5,284.2 605.9,305.3 606.4,314.4 606.8,293.3 607.2,311.4 607.6,302.3 608.0,299.3 608.4,317.4 608.8,305.3 609.3,296.3 609.7,308.3 610.1,299.3 610.5,305.3 610.9,296.3 611.3,290.2 611.7,314.3 612.2,308.3 612.6,302.3 613.0,311.3 613.4,311.3 613.8,308.3 614.2,308.3 614.6,311.3 615.1,302.3 615.5,299.2 615.9,299.2 616.3,299.2 616.7,296.2 617.1,314.3 617.5,305.3 618.0,305.2 618.4,302.2 618.8,317.3 619.2,290.2 619.6,311.3 620.0,302.2 620.4,299.2 620.9,296.2 621.3,311.3 621.7,308.2 622.1,302.2 622.5,302.2 622.9,299.2 623.3,305.2 623.8,311.2 624.2,314.2 624.6,293.1 625.0,314.2 625.4,299.2 625.8,302.2 626.2,299.2 626.7,299.2 627.1,296.1 627.5,305.2 627.9,302.2 628.3,320.2 628.7,305.2 629.1,311.2 629.6,305.2 630.0,296.1 630.4,305.2 630.8,296.1 631.2,305.2 631.6,302.1 632.0,308.2 632.5,323.2 632.9,311.2 633.3,308.2 633.7,305.1 634.1,305.1 634.5,305.1 634.9,299.1 635.4,299.1 635.8,308.1 636.2,299.1 636.6,320.2 637.0,308.1 637.4,305.1 637.8,296.1 638.3,308.1 638.7,317.2 639.1,305.1 639.5,293.0 639.9,305.1 640.3,305.1 640.7,305.1 641.2,305.1 641.6,296.0 642.0,290.0 642.4,302.1 642.8,305.1 643.2,290.0 643.6,305.1 644.1,305.1 644.5,308.1 644.9,308.1 645.3,302.0 645.7,308.1 646.1,302.0 646.5,305.0 647.0,302.0 647.4,308.1 647.8,305.0 648.2,302.0 648.6,305.0 649.0,305.0 649.4,296.0 649.9,314.1 650.3,320.1 650.7,299.0 651.1,308.0 651.5,296.0 651.9,305.0 652.3,314.0 652.8,289.9 653.2,302.0 653.6,308.0 654.0,311.0 654.4,302.0 654.8,311.0 655.2,301.9 655.7,295.9 656.1,314.0 656.5,308.0 656.9,301.9 657.3,292.9 657.7,298.9 658.1,307.9 658.6,292.9 659.0,307.9 659.4,304.9 659.8,301.9 660.2,313.9 660.6,280.8 661.0,295.8 661.5,301.9 661.9,307.9 662.3,313.9 662.7,301.8 663.1,298.8 663.5,307.9 663.9,304.8 664.4,301.8 664.8,304.8 665.2,319.9 665.6,298.8 666.0,301.8 666.4,298.8 666.8,310.8 667.3,319.9 667.7,313.8 668.1,301.8 668.5,289.7 668.9,286.7 669.3,301.8 669.7,316.8 670.1,307.8 670.6,301.7 671.0,301.7 671.4,304.7 671.8,295.7 672.2,310.8 672.6,319.8 673.0,310.8 673.5,313.8 673.9,286.6 674.3,304.7 674.7,313.7 675.1,298.7 675.5,298.7 675.9,304.7 676.4,304.7 676.8,295.6 677.2,301.7 677.6,310.7 678.0,301.6 678.4,298.6 678.8,301.6 679.3,298.6 679.7,301.6 680.1,307.6 680.5,304.6 680.9,298.6 681.3,307.6 681.7,295.6 682.2,295.6 682.6,319.7 683.0,304.6 683.4,310.6 683.8,310.6 684.2,304.6 684.6,304.6 685.1,301.6 685.5,301.5 685.9,301.5 686.3,310.6 686.7,307.6 687.1,292.5 687.5,322.6 688.0,292.5 688.4,307.5 688.8,295.5 689.2,322.6 689.6,307.5 690.0,298.5 690.4,304.5 690.9,295.5 691.3,310.5 691.7,307.5 692.1,310.5 692.5,301.5 692.9,301.5 693.3,304.5 693.8,307.5 694.2,307.5 694.6,304.4 695.0,310.5 695.4,304.4 695.8,304.4 696.2,307.4 696.7,307.4 697.1,292.4 697.5,310.4 697.9,301.4 698.3,295.4 698.7,298.4 699.1,304.4 699.6,298.4 700.0,316.4 700.4,313.4 700.8,307.4 701.2,307.4 701.6,304.4 702.0,289.3 702.5,292.3 702.9,304.3 703.3,301.3 703.7,310.4 704.1,301.3 704.5,313.4 704.9,295.3 705.4,307.3 705.8,301.3 706.2,313.3 706.6,295.2 707.0,298.3 707.4,289.2 707.8,304.3 708.3,316.3 708.7,310.3 709.1,313.3 709.5,292.2 709.9,310.3 710.3,310.3 710.7,301.2 711.2,301.2 711.6,301.2 712.0,307.2 712.4,319.3 712.8,313.2 713.2,319.3 713.6,295.2 714.1,298.2 714.5,307.2 714.9,298.1 715.3,298.1 715.7,298.1 716.1,301.1 716.5,298.1 717.0,304.1 717.4,319.2 717.8,325.2 718.2,295.1 718.6,301.1 719.0,322.2 719.4,304.1 719.9,310.1 720.3,307.1 720.7,322.2 721.1,298.1 721.5,304.1 721.9,298.1 722.3,295.0 722.8,295.0 723.2,292.0 723.6,301.0 724.0,301.0 724.4,310.1 724.8,301.0 725.2,307.1 725.7,313.1 726.1,295.0 726.5,298.0 726.9,325.1 727.3,319.1 727.7,307.0 728.1,313.0 728.6,295.0 729.0,304.0 729.4,301.0 729.8,298.0 730.2,294.9 730.6,307.0 731.0,297.9 731.5,300.9 731.9,297.9 732.3,300.9 732.7,291.9 733.1,300.9 733.5,306.9 733.9,303.9 734.4,313.0 734.8,300.9 735.2,291.9 735.6,306.9 736.0,316.0 736.4,303.9 736.8,306.9 737.3,303.9 737.7,306.9 738.1,303.9 738.5,309.9 738.9,291.8 739.3,306.9 739.7,300.8 740.1,297.8 740.6,303.8 741.0,300.8 741.4,306.8 741.8,306.8 742.2,306.8 742.6,300.8 743.0,312.8 743.5,309.8 743.9,309.8 744.3,306.8 744.7,294.7 745.1,303.8 745.5,306.8 745.9,303.8 746.4,294.7 746.8,309.8 747.2,294.7 747.6,321.8 748.0,309.8 748.4,291.7 748.8,291.7 749.3,300.7 749.7,306.7 750.1,297.7 750.5,306.7 750.9,291.7 751.3,294.7 751.7,297.7 752.2,309.7 752.6,294.6 753.0,306.7 753.4,303.7 753.8,306.7 754.2,303.7 754.6,300.6 755.1,297.6 755.5,297.6 755.9,279.5 756.3,306.6 756.7,294.6 757.1,306.6 757.5,303.6 758.0,312.7 758.4,294.6 758.8,300.6 759.2,303.6 759.6,303.6 760.0,297.6 760.4,306.6 760.9,300.6 761.3,285.5 761.7,303.6 762.1,306.6 762.5,309.6 762.9,297.5 763.3,303.5 763.8,309.6 764.2,309.6 764.6,303.5 765.0,309.5 765.4,288.4 765.8,303.5 766.2,303.5 766.7,303.5 767.1,315.5 767.5,312.5 767.9,306.5 768.3,303.5 768.7,312.5 769.1,291.4 769.6,300.4 770.0,294.4 770.4,294.4 770.8,303.4 771.2,285.4 771.6,300.4 772.0,315.5 772.5,321.5 772.9,303.4 773.3,297.4 773.7,303.4 774.1,291.3 774.5,306.4 774.9,297.4 775.4,297.4 775.8,309.4 776.2,300.4 776.6,300.4 777.0,294.3 777.4,294.3 777.8,294.3 778.3,309.4 778.7,297.3 779.1,294.3 779.5,303.3 779.9,297.3 780.3,297.3 780.7,294.3 781.2,303.3 781.6,300.3 782.0,300.3 782.4,303.3 782.8,306.3 783.2,306.3 783.6,312.3 784.1,303.3 784.5,297.2 784.9,297.2 785.3,297.2 785.7,303.2 786.1,291.2 786.5,306.2 787.0,297.2 787.4,300.2 787.8,309.2 788.2,309.2 788.6,297.2 789.0,303.2 789.4,300.2 789.9,279.1 790.3,297.2 790.7,303.2 791.1,297.1 791.5,306.2 791.9,303.2 792.3,300.1 792.8,309.2 793.2,303.1 793.6,303.1 794.0,303.1 794.4,315.2 794.8,288.1 795.2,303.1 795.7,297.1 796.1,309.1 796.5,312.1 796.9,303.1 797.3,306.1 797.7,297.1 798.1,309.1 798.6,309.1 799.0,300.1 799.4,297.0 799.8,297.0 800.2,303.1 800.6,300.0 801.0,309.1 801.5,294.0 801.9,294.0 802.3,294.0 802.7,315.1 803.1,297.0 803.5,309.0 803.9,300.0 804.4,300.0 804.8,294.0 805.2,303.0 805.6,306.0 806.0,309.0 806.4,312.0 806.8,296.9 807.2,309.0 807.7,296.9 808.1,306.0 808.5,306.0 808.9,293.9 809.3,296.9 809.7,309.0 810.1,302.9 810.6,302.9 811.0,296.9 811.4,308.9 811.8,305.9 812.2,302.9 812.6,296.9 813.0,296.9 813.5,305.9 813.9,290.8 814.3,299.9 814.7,308.9 815.1,314.9 815.5,305.9 815.9,320.9 816.4,299.8 816.8,299.8 817.2,293.8 817.6,299.8 818.0,314.9 818.4,305.8 818.8,296.8 819.3,317.9 819.7,308.8 820.1,296.8 820.5,302.8 820.9,317.9 821.3,305.8 821.7,302.8 822.2,287.7 822.6,305.8 823.0,308.8 823.4,299.7 823.8,299.7 824.2,296.7 824.6,290.7 825.1,302.7 825.5,311.8 825.9,302.7 826.3,302.7 826.7,293.7 827.1,296.7 827.5,308.7 828.0,296.7 828.4,293.6 828.8,302.7 829.2,296.6 829.6,299.7 830.0,299.7 830.4,302.7 830.9,296.6 831.3,281.6 831.7,299.6 832.1,311.7 832.5,302.6 832.9,305.6 833.3,299.6 833.8,302.6 834.2,284.5 834.6,296.6 835.0,287.5 835.4,308.6 835.8,302.6 836.2,287.5 836.7,314.6 837.1,302.6 837.5,314.6 837.9,290.5 838.3,311.6 838.7,305.6 839.1,302.5 839.6,314.6 840.0,284.5 840.4,302.5 840.8,290.5 841.2,308.5 841.6,311.6 842.0,299.5 842.5,299.5 842.9,281.4 843.3,308.5 843.7,314.5 844.1,308.5 844.5,299.5 844.9,296.4 845.4,308.5 845.8,305.5 846.2,299.4 846.6,293.4 847.0,305.5 847.4,302.4 847.8,323.5 848.3,308.5 848.7,299.4 849.1,302.4 849.5,302.4 849.9,290.4 850.3,305.4 850.7,311.4 851.2,299.4 851.6,299.4 852.0,311.4 852.4,293.3 852.8,290.3 853.2,305.4 853.6,308.4 854.1,302.4 854.5,293.3 854.9,305.4 855.3,308.4 855.7,305.3 856.1,299.3 856.5,299.3 857.0,302.3 857.4,293.3 857.8,284.2 858.2,305.3 858.6,293.3 859.0,299.3 859.4,281.2 859.9,308.3 860.3,305.3 860.7,302.3 861.1,311.3 861.5,302.3 861.9,296.2 862.3,311.3 862.8,302.2 863.2,290.2 863.6,305.2 864.0,308.2 864.4,320.3 864.8,302.2 865.2,314.3 865.7,299.2 866.1,290.1 866.5,299.2 866.9,308.2 867.3,296.2 867.7,305.2 868.1,311.2 868.6,305.2 869.0,299.1 869.4,305.2 869.8,299.1 870.2,287.1 870.6,296.1 871.0,296.1 871.5,308.1 871.9,293.1 872.3,299.1 872.7,293.1 873.1,308.1 873.5,299.1 873.9,320.2 874.4,305.1 874.8,308.1 875.2,308.1 875.6,290.0 876.0,314.1 876.4,302.1 876.8,302.1 877.2,299.0 877.7,293.0 878.1,314.1 878.5,305.0 878.9,308.1 879.3,296.0 879.7,296.0 880.1,305.0 880.6,305.0 881.0,308.0 881.4,299.0 881.8,289.9 882.2,299.0 882.6,308.0 883.0,308.0 883.5,308.0 883.9,314.0 884.3,289.9 884.7,301.9 885.1,305.0 885.5,283.9 885.9,298.9 886.4,289.9 886.8,298.9 887.2,292.9 887.6,301.9 888.0,304.9 888.4,298.9 888.8,295.9 889.3,292.8 889.7,298.9 890.1,304.9 890.5,304.9 890.9,298.9 891.3,304.9 891.7,304.9 892.2,298.8 892.6,298.8 893.0,298.8 893.4,307.9 893.8,313.9 894.2,298.8 894.6,301.8 895.1,304.8 895.5,298.8 895.9,295.8 896.3,301.8 896.7,298.8 897.1,307.8 897.5,304.8 898.0,307.8 898.4,313.8 898.8,298.8 899.2,322.9 899.6,301.8 900.0,295.7 900.4,298.7 900.9,313.8 901.3,298.7 901.7,313.8 902.1,307.7 902.5,289.7 902.9,301.7 903.3,292.7 903.8,310.7 904.2,316.8 904.6,307.7 905.0,292.6 905.4,295.7 905.8,292.6 906.2,301.7 906.7,301.7 907.1,301.7 907.5,280.6 907.9,301.6 908.3,289.6 908.7,301.6 909.1,292.6 909.6,310.7 910.0,304.6 910.4,298.6 910.8,304.6 911.2,304.6 911.6,301.6 912.0,304.6 912.5,289.5 912.9,292.5 913.3,310.6 913.7,289.5 914.1,301.6 914.5,301.6 914.9,301.6 915.4,295.5 915.8,295.5 916.2,304.5 916.6,301.5 917.0,310.6 917.4,286.5 917.8,307.5 918.3,307.5 918.7,307.5 919.1,301.5 919.5,295.5 919.9,304.5 920.3,301.5 920.7,304.5 921.2,292.4 921.6,298.5 922.0,313.5 922.4,289.4 922.8,298.4 923.2,286.4 923.6,304.5 924.1,304.4 924.5,301.4 924.9,310.5 925.3,304.4 925.7,292.4 926.1,295.4 926.5,319.5 927.0,292.4 927.4,298.4 927.8,295.4 928.2,301.4 928.6,298.4 929.0,301.4 929.4,301.4 929.9,307.4 930.3,292.3 930.7,298.3 931.1,298.3 931.5,298.3 931.9,304.3 932.3,301.3 932.8,310.4 933.2,298.3 933.6,298.3 934.0,304.3 934.4,313.4 934.8,292.3 935.2,301.3 935.7,301.3 936.1,304.3 936.5,304.3 936.9,304.3 937.3,310.3 937.7,304.3 938.1,286.2 938.6,292.2 939.0,286.2 939.4,304.2 939.8,316.3 940.2,310.3 940.6,319.3 941.0,292.2 941.5,292.2 941.9,301.2 942.3,298.2 942.7,298.2 943.1,301.2 943.5,295.2 943.9,307.2 944.4,304.2 944.8,301.2 945.2,313.2 945.6,307.2 946.0,298.1 946.4,298.1 946.8,319.2 947.2,295.1 947.7,298.1 948.1,295.1 948.5,301.1 948.9,295.1 949.3,310.1 949.7,301.1 950.1,310.1 950.6,304.1 951.0,292.0 951.4,289.0 951.8,301.1 952.2,304.1 952.6,295.0 953.0,298.0 953.5,286.0 953.9,295.0 954.3,319.1 954.7,301.0 955.1,304.0 955.5,307.0 955.9,301.0 956.4,301.0 956.8,304.0 957.2,288.9 957.6,298.0 958.0,298.0 958.4,301.0 958.8,291.9 959.3,310.0 959.7,291.9 960.1,301.0 960.5,288.9 960.9,288.9 961.3,297.9 961.7,304.0 962.2,297.9 962.6,297.9 963.0,310.0 963.4,303.9 963.8,306.9 964.2,291.9 964.6,288.8 965.1,306.9 965.5,303.9 965.9,309.9 966.3,297.9 966.7,294.8 967.1,288.8 967.5,309.9 968.0,294.8 968.4,300.9 968.8,306.9 969.2,303.9 969.6,306.9 970.0,297.8 970.4,300.8 970.9,291.8 971.3,303.8 971.7,315.9 972.1,306.8 972.5,297.8 972.9,312.8 973.3,306.8 973.8,297.8 974.2,309.8 974.6,294.7 975.0,297.8 975.4,303.8 975.8,300.8 976.2,303.8 976.7,303.8 977.1,303.8 977.5,300.7 977.9,300.7 978.3,306.7 978.7,306.7 979.1,285.6 979.6,309.7 980.0,300.7 980.4,291.7 980.8,294.7 981.2,306.7 981.6,285.6 982.0,288.6 982.5,303.7 982.9,309.7 983.3,294.6 983.7,300.6 984.1,303.7 984.5,306.7 984.9,303.6 985.4,300.6 985.8,294.6 986.2,315.7 986.6,318.7 987.0,294.6 987.4,306.6 987.8,294.6 988.3,300.6 988.7,291.5 989.1,294.6 989.5,303.6 989.9,300.6 990.3,297.5 990.7,294.5 991.2,303.6 991.6,312.6 992.0,300.5 992.4,300.5 992.8,300.5 993.2,306.6 993.6,294.5 994.1,312.6 994.5,303.5 994.9,291.5 995.3,309.5 995.7,297.5 996.1,297.5 996.5,297.5 997.0,312.5 997.4,291.4 997.8,300.5 998.2,297.4 998.6,297.4 999.0,300.4 999.4,291.4 999.9,288.4 1000.3,312.5 1000.7,306.5 1001.1,300.4 1001.5,315.5 1001.9,288.4 1002.3,306.4 1002.8,297.4 1003.2,297.4 1003.6,300.4 1004.0,306.4 1004.4,303.4 1004.8,300.4 1005.2,294.3 1005.7,300.4 1006.1,303.4 1006.5,303.4 1006.9,291.3 1007.3,297.3 1007.7,306.4 1008.1,309.4 1008.6,303.3 1009.0,306.3 1009.4,303.3 1009.8,291.3 1010.2,294.3 1010.6,297.3 1011.0,297.3 1011.5,288.2 1011.9,309.3 1012.3,297.3 1012.7,300.3 1013.1,300.3 1013.5,300.3 1013.9,303.3 1014.3,297.2 1014.8,315.3 1015.2,297.2 1015.6,294.2 1016.0,306.3 1016.4,306.2 1016.8,285.1 1017.2,306.2 1017.7,303.2 1018.1,306.2 1018.5,303.2 1018.9,306.2 1019.3,315.2 1019.7,282.1 1020.1,306.2 1020.6,297.2 1021.0,300.2 1021.4,291.1 1021.8,294.1 1022.2,291.1 1022.6,291.1 1023.0,294.1 1023.5,300.1 1023.9,294.1 1024.3,312.2 1024.7,294.1 1025.1,294.1 1025.5,297.1 1025.9,309.1 1026.4,291.0 1026.8,306.1 1027.2,294.1 1027.6,312.1 1028.0,300.1 1028.4,306.1 1028.8,306.1 1029.3,306.1 1029.7,288.0 1030.1,300.0 1030.5,297.0 1030.9,285.0 1031.3,309.1 1031.7,288.0 1032.2,303.0 1032.6,303.0 1033.0,303.0 1033.4,312.1 1033.8,312.0 1034.2,309.0 1034.6,303.0 1035.1,293.9 1035.5,290.9 1035.9,303.0 1036.3,296.9 1036.7,296.9 1037.1,299.9 1037.5,296.9 1038.0,303.0 1038.4,296.9 1038.8,299.9 1039.2,299.9 1039.6,296.9 1040.0,299.9 1040.4,305.9 1040.9,308.9 1041.3,299.9 1041.7,302.9 1042.1,302.9 1042.5,299.9 1042.9,305.9 1043.3,296.9 1043.8,296.8 1044.2,305.9 1044.6,296.8 1045.0,305.9 1045.4,293.8 1045.8,293.8 1046.2,299.8 1046.7,293.8 1047.1,290.8 1047.5,296.8 1047.9,311.9 1048.3,299.8 1048.7,296.8 1049.1,293.8 1049.6,305.8 1050.0,293.8 1050.4,296.8 1050.8,296.8 1051.2,308.8 1051.6,305.8 1052.0,290.7 1052.5,293.7 1052.9,299.7 1053.3,290.7 1053.7,296.7 1054.1,302.7 1054.5,311.8 1054.9,290.7 1055.4,299.7 1055.8,296.7 1056.2,311.8 1056.6,302.7 1057.0,296.7 1057.4,302.7 1057.8,305.7 1058.3,308.7 1058.7,296.7 1059.1,302.7 1059.5,302.7 1059.9,302.7 1060.3,305.7 1060.7,302.7 1061.2,305.7 1061.6,299.6 1062.0,308.7 1062.4,308.7 1062.8,299.6 1063.2,299.6 1063.6,299.6 1064.1,284.5 1064.5,293.6 1064.9,290.5 1065.3,296.6 1065.7,299.6 1066.1,305.6 1066.5,314.6 1067.0,308.6 1067.4,317.6 1067.8,308.6 1068.2,311.6 1068.6,305.6 1069.0,299.5 1069.4,302.5 1069.9,293.5 1070.3,293.5 1070.7,293.5 1071.1,293.5 1071.5,296.5 1071.9,302.5 1072.3,296.5 1072.8,302.5 1073.2,299.5 1073.6,296.5 1074.0,308.5 1074.4,311.5 1074.8,296.4 1075.2,287.4 1075.7,290.4 1076.1,275.3 1076.5,308.5 1076.9,305.5 1077.3,317.5 1077.7,305.4 1078.1,284.3 1078.6,287.4 1079.0,305.4 1079.4,302.4 1079.8,305.4 1080.2,308.4 1080.6,302.4 1081.0,302.4 1081.5,299.4 1081.9,296.3 1082.3,293.3 1082.7,290.3 1083.1,299.3 1083.5,302.4 1083.9,299.3 1084.3,296.3 1084.8,299.3 1085.2,305.3 1085.6,302.3 1086.0,293.3 1086.4,308.3 1086.8,293.3 1087.2,308.3 1087.7,296.3 1088.1,296.3 1088.5,302.3 1088.9,299.3 1089.3,302.3 1089.7,287.2 1090.1,302.3 1090.6,305.3 1091.0,296.2 1091.4,290.2 1091.8,296.2 1092.2,299.2 1092.6,293.2 1093.0,305.2 1093.5,305.2 1093.9,308.2 1094.3,290.2 1094.7,314.3 1095.1,308.2 1095.5,296.2 1095.9,296.2 1096.4,287.1 1096.8,296.2 1097.2,302.2 1097.6,290.1 1098.0,290.1 1098.4,290.1 1098.8,290.1 1099.3,296.1 1099.7,311.2 1100.1,308.2 1100.5,284.1 1100.9,299.1 1101.3,311.2 1101.7,299.1 1102.2,293.1 1102.6,296.1 1103.0,299.1 1103.4,317.2 1103.8,299.1 1104.2,299.1 1104.6,287.0 1105.1,299.1 1105.5,299.1 1105.9,302.1 1106.3,299.0 1106.7,296.0 1107.1,302.0 1107.5,305.1 1108.0,308.1 1108.4,299.0 1108.8,302.0 1109.2,302.0 1109.6,311.1 1110.0,305.0 1110.4,314.1 1110.9,293.0 1111.3,289.9 1111.7,296.0 1112.1,299.0 1112.5,295.9 1112.9,311.0 1113.3,308.0 1113.8,289.9 1114.2,308.0 1114.6,298.9 1115.0,305.0 1115.4,317.0 1115.8,304.9 1116.2,292.9 1116.7,289.9 1117.1,317.0 1117.5,310.9 1117.9,301.9 1118.3,292.9 1118.7,289.8 1119.1,286.8 1119.6,286.8 1120.0,301.9 1120.4,304.9 1120.8,292.8 1121.2,301.9 1121.6,298.8 1122.0,301.8 1122.5,301.8 1122.9,292.8 1123.3,304.8 1123.7,310.9 1124.1,304.8 1124.5,298.8 1124.9,301.8 1125.4,298.8 1125.8,313.9 1126.2,304.8 1126.6,289.7 1127.0,298.8 1127.4,304.8 1127.8,289.7 1128.3,301.8 1128.7,292.7 1129.1,298.7 1129.5,295.7 1129.9,292.7 1130.3,283.7 1130.7,289.7 1131.2,304.7 1131.6,307.8 1132.0,301.7 1132.4,301.7 1132.8,292.7 1133.2,298.7 1133.6,298.7 1134.1,310.7 1134.5,298.7 1134.9,295.7 1135.3,286.6 1135.7,292.6 1136.1,298.7 1136.5,307.7 1137.0,298.6 1137.4,298.6 1137.8,298.6 1138.2,298.6 1138.6,295.6 1139.0,295.6 1139.4,283.5 1139.9,307.6 1140.3,310.6 1140.7,295.6 1141.1,307.6 1141.5,301.6 1141.9,298.6 1142.3,304.6 1142.8,292.5 1143.2,295.5 1143.6,298.6 1144.0,295.5 1144.4,292.5 1144.8,301.5 1145.2,295.5 1145.7,298.5 1146.1,298.5 1146.5,301.5 1146.9,286.5 1147.3,295.5 1147.7,310.6 1148.1,295.5 1148.6,316.6 1149.0,295.5 1149.4,292.4 1149.8,289.4 1150.2,298.5 1150.6,304.5 1151.0,283.4 1151.5,292.4 1151.9,289.4 1152.3,301.5 1152.7,295.4 1153.1,310.5 1153.5,295.4 1153.9,313.5 1154.3,307.5 1154.8,310.5 1155.2,289.4 1155.6,292.4 1156.0,304.4 1156.4,289.3 1156.8,298.4 1157.2,313.4 1157.7,301.4 1158.1,310.4 1158.5,298.4 1158.9,295.3 1159.3,304.4 1159.7,292.3 1160.1,292.3 1160.6,304.4 1161.0,295.3 1161.4,298.3 1161.8,301.3 1162.2,286.3 1162.6,304.3 1163.0,301.3 1163.5,298.3 1163.9,295.3 1164.3,292.3 1164.7,304.3 1165.1,289.2 1165.5,286.2 1165.9,283.2 1166.4,298.3 1166.8,301.3 1167.2,307.3 1167.6,295.2 1168.0,298.2 1168.4,298.2 1168.8,304.2 1169.3,316.3 1169.7,301.2 1170.1,301.2 1170.5,301.2 1170.9,310.2 1171.3,301.2 1171.7,301.2 1172.2,307.2 1172.6,295.2 1173.0,298.2 1173.4,298.2 1173.8,295.1 1174.2,301.2 1174.6,298.1 1175.1,295.1 1175.5,292.1 1175.9,292.1 1176.3,301.1 1176.7,292.1 1177.1,289.1 1177.5,310.2 1178.0,301.1 1178.4,298.1 1178.8,298.1 1179.2,286.0 1179.6,289.0 1180.0,298.1 1180.4,298.1 1180.9,310.1 1181.3,307.1 1181.7,289.0 1182.1,310.1 1182.5,295.0 1182.9,304.1 1183.3,301.0 1183.8,298.0 1184.2,286.0 1184.6,295.0 1185.0,295.0 1185.4,292.0 1185.8,316.1 1186.2,282.9 1186.7,310.0 1187.1,304.0 1187.5,291.9 1187.9,307.0 1188.3,310.0 1188.7,288.9 1189.1,301.0 1189.6,291.9 1190.0,294.9 1190.4,301.0 1190.8,285.9 1191.2,300.9 1191.6,282.9 1192.0,303.9 1192.5,303.9 1192.9,303.9 1193.3,294.9 1193.7,306.9 1194.1,303.9 1194.5,285.8 1194.9,297.9 1195.4,288.8 1195.8,294.9 1196.2,300.9 1196.6,303.9 1197.0,297.9 1197.4,297.8 1197.8,300.9 1198.3,300.8 1198.7,285.8 1199.1,288.8 1199.5,294.8 1199.9,300.8 1200.3,300.8 1200.7,282.7 1201.2,300.8 1201.6,279.7 1202.0,303.8 1202.4,309.8 1202.8,282.7 1203.2,297.8 1203.6,285.7 1204.1,294.7 1204.5,300.8 1204.9,291.7 1205.3,300.8 1205.7,294.7 1206.1,297.7 1206.5,309.8 1207.0,294.7 1207.4,300.7 1207.8,297.7 1208.2,294.7 1208.6,306.7 1209.0,294.7 1209.4,294.7 1209.9,282.6 1210.3,291.7 1210.7,294.7 1211.1,303.7 1211.5,297.7 1211.9,306.7 1212.3,294.6 1212.8,300.7 1213.2,300.7 1213.6,297.6 1214.0,294.6 1214.4,294.6 1214.8,306.7 1215.2,288.6 1215.7,297.6 1216.1,294.6 1216.5,297.6 1216.9,303.6 1217.3,294.6 1217.7,300.6 1218.1,303.6 1218.6,297.6 1219.0,291.5 1219.4,294.5 1219.8,297.6 1220.2,303.6 1220.6,300.6 1221.0,297.5 1221.4,309.6 1221.9,291.5 1222.3,297.5 1222.7,306.6 1223.1,285.5 1223.5,282.4 1223.9,306.5 1224.3,297.5 1224.8,303.5 1225.2,291.5 1225.6,306.5 1226.0,294.5 1226.4,294.5 1226.8,288.4 1227.2,312.5 1227.7,303.5 1228.1,300.5 1228.5,291.4 1228.9,297.4 1229.3,291.4 1229.7,294.4 1230.1,303.4 1230.6,297.4 1231.0,300.4 1231.4,300.4 1231.8,303.4 1232.2,291.4 1232.6,294.4 1233.0,312.4 1233.5,291.3 1233.9,300.4 1234.3,309.4 1234.7,288.3 1235.1,297.4 1235.5,294.3 1235.9,297.3 1236.4,297.3 1236.8,309.4 1237.2,291.3 1237.6,303.3 1238.0,297.3 1238.4,297.3 1238.8,303.3 1239.3,306.3 1239.7,297.3 1240.1,288.2 1240.5,303.3 1240.9,303.3 1241.3,297.3 1241.7,303.3 1242.2,288.2 1242.6,294.2 1243.0,279.2 1243.4,297.2 1243.8,282.2 1244.2,303.3 1244.6,297.2 1245.1,306.3 1245.5,300.2 1245.9,300.2 1246.3,294.2 1246.7,288.2 1247.1,300.2 1247.5,309.2 1248.0,297.2 1248.4,297.2 1248.8,300.2 1249.2,291.1 1249.6,288.1 1250.0,303.2 1250.4,303.2 1250.9,315.2 1251.3,303.2 1251.7,291.1 1252.1,303.2 1252.5,291.1 1252.9,291.1 1253.3,291.1 1253.8,291.1 1254.2,297.1 1254.6,288.1 1255.0,288.1 1255.4,294.1 1255.8,297.1 1256.2,288.0 1256.7,285.0 1257.1,300.1 1257.5,291.0 1257.9,297.1 1258.3,279.0 1258.7,300.1 1259.1,300.0 1259.6,303.1 1260.0,291.0 1260.4,303.0 1260.8,291.0 1261.2,300.0 1261.6,288.0 1262.0,284.9 1262.5,288.0 1262.9,312.1 1263.3,306.0 1263.7,315.1 1264.1,275.9 1264.5,300.0 1264.9,300.0 1265.4,297.0 1265.8,290.9 1266.2,300.0 1266.6,296.9 1267.0,296.9 1267.4,306.0 1267.8,281.9 1268.3,284.9 1268.7,296.9 1269.1,296.9 1269.5,281.8 1269.9,278.8 1270.3,296.9 1270.7,290.9 1271.2,299.9 1271.6,293.9 1272.0,314.9 1272.4,311.9 1272.8,295.6 1273.2,307.9 1273.6,308.1 1274.1,320.5 1274.5,320.7 1274.9,330.0 1275.3,339.3 1275.7,339.6 1276.1,357.9 1276.5,343.1 1277.0,370.5 1277.4,373.8 1277.8,368.0 1278.2,386.4 1278.6,377.6 1279.0,380.9 1279.4,393.2 1279.9,411.6 1280.3,393.7 1280.7,415.1 1281.1,428.8 1281.5,401.7 1281.9,419.8 1282.3,416.8 1282.8,413.8 1283.2,425.9 1283.6,413.8 1284.0,432.0 1284.4,429.0 1284.8,426.0 1285.2,398.9 1285.7,417.0 1286.1,411.0 1286.5,426.1 1286.9,417.1 1287.3,438.2 1287.7,423.2 1288.1,417.2 1288.6,426.2 1289.0,438.3 1289.4,435.3 1289.8,414.2 1290.2,408.2 1290.6,426.3 1291.0,405.3 1291.4,432.4 1291.9,414.4 1292.3,420.4 1292.7,411.4 1293.1,435.5 1293.5,411.5 1293.9,420.5 1294.3,429.6 1294.8,426.6 1295.2,423.6 1295.6,420.6 1296.0,429.7 1296.4,429.7 1296.8,420.7 1297.2,423.7 1297.7,417.7 1298.1,414.8 1298.5,438.9 1298.9,423.8 1299.3,420.9 1299.7,423.9 1300.1,433.0 1300.6,414.9 1301.0,405.9 1301.4,424.0 1301.8,430.0 1302.2,415.0 1302.6,424.1 1303.0,421.1 1303.5,421.1 1303.9,427.1 1304.3,424.2 1304.7,430.2 1305.1,439.3 1305.5,412.2 1305.9,421.2 1306.4,424.3 1306.8,409.2 1307.2,424.3 1307.6,412.3 1308.0,415.3 1308.4,427.4 1308.8,433.5 1309.3,418.4 1309.7,421.5 1310.1,412.4 1310.5,436.6 1310.9,424.5 1311.3,421.6 1311.7,421.6 1312.2,424.6 1312.6,421.6 1313.0,442.7 1313.4,427.7 1313.8,430.7 1314.2,436.8 1314.6,424.8 1315.1,427.8 1315.5,433.8 1315.9,436.9 1316.3,421.8 1316.7,443.0 1317.1,424.9 1317.5,434.0 1318.0,424.9 1318.4,403.9 1318.8,412.9 1319.2,425.0 1319.6,410.0 1320.0,404.0 1320.4,413.0 1320.9,404.0 1321.3,422.1 1321.7,419.1 1322.1,425.2 1322.5,428.2 1322.9,425.2 1323.3,431.3 1323.8,425.3 1324.2,401.2 1324.6,416.3 1325.0,425.3 1325.4,407.3 1325.8,410.3 1326.2,434.4 1326.7,431.4 1327.1,407.4 1327.5,425.5 1327.9,422.5 1328.3,428.5 1328.7,434.6 1329.1,413.5 1329.6,431.6 1330.0,419.6 1330.4,404.5 1330.8,419.6 1331.2,425.7 1331.6,419.6 1332.0,419.7 1332.5,428.7 1332.9,422.7 1333.3,434.8 1333.7,437.8 1334.1,428.8 1334.5,437.9 1334.9,431.9 1335.4,425.9 1335.8,422.9 1336.2,404.8 1336.6,432.0 1337.0,429.0 1337.4,429.0 1337.8,435.0 1338.3,404.9 1338.7,432.1 1339.1,429.1 1339.5,426.1 1339.9,399.0 1340.3,429.1 1340.7,432.2 1341.2,414.1 1341.6,432.2 1342.0,441.3 1342.4,414.2 1342.8,417.2 1343.2,438.3 1343.6,435.3 1344.1,426.3 1344.5,435.4 1344.9,438.4 1345.3,435.4 1345.7,408.3 1346.1,414.3 1346.5,435.5 1347.0,426.4 1347.4,426.5 1347.8,429.5 1348.2,426.5 1348.6,408.4 1349.0,432.6 1349.4,432.6 1349.9,426.6 1350.3,432.6 1350.7,429.6 1351.1,429.7 1351.5,435.7 1351.9,414.6 1352.3,432.7 1352.8,411.7 1353.2,432.8 1353.6,435.8 1354.0,423.8 1354.4,429.8 1354.8,417.8 1355.2,420.8 1355.7,402.8 1356.1,451.0 1356.5,435.9 1356.9,426.9 1357.3,429.9 1357.7,427.0 1358.1,399.9 1358.6,445.1 1359.0,421.0 1359.4,430.0 1359.8,427.1 1360.2,415.0 1360.6,427.1 1361.0,418.1 1361.4,415.1 1361.9,415.1 1362.3,442.2 1362.7,433.2 1363.1,439.3 1363.5,433.2 1363.9,430.3 1364.3,406.2 1364.8,433.3 1365.2,430.3 1365.6,430.3 1366.0,412.3 1366.4,433.4 1366.8,424.4 1367.2,418.3 1367.7,421.4 1368.1,445.5 1368.5,439.5 1368.9,421.4 1369.3,442.5 1369.7,430.5 1370.1,439.6 1370.6,424.5 1371.0,427.6 1371.4,439.6 1371.8,430.6 1372.2,436.6 1372.6,433.7 1373.0,415.6 1373.5,424.6 1373.9,424.7 1374.3,412.6 1374.7,427.7 1375.1,415.7 1375.5,424.7 1375.9,424.8 1376.4,430.8 1376.8,433.8 1377.2,436.9 1377.6,436.9 1378.0,424.8 1378.4,424.9 1378.8,433.9 1379.3,415.9 1379.7,434.0 1380.1,431.0 1380.5,440.0 1380.9,434.0 1381.3,419.0 1381.7,425.0 1382.2,434.1 1382.6,416.0 1383.0,428.1 1383.4,428.1 1383.8,419.1 1384.2,425.1 1384.6,431.1 1385.1,437.2 1385.5,416.1 1385.9,446.3 1386.3,434.2 1386.7,443.3 1387.1,434.3 1387.5,419.2 1388.0,431.3 1388.4,431.3 1388.8,428.3 1389.2,407.2 1389.6,416.3 1390.0,428.4 1390.4,434.4 1390.9,431.4 1391.3,425.4 1391.7,431.4 1392.1,431.4 1392.5,437.5 1392.9,440.5 1393.3,437.5 1393.8,428.5 1394.2,437.6 1394.6,401.4 1395.0,422.5 1395.4,422.5 1395.8,419.5 1396.2,437.6 1396.7,437.7 1397.1,431.6 1397.5,422.6 1397.9,422.6 1398.3,410.6 1398.7,413.6 1399.1,416.7 1399.6,416.7 1400.0,425.7 1400.4,419.7 1400.8,431.8 1401.2,431.8 1401.6,419.8 1402.0,440.9 1402.5,413.8 1402.9,407.8 1403.3,431.9 1403.7,419.8 1404.1,425.9 1404.5,434.9 1404.9,422.9 1405.4,422.9 1405.8,416.9 1406.2,432.0 1406.6,426.0 1407.0,432.0 1407.4,417.0 1407.8,429.0 1408.3,420.0 1408.7,435.1 1409.1,426.1 1409.5,435.1 1409.9,435.1 1410.3,417.1 1410.7,429.2 1411.2,429.2 1411.6,420.1 1412.0,435.2 1412.4,408.1 1412.8,435.3 1413.2,432.3 1413.6,405.1 1414.1,441.3 1414.5,411.2 1414.9,423.3 1415.3,423.3 1415.7,435.4 1416.1,426.3 1416.5,438.4 1417.0,417.3 1417.4,429.4 1417.8,432.4 1418.2,432.4 1418.6,429.4 1419.0,417.4 1419.4,426.5 1419.9,435.5 1420.3,435.5 1420.7,438.5 1421.1,420.5 1421.5,423.5 1421.9,438.6 1422.3,441.6 1422.8,429.6 1423.2,432.6 1423.6,423.6 1424.0,429.6 1424.4,426.6 1424.8,420.6 1425.2,417.6 1425.7,429.7 1426.1,420.7 1426.5,432.7 1426.9,438.8 1427.3,426.7 1427.7,417.7 1428.1,414.7 1428.5,429.8 1429.0,441.8 1429.4,426.8 1429.8,432.8 1430.2,423.8 1430.6,417.8 1431.0,432.9 1431.4,435.9 1431.9,432.9 1432.3,435.9 1432.7,439.0 1433.1,426.9 1433.5,436.0 1433.9,433.0 1434.3,433.0 1434.8,436.0 1435.2,424.0 1435.6,433.0 1436.0,430.0 1436.4,421.0 1436.8,430.1 1437.2,442.1 1437.7,433.1 1438.1,433.1 1438.5,424.1 1438.9,412.0 1439.3,427.1 1439.7,430.2 1440.1,415.1 1440.6,436.2 1441.0,427.2 1441.4,424.2 1441.8,430.2 1442.2,433.2 1442.6,427.2 1443.0,415.2 1443.5,424.2 1443.9,436.3 1444.3,427.3 1444.7,421.3 1445.1,412.2 1445.5,421.3 1445.9,427.3 1446.4,415.3 1446.8,421.3 1447.2,430.4 1447.6,436.4 1448.0,430.4 1448.4,421.4 1448.8,439.5 1449.3,442.5 1449.7,424.4 1450.1,442.5 1450.5,439.5 1450.9,433.5 1451.3,433.5 1451.7,430.5 1452.2,430.5 1452.6,424.5 1453.0,430.6 1453.4,436.6 1453.8,451.7 1454.2,418.6 1454.6,421.6 1455.1,424.6 1455.5,430.6 1455.9,436.7 1456.3,427.7 1456.7,430.7 1457.1,442.7 1457.5,421.7 1458.0,442.8 1458.4,433.7 1458.8,412.7 1459.2,436.8 1459.6,430.8 1460.0,421.7 1460.4,430.8 1460.9,442.9 1461.3,433.8 1461.7,430.8 1462.1,442.9 1462.5,415.8 1462.9,427.9 1463.3,424.9 1463.8,427.9 1464.2,427.9 1464.6,433.9 1465.0,443.0 1465.4,424.9 1465.8,430.9 1466.2,415.9 1466.7,440.0 1467.1,431.0 1467.5,409.9 1467.9,443.1 1468.3,440.1 1468.7,431.0 1469.1,413.0 1469.6,440.1 1470.0,431.1 1470.4,434.1 1470.8,437.1 1471.2,434.1 1471.6,419.1 1472.0,431.1 1472.5,443.2 1472.9,437.2 1473.3,431.2 1473.7,443.2 1474.1,437.2 1474.5,434.2 1474.9,449.3 1475.4,413.1 1475.8,443.3 1476.2,431.2 1476.6,434.3 1477.0,437.3 1477.4,419.2 1477.8,431.3 1478.3,437.3 1478.7,419.3 1479.1,428.3 1479.5,440.4 1479.9,443.4 1480.3,422.3 1480.7,434.4 1481.2,443.4 1481.6,428.4 1482.0,443.5 1482.4,437.4 1482.8,437.4 1483.2,446.5 1483.6,425.4 1484.1,398.3 1484.5,425.4 1484.9,428.5 1485.3,434.5 1485.7,431.5 1486.1,428.5 1486.5,425.5 1487.0,437.6 1487.4,431.5 1487.8,434.6 1488.2,425.5 1488.6,422.5 1489.0,422.5 1489.4,434.6 1489.9,434.6 1490.3,425.6 1490.7,434.6 1491.1,434.7 1491.5,428.6 1491.9,428.6 1492.3,419.6 1492.8,440.7 1493.2,419.6 1493.6,434.7 1494.0,425.7 1494.4,440.8 1494.8,431.7 1495.2,437.8 1495.7,413.7 1496.1,440.8 1496.5,419.7 1496.9,437.8 1497.3,440.8 1497.7,428.8 1498.1,419.8 1498.5,431.8 1499.0,425.8 1499.4,428.8 1499.8,431.9 1500.2,416.8 1500.6,431.9 1501.0,422.9 1501.4,440.9 1501.9,434.9 1502.3,422.9 1502.7,434.9 1503.1,447.0 1503.5,422.9 1503.9,425.9 1504.3,435.0 1504.8,432.0 1505.2,435.0 1505.6,429.0 1506.0,420.0 1506.4,429.0 1506.8,432.0 1507.2,435.1 1507.7,432.1 1508.1,435.1 1508.5,423.0 1508.9,441.1 1509.3,435.1 1509.7,429.1 1510.1,429.1 1510.6,429.1 1511.0,435.1 1511.4,429.1 1511.8,444.2 1512.2,444.2 1512.6,441.2 1513.0,429.2 1513.5,417.1 1513.9,435.2 1514.3,435.2 1514.7,435.2 1515.1,414.1 1515.5,429.2 1515.9,432.2 1516.4,435.3 1516.8,426.2 1517.2,417.2 1517.6,429.3 1518.0,438.3 1518.4,417.2 1518.8,432.3 1519.3,414.2 1519.7,441.4 1520.1,432.3 1520.5,429.3 1520.9,444.4 1521.3,432.4 1521.7,426.4 1522.2,432.4 1522.6,426.4 1523.0,429.4 1523.4,438.4 1523.8,423.4 1524.2,438.5 1524.6,435.5 1525.1,438.5 1525.5,426.4 1525.9,435.5 1526.3,435.5 1526.7,447.6 1527.1,435.5 1527.5,420.5 1528.0,447.6 1528.4,429.5 1528.8,432.5 1529.2,444.6 1529.6,435.6 1530.0,423.5 1530.4,432.6 1530.9,429.6 1531.3,420.5 1531.7,435.6 1532.1,423.6 1532.5,441.7 1532.9,438.7 1533.3,417.6 1533.8,417.6 1534.2,423.6 1534.6,444.7 1535.0,435.7 1535.4,438.7 1535.8,411.6 1536.2,441.7 1536.7,441.7 1537.1,435.7 1537.5,429.7 1537.9,435.7 1538.3,435.8 1538.7,429.7 1539.1,432.8 1539.6,447.8 1540.0,441.8 1540.4,414.7 1540.8,432.8 1541.2,414.7 1541.6,417.7 1542.0,420.8 1542.5,432.8 1542.9,417.8 1543.3,435.9 1543.7,408.7 1544.1,426.8 1544.5,426.8 1544.9,435.9 1545.4,435.9 1545.8,432.9 1546.2,435.9 1546.6,438.9 1547.0,438.9 1547.4,429.9 1547.8,420.9 1548.3,411.9 1548.7,423.9 1549.1,433.0 1549.5,423.9 1549.9,414.9 1550.3,430.0 1550.7,420.9 1551.2,427.0 1551.6,430.0 1552.0,436.0 1552.4,424.0 1552.8,439.1 1553.2,439.1 1553.6,427.0 1554.1,421.0 1554.5,421.0 1554.9,424.0 1555.3,433.1 1555.7,433.1 1556.1,421.0 1556.5,409.0 1557.0,451.2 1557.4,418.1 1557.8,430.1 1558.2,433.1 1558.6,439.2 1559.0,436.2 1559.4,442.2 1559.9,430.2 1560.3,439.2 1560.7,433.2 1561.1,442.2 1561.5,418.1 1561.9,424.2 1562.3,442.3 1562.8,427.2 1563.2,436.3 1563.6,439.3 1564.0,430.2 1564.4,424.2 1564.8,415.2 1565.2,430.3 1565.7,421.2 1566.1,424.3 1566.5,424.3 1566.9,421.3 1567.3,442.4 1567.7,436.3 1568.1,415.2 1568.5,442.4 1569.0,439.4 1569.4,412.3 1569.8,439.4 1570.2,430.4 1570.6,430.4 1571.0,436.4 1571.4,421.3 1571.9,424.4 1572.3,439.4 1572.7,415.3 1573.1,439.4 1573.5,436.4 1573.9,433.4 1574.3,430.4 1574.8,442.5 1575.2,430.4 1575.6,448.5 1576.0,436.5 1576.4,439.5 1576.8,439.5 1577.2,433.5 1577.7,430.5 1578.1,439.5 1578.5,433.5 1578.9,445.6 1579.3,436.5 1579.7,424.5 1580.1,439.6 1580.6,436.6 1581.0,433.6 1581.4,424.5 1581.8,430.6 1582.2,433.6 1582.6,442.6 1583.0,430.6 1583.5,454.7 1583.9,430.6 1584.3,439.6 1584.7,427.6 1585.1,433.6 1585.5,421.6 1585.9,439.7 1586.4,448.7 1586.8,433.7 1587.2,436.7 1587.6,433.7 1588.0,421.6 1588.4,439.7 1588.8,427.7 1589.3,424.7 1589.7,424.7 1590.1,448.8 1590.5,433.7 1590.9,439.8 1591.3,436.7 1591.7,439.8 1592.2,436.8 1592.6,424.7 1593.0,415.7 1593.4,427.7 1593.8,442.8 1594.2,421.7 1594.6,442.8 1595.1,436.8 1595.5,421.8 1595.9,439.8 1596.3,427.8 1596.7,436.8 1597.1,442.9 1597.5,430.8 1598.0,436.9 1598.4,415.8 1598.8,415.8 1599.2,418.8 1599.6,442.9 1600.0,415.8 1600.4,430.9 1600.9,427.9 1601.3,430.9 1601.7,436.9 1602.1,433.9 1602.5,424.9 1602.9,418.9 1603.3,427.9 1603.8,433.9 1604.2,437.0 1604.6,437.0 1605.0,418.9 1605.4,427.9 1605.8,431.0 1606.2,446.0 1606.7,449.0 1607.1,428.0 1607.5,428.0 1607.9,421.9 1608.3,431.0 1608.7,440.0 1609.1,446.1 1609.6,440.1 1610.0,452.1 1610.4,431.0 1610.8,428.0 1611.2,419.0 1611.6,449.1 1612.0,446.1 1612.5,428.0 1612.9,431.1 1613.3,449.2 1613.7,440.1 1614.1,434.1 1614.5,437.1 1614.9,431.1 1615.4,434.1 1615.8,440.1 1616.2,431.1 1616.6,434.1 1617.0,422.1 1617.4,446.2 1617.8,437.2 1618.3,440.2 1618.7,437.2 1619.1,431.2 1619.5,428.2 1619.9,452.3 1620.3,422.1 1620.7,428.2 1621.2,428.2 1621.6,434.2 1622.0,425.2 1622.4,431.2 1622.8,449.3 1623.2,440.3 1623.6,437.3 1624.1,437.3 1624.5,437.3 1624.9,428.2 1625.3,443.3 1625.7,440.3 1626.1,443.3 1626.5,434.3 1627.0,431.3 1627.4,440.3 1627.8,431.3 1628.2,440.3 1628.6,419.2 1629.0,452.4 1629.4,434.3 1629.9,422.3 1630.3,437.3 1630.7,443.4 1631.1,440.4 1631.5,428.3 1631.9,440.4 1632.3,425.3 1632.8,434.4 1633.2,440.4 1633.6,437.4 1634.0,431.4 1634.4,425.3 1634.8,440.4 1635.2,443.4 1635.6,443.4 1636.1,428.4 1636.5,416.3 1636.9,437.4 1637.3,428.4 1637.7,437.4 1638.1,425.4 1638.5,446.5 1639.0,428.4 1639.4,443.5 1639.8,440.5 1640.2,431.5 1640.6,437.5 1641.0,434.5 1641.4,428.5 1641.9,431.5 1642.3,419.4 1642.7,425.5 1643.1,440.5 1643.5,434.5 1643.9,437.5 1644.3,437.5 1644.8,416.4 1645.2,440.6 1645.6,422.5 1646.0,419.5 1646.4,407.4 1646.8,434.6 1647.2,431.5 1647.7,431.6 1648.1,437.6 1648.5,416.5 1648.9,413.5 1649.3,452.7 1649.7,437.6 1650.1,422.5 1650.6,443.6 1651.0,440.6 1651.4,434.6 1651.8,434.6 1652.2,437.6 1652.6,434.6 1653.0,416.6 1653.5,452.7 1653.9,437.7 1654.3,443.7 1654.7,431.6 1655.1,437.7 1655.5,428.6 1655.9,434.7 1656.4,410.6 1656.8,443.7 1657.2,437.7 1657.6,425.7 1658.0,437.7 1658.4,434.7 1658.8,446.8 1659.3,428.7 1659.7,434.7 1660.1,428.7 1660.5,440.8 1660.9,437.7 1661.3,440.8 1661.7,416.7 1662.2,449.8 1662.6,431.7 1663.0,431.7 1663.4,422.7 1663.8,431.8 1664.2,443.8 1664.6,428.8 1665.1,449.9 1665.5,422.7 1665.9,434.8 1666.3,440.8 1666.7,437.8 1667.1,428.8 1667.5,446.9 1668.0,416.7 1668.4,440.9 1668.8,419.8 1669.2,434.8 1669.6,413.7 1670.0,443.9 1670.4,425.8 1670.9,434.9 1671.3,440.9 1671.7,425.8 1672.1,437.9 1672.5,440.9 1672.9,437.9 1673.3,440.9 1673.8,437.9 1674.2,434.9 1674.6,422.8 1675.0,434.9 1675.4,440.9 1675.8,428.9 1676.2,437.9 1676.7,444.0 1677.1,444.0 1677.5,416.8 1677.9,434.9 1678.3,416.9 1678.7,444.0 1679.1,444.0 1679.6,416.9 1680.0,438.0 1680.4,438.0 1680.8,438.0 1681.2,444.0 1681.6,425.9 1682.0,444.0 1682.5,429.0 1682.9,444.0 1683.3,407.9 1683.7,429.0 1684.1,423.0 1684.5,450.1 1684.9,432.0 1685.4,441.0 1685.8,441.0 1686.2,441.1 1686.6,426.0 1687.0,435.0 1687.4,438.1 1687.8,441.1 1688.3,441.1 1688.7,441.1 1689.1,438.1 1689.5,444.1 1689.9,444.1 1690.3,453.2 1690.7,435.1 1691.2,429.1 1691.6,438.1 1692.0,420.0 1692.4,441.1 1692.8,435.1 1693.2,423.0 1693.6,432.1 1694.1,441.1 1694.5,432.1 1694.9,438.1 1695.3,423.1 1695.7,426.1 1696.1,438.1 1696.5,429.1 1697.0,417.1 1697.4,423.1 1697.8,426.1 1698.2,438.2 1698.6,441.2 1699.0,441.2 1699.4,426.1 1699.9,444.2 1700.3,432.2 1700.7,420.1 1701.1,447.2 1701.5,432.2 1701.9,444.2 1702.3,435.2 1702.8,429.2 1703.2,444.2 1703.6,447.3 1704.0,438.2 1704.4,432.2 1704.8,438.2 1705.2,444.3 1705.6,429.2 1706.1,444.3 1706.5,447.3 1706.9,435.2 1707.3,414.2 1707.7,438.3 1708.1,435.3 1708.5,444.3 1709.0,441.3 1709.4,444.3 1709.8,432.3 1710.2,441.3 1710.6,441.3 1711.0,426.2 1711.4,447.3 1711.9,426.3 1712.3,438.3 1712.7,441.3 1713.1,435.3 1713.5,438.3 1713.9,432.3 1714.3,438.3 1714.8,417.2 1715.2,423.3 1715.6,423.3 1716.0,444.4 1716.4,438.4 1716.8,423.3 1717.2,429.3 1717.7,435.3 1718.1,435.4 1718.5,423.3 1718.9,450.4 1719.3,441.4 1719.7,447.4 1720.1,423.3 1720.6,447.4 1721.0,438.4 1721.4,420.3 1721.8,438.4 1722.2,432.4 1722.6,435.4 1723.0,429.4 1723.5,411.3 1723.9,444.4 1724.3,435.4 1724.7,417.3 1725.1,411.3 1725.5,438.4 1725.9,420.4 1726.4,429.4 1726.8,429.4 1727.2,447.5 1727.6,447.5 1728.0,435.4 1728.4,435.5 1728.8,435.5 1729.3,444.5 1729.7,420.4 1730.1,438.5 1730.5,408.3 1730.9,438.5 1731.3,432.5 1731.7,426.4 1732.2,438.5 1732.6,444.5 1733.0,441.5 1733.4,435.5 1733.8,438.5 1734.2,414.4 1734.6,438.5 1735.1,426.5 1735.5,426.5 1735.9,432.5 1736.3,444.6 1736.7,429.5 1737.1,426.5 1737.5,432.5 1738.0,435.5 1738.4,453.6 1738.8,444.6 1739.2,435.5 1739.6,432.5 1740.0,426.5 1740.4,438.6 1740.9,432.5 1741.3,444.6 1741.7,429.5 1742.1,426.5 1742.5,435.6 1742.9,426.5 1743.3,438.6 1743.8,438.6 1744.2,438.6 1744.6,414.5 1745.0,447.6 1745.4,432.6 1745.8,438.6 1746.2,435.6 1746.7,447.7 1747.1,426.6 1747.5,429.6 1747.9,438.6 1748.3,438.6 1748.7,435.6 1749.1,426.6 1749.6,447.7 1750.0,420.6 1750.4,438.7 1750.8,426.6 1751.2,441.7 1751.6,414.6 1752.0,432.6 1752.5,417.6 1752.9,441.7 1753.3,441.7 1753.7,423.6 1754.1,426.6 1754.5,432.7 1754.9,423.6 1755.4,429.7 1755.8,438.7 1756.2,450.8 1756.6,453.8 1757.0,429.7 1757.4,429.7 1757.8,441.7 1758.3,429.7 1758.7,435.7 1759.1,435.7 1759.5,423.7 1759.9,447.8 1760.3,432.7 1760.7,429.7 1761.2,435.7 1761.6,432.7 1762.0,444.8 1762.4,432.7 1762.8,429.7 1763.2,426.7 1763.6,441.8 1764.1,426.7 1764.5,432.7 1764.9,426.7 1765.3,435.8 1765.7,429.7 1766.1,432.8 1766.5,408.6 1767.0,438.8 1767.4,423.7 1767.8,435.8 1768.2,447.8 1768.6,429.8 1769.0,423.7 1769.4,426.8 1769.9,426.8 1770.3,441.8 1770.7,432.8 1771.1,444.8 1771.5,417.7 1771.9,417.7 1772.3,444.9 1772.8,438.8 1773.2,444.9 1773.6,441.9 1774.0,438.8 1774.4,444.9 1774.8,438.8 1775.2,429.8 1775.6,438.9 1776.1,426.8 1776.5,435.8 1776.9,435.8 1777.3,444.9 1777.7,426.8 1778.1,444.9 1778.5,438.9 1779.0,444.9 1779.4,429.8 1779.8,444.9 1780.2,429.8 1780.6,414.8 1781.0,432.9 1781.4,454.0 1781.9,423.8 1782.3,432.9 1782.7,429.9 1783.1,429.9 1783.5,423.8 1783.9,423.8 1784.3,435.9 1784.8,444.9 1785.2,435.9 1785.6,426.9 1786.0,451.0 1786.4,432.9 1786.8,451.0 1787.2,423.9 1787.7,414.8 1788.1,426.9 1788.5,438.9 1788.9,426.9 1789.3,420.9 1789.7,417.9 1790.1,420.9 1790.6,423.9 1791.0,442.0 1791.4,436.0 1791.8,429.9 1792.2,436.0 1792.6,451.0 1793.0,436.0 1793.5,442.0 1793.9,433.0 1794.3,433.0 1794.7,448.0 1795.1,442.0 1795.5,433.0 1795.9,445.0 1796.4,436.0 1796.8,442.0 1797.2,442.0 1797.6,427.0 1798.0,436.0 1798.4,439.0 1798.8,417.9 1799.3,439.0 1799.7,436.0 1800.1,436.0 1800.5,402.9 1800.9,430.0 1801.3,427.0 1801.7,439.0 1802.2,427.0 1802.6,424.0 1803.0,445.1 1803.4,430.0 1803.8,418.0 1804.2,414.9 1804.6,433.0 1805.1,411.9 1805.5,442.1 1805.9,424.0 1806.3,430.0 1806.7,445.1 1807.1,424.0 1807.5,445.1 1808.0,442.1 1808.4,436.1 1808.8,445.1 1809.2,424.0 1809.6,439.1 1810.0,445.1 1810.4,433.1 1810.9,436.1 1811.3,445.1 1811.7,439.1 1812.1,427.0 1812.5,427.1 1812.9,448.1 1813.3,424.0 1813.8,424.0 1814.2,424.0 1814.6,439.1 1815.0,442.1 1815.4,436.1 1815.8,439.1 1816.2,436.1 1816.7,439.1 1817.1,439.1 1817.5,439.1 1817.9,436.1 1818.3,433.1 1818.7,436.1 1819.1,439.1 1819.6,418.1 1820.0,424.1 1820.4,430.1 1820.8,442.2 1821.2,430.1 1821.6,436.1 1822.0,430.1 1822.5,433.1 1822.9,409.0 1823.3,436.2 1823.7,442.2 1824.1,424.1 1824.5,424.1 1824.9,421.1 1825.4,457.3 1825.8,442.2 1826.2,442.2 1826.6,448.2 1827.0,433.2 1827.4,427.1 1827.8,424.1 1828.3,427.1 1828.7,436.2 1829.1,418.1 1829.5,433.2 1829.9,457.3 1830.3,439.2 1830.7,442.2 1831.2,433.2 1831.6,439.2 1832.0,439.2 1832.4,421.1 1832.8,442.2 1833.2,448.3 1833.6,433.2 1834.1,430.2 1834.5,436.2 1834.9,436.2 1835.3,442.3 1835.7,445.3 1836.1,442.3 1836.5,445.3 1837.0,424.2 1837.4,439.3 1837.8,421.2 1838.2,436.2 1838.6,442.3 1839.0,433.2 1839.4,433.2 1839.9,421.2 1840.3,451.3 1840.7,439.3 1841.1,433.2 1841.5,442.3 1841.9,436.3 1842.3,439.3 1842.7,421.2 1843.2,424.2 1843.6,451.3 1844.0,448.3 1844.4,442.3 1844.8,436.3 1845.2,436.3 1845.6,439.3 1846.1,430.3 1846.5,427.3 1846.9,436.3 1847.3,439.3 1847.7,436.3 1848.1,442.3 1848.5,427.3 1849.0,427.3 1849.4,442.3 1849.8,421.2 1850.2,436.3 1850.6,427.3 1851.0,436.3 1851.4,439.3 1851.9,430.3 1852.3,445.4 1852.7,439.3 1853.1,445.4 1853.5,430.3 1853.9,439.3 1854.3,439.3 1854.8,439.3 1855.2,430.3 1855.6,433.3 1856.0,439.4 1856.4,439.4 1856.8,418.3 1857.2,421.3 1857.7,445.4 1858.1,424.3 1858.5,430.3 1858.9,433.3 1859.3,433.3 1859.7,448.4 1860.1,409.2 1860.6,415.3 1861.0,436.4 1861.4,436.4 1861.8,433.4 1862.2,442.4 1862.6,430.3 1863.0,436.4 1863.5,445.4 1863.9,439.4 1864.3,442.4 1864.7,442.4 1865.1,439.4 1865.5,430.4 1865.9,439.4 1866.4,448.4 1866.8,421.3 1867.2,442.4 1867.6,421.3 1868.0,433.4 1868.4,430.4 1868.8,442.4 1869.3,436.4 1869.7,439.4 1870.1,436.4 1870.5,430.4 1870.9,439.4 1871.3,427.4 1871.7,448.5 1872.2,445.5 1872.6,433.4 1873.0,430.4 1873.4,424.4 1873.8,418.3 1874.2,433.4 1874.6,427.4 1875.1,433.4 1875.5,436.4 1875.9,436.4 1876.3,436.4 1876.7,439.5 1877.1,436.4 1877.5,427.4 1878.0,430.4 1878.4,424.4 1878.8,439.5 1879.2,439.5 1879.6,433.4 1880.0,442.5 1880.4,442.5 1880.9,430.4 1881.3,439.5 1881.7,427.4 1882.1,436.5 1882.5,439.5 1882.9,445.5 1883.3,424.4 1883.8,436.5 1884.2,442.5 1884.6,448.5 1885.0,445.5 1885.4,439.5 1885.8,424.4 1886.2,442.5 1886.7,433.5 1887.1,433.5 1887.5,460.6 1887.9,445.5 1888.3,427.5 1888.7,451.6 1889.1,424.4 1889.6,436.5 1890.0,451.6 1890.4,418.4 1890.8,439.5 1891.2,421.4 1891.6,436.5 1892.0,442.5 1892.5,424.5 1892.9,418.4 1893.3,424.5 1893.7,445.6 1894.1,430.5 1894.5,445.6 1894.9,442.6 1895.4,424.5 1895.8,448.6 1896.2,412.4 1896.6,448.6 1897.0,448.6 1897.4,430.5 1897.8,439.6 1898.3,439.6 1898.7,445.6 1899.1,430.5 1899.5,436.5 1899.9,436.5 1900.3,442.6 1900.7,448.6 1901.2,436.6 1901.6,454.6 1902.0,442.6 1902.4,430.5 1902.8,430.5 1903.2,439.6 1903.6,457.7 1904.1,430.5 1904.5,427.5 1904.9,436.6 1905.3,424.5 1905.7,427.5 1906.1,451.6 1906.5,439.6 1907.0,442.6 1907.4,421.5 1907.8,427.5 1908.2,436.6 1908.6,430.6 1909.0,427.5 1909.4,442.6 1909.9,439.6 1910.3,439.6 1910.7,439.6 1911.1,439.6 1911.5,436.6 1911.9,448.7 1912.3,445.6 1912.7,430.6 1913.2,421.5 1913.6,418.5 1914.0,451.7 1914.4,433.6 1914.8,442.6 1915.2,442.6 1915.6,439.6 1916.1,433.6 1916.5,430.6 1916.9,457.7 1917.3,442.6 1917.7,427.6 1918.1,436.6 1918.5,448.7 1919.0,445.7 1919.4,442.7 1919.8,427.6 1920.2,418.6 1920.6,445.7 1921.0,433.6 1921.4,439.7 1921.9,430.6 1922.3,439.7 1922.7,445.7 1923.1,442.7 1923.5,442.7 1923.9,421.6 1924.3,442.7 1924.8,430.6 1925.2,445.7 1925.6,442.7 1926.0,436.7 1926.4,442.7 1926.8,418.6 1927.2,424.6 1927.7,445.7 1928.1,433.6 1928.5,421.6 1928.9,445.7 1929.3,439.7 1929.7,421.6 1930.1,442.7 1930.6,430.6 1931.0,439.7 1931.4,436.7 1931.8,445.7 1932.2,439.7 1932.6,439.7 1933.0,418.6 1933.5,430.7 1933.9,436.7 1934.3,436.7 1934.7,430.7 1935.1,451.8 1935.5,445.7 1935.9,445.7 1936.4,442.7 1936.8,451.8 1937.2,433.7 1937.6,442.7 1938.0,424.6 1938.4,439.7 1938.8,439.7 1939.3,433.7 1939.7,433.7 1940.1,439.7 1940.5,430.7 1940.9,424.7 1941.3,442.7 1941.7,424.7 1942.2,439.7 1942.6,427.7 1943.0,439.7 1943.4,439.7 1943.8,433.7 1944.2,445.8 1944.6,451.8 1945.1,436.7 1945.5,439.7 1945.9,445.8 1946.3,415.6 1946.7,433.7 1947.1,442.8 1947.5,433.7 1948.0,433.7 1948.4,439.7 1948.8,439.8 1949.2,451.8 1949.6,436.7 1950.0,418.7 1950.4,424.7 1950.9,427.7 1951.3,442.8 1951.7,445.8 1952.1,427.7 1952.5,433.7 1952.9,439.8 1953.3,439.8 1953.8,427.7 1954.2,430.7 1954.6,442.8 1955.0,439.8 1955.4,451.8 1955.8,445.8 1956.2,433.7 1956.7,442.8 1957.1,445.8 1957.5,436.8 1957.9,424.7 1958.3,445.8 1958.7,439.8 1959.1,439.8 1959.6,412.7 1960.0,427.7 1960.4,436.8 1960.8,448.8 1961.2,430.8 1961.6,433.8 1962.0,439.8 1962.5,442.8 1962.9,442.8 1963.3,451.9 1963.7,439.8 1964.1,442.8 1964.5,445.8 1964.9,439.8 1965.4,448.8 1965.8,427.8 1966.2,439.8 1966.6,445.8 1967.0,430.8 1967.4,433.8 1967.8,442.8 1968.3,448.9 1968.7,439.8 1969.1,433.8 1969.5,430.8 1969.9,427.8 1970.3,430.8 1970.7,448.9 1971.2,436.8 1971.6,451.9 1972.0,427.8 1972.4,433.8 1972.8,427.8 1973.2,436.8 1973.6,436.8 1974.1,442.8 1974.5,460.9 1974.9,439.8 1975.3,412.7 1975.7,424.8 1976.1,439.8 1976.5,433.8 1977.0,433.8 1977.4,442.9 1977.8,436.8 1978.2,433.8 1978.6,442.9 1979.0,433.8 1979.4,424.8 1979.9,430.8 1980.3,436.8 1980.7,439.9 1981.1,430.8 1981.5,442.9 1981.9,442.9 1982.3,424.8 1982.7,439.9 1983.2,448.9 1983.6,430.8 1984.0,430.8 1984.4,427.8 1984.8,439.9 1985.2,424.8 1985.6,439.9 1986.1,445.9 1986.5,439.9 1986.9,436.9 1987.3,445.9 1987.7,439.9 1988.1,436.9 1988.5,439.9 1989.0,436.9 1989.4,436.9 1989.8,442.9 1990.2,433.9 1990.6,430.8 1991.0,451.9 1991.4,442.9 1991.9,430.8 1992.3,433.9 1992.7,451.9 1993.1,436.9 1993.5,421.8 1993.9,427.8 1994.3,430.9 1994.8,439.9 1995.2,436.9 1995.6,445.9 1996.0,436.9 1996.4,412.8 1996.8,436.9 1997.2,445.9 1997.7,430.9 1998.1,452.0 1998.5,412.8 1998.9,430.9 1999.3,439.9 1999.7,439.9 2000.1,442.9 2000.6,436.9 2001.0,436.9 2001.4,449.0 2001.8,427.9 2002.2,439.9 2002.6,445.9 2003.0,427.9 2003.5,430.9 2003.9,442.9 2004.3,442.9 2004.7,424.9 2005.1,439.9 2005.5,433.9 2005.9,421.8 2006.4,446.0 2006.8,449.0 2007.2,442.9 2007.6,442.9 2008.0,436.9 2008.4,427.9 2008.8,439.9 2009.3,418.8 2009.7,433.9 2010.1,452.0 2010.5,436.9 2010.9,430.9 2011.3,424.9 2011.7,443.0 2012.2,436.9 2012.6,412.8 2013.0,436.9 2013.4,443.0 2013.8,449.0 2014.2,439.9 2014.6,433.9 2015.1,446.0 2015.5,421.9 2015.9,443.0 2016.3,452.0 2016.7,430.9 2017.1,436.9 2017.5,440.0 2018.0,424.9 2018.4,443.0 2018.8,430.9 2019.2,440.0 2019.6,418.9 2020.0,436.9 2020.4,437.0 2020.9,430.9 2021.3,437.0 2021.7,430.9 2022.1,440.0 2022.5,430.9 2022.9,437.0 2023.3,440.0 2023.8,430.9 2024.2,430.9 2024.6,446.0 2025.0,440.0 2025.4,449.0 2025.8,437.0 2026.2,427.9 2026.7,412.9 2027.1,434.0 2027.5,424.9 2027.9,421.9 2028.3,427.9 2028.7,452.0 2029.1,440.0 2029.6,434.0 2030.0,434.0 2030.4,437.0 2030.8,443.0 2031.2,452.0 2031.6,434.0 2032.0,424.9 2032.5,440.0 2032.9,431.0 2033.3,440.0 2033.7,437.0 2034.1,440.0 2034.5,427.9 2034.9,443.0 2035.4,434.0 2035.8,427.9 2036.2,437.0 2036.6,446.0 2037.0,434.0 2037.4,437.0 2037.8,446.0 2038.3,437.0 2038.7,440.0 2039.1,431.0 2039.5,440.0 2039.9,437.0 2040.3,431.0 2040.7,452.1 2041.2,428.0 2041.6,437.0 2042.0,443.0 2042.4,434.0 2042.8,425.0 2043.2,443.0 2043.6,440.0 2044.1,421.9 2044.5,421.9 2044.9,415.9 2045.3,437.0 2045.7,443.0 2046.1,443.0 2046.5,440.0 2047.0,443.0 2047.4,431.0 2047.8,425.0 2048.2,446.1 2048.6,422.0 2049.0,443.0 2049.4,443.0 2049.8,446.1 2050.3,428.0 2050.7,437.0 2051.1,437.0 2051.5,458.1 2051.9,440.0 2052.3,434.0 2052.7,458.1 2053.2,415.9 2053.6,434.0 2054.0,425.0 2054.4,440.0 2054.8,428.0 2055.2,422.0 2055.6,409.9 2056.1,446.1 2056.5,415.9 2056.9,446.1 2057.3,434.0 2057.7,440.1 2058.1,437.0 2058.5,452.1 2059.0,440.1 2059.4,446.1 2059.8,437.0 2060.2,434.0 2060.6,437.0 2061.0,437.0 2061.4,422.0 2061.9,434.0 2062.3,431.0 2062.7,422.0 2063.1,437.0 2063.5,434.0 2063.9,428.0 2064.3,437.1 2064.8,422.0 2065.2,440.1 2065.6,437.1 2066.0,437.1 2066.4,440.1 2066.8,437.1 2067.2,440.1 2067.7,455.1 2068.1,425.0 2068.5,440.1 2068.9,428.0 2069.3,446.1 2069.7,431.0 2070.1,446.1 2070.6,422.0 2071.0,437.1 2071.4,440.1 2071.8,458.2 2072.2,455.1 2072.6,440.1 2073.0,443.1 2073.5,443.1 2073.9,440.1 2074.3,428.0 2074.7,440.1 2075.1,440.1 2075.5,443.1 2075.9,446.1 2076.4,434.1 2076.8,440.1 2077.2,440.1 2077.6,434.1 2078.0,437.1 2078.4,428.0 2078.8,428.0 2079.3,446.1 2079.7,443.1 2080.1,428.0 2080.5,440.1 2080.9,431.1 2081.3,443.1 2081.7,455.2 2082.2,455.2 2082.6,443.1 2083.0,440.1 2083.4,413.0 2083.8,428.1 2084.2,428.1 2084.6,428.1 2085.1,449.1 2085.5,437.1 2085.9,437.1 2086.3,416.0 2086.7,443.1 2087.1,449.2 2087.5,437.1 2088.0,437.1 2088.4,434.1 2088.8,434.1 2089.2,434.1 2089.6,440.1 2090.0,440.1 2090.4,413.0 2090.9,440.1 2091.3,431.1 2091.7,443.1 2092.1,449.2 2092.5,428.1 2092.9,434.1 2093.3,422.0 2093.8,425.1 2094.2,434.1 2094.6,443.1 2095.0,416.0 2095.4,434.1 2095.8,413.0 2096.2,428.1 2096.7,425.1 2097.1,428.1 2097.5,431.1 2097.9,437.1 2098.3,410.0 2098.7,443.1 2099.1,446.2 2099.6,431.1 2100.0,440.1 2100.4,425.1 2100.8,437.1 2101.2,422.1 2101.6,434.1 2102.0,440.1 2102.5,437.1 2102.9,428.1 2103.3,440.1 2103.7,443.2 2104.1,437.1 2104.5,431.1 2104.9,422.1 2105.4,431.1 2105.8,425.1 2106.2,437.1 2106.6,416.0 2107.0,413.0 2107.4,440.1 2107.8,431.1 2108.3,437.1 2108.7,431.1 2109.1,437.1 2109.5,440.2 2109.9,446.2 2110.3,440.2 2110.7,434.1 2111.2,425.1 2111.6,428.1 2112.0,440.2 2112.4,440.2 2112.8,446.2 2113.2,428.1 2113.6,434.1 2114.1,428.1 2114.5,428.1 2114.9,428.1 2115.3,437.1 2115.7,437.1 2116.1,443.2 2116.5,440.2 2117.0,431.1 2117.4,413.0 2117.8,440.2 2118.2,434.1 2118.6,404.0 2119.0,434.1 2119.4,437.2 2119.8,434.1 2120.3,437.2 2120.7,452.2 2121.1,428.1 2121.5,449.2 2121.9,440.2 2122.3,440.2 2122.7,431.1 2123.2,437.2 2123.6,440.2 2124.0,443.2 2124.4,434.1 2124.8,440.2 2125.2,443.2 2125.6,446.2 2126.1,443.2 2126.5,434.2 2126.9,449.2 2127.3,434.2 2127.7,437.2 2128.1,425.1 2128.5,443.2 2129.0,443.2 2129.4,437.2 2129.8,440.2 2130.2,458.3 2130.6,425.1 2131.0,434.2 2131.4,437.2 2131.9,443.2 2132.3,434.2 2132.7,440.2 2133.1,422.1 2133.5,431.1 2133.9,422.1 2134.3,446.2 2134.8,443.2 2135.2,440.2 2135.6,443.2 2136.0,422.1 2136.4,434.2 2136.8,446.2 2137.2,440.2 2137.7,419.1 2138.1,440.2 2138.5,431.2 2138.9,449.2 2139.3,443.2 2139.7,437.2 2140.1,440.2 2140.6,437.2 2141.0,434.2 2141.4,425.1 2141.8,449.2 2142.2,437.2 2142.6,431.2 2143.0,434.2 2143.5,425.1 2143.9,437.2 2144.3,440.2 2144.7,443.2 2145.1,428.2 2145.5,446.2 2145.9,440.2 2146.4,437.2 2146.8,431.2 2147.2,440.2 2147.6,443.2 2148.0,431.2 2148.4,446.2 2148.8,443.2 2149.3,452.3 2149.7,437.2 2150.1,437.2 2150.5,452.3 2150.9,440.2 2151.3,431.2 2151.7,443.2 2152.2,449.3 2152.6,437.2 2153.0,431.2 2153.4,452.3 2153.8,428.2 2154.2,437.2 2154.6,428.2 2155.1,446.2 2155.5,428.2 2155.9,434.2 2156.3,431.2 2156.7,437.2 2157.1,428.2 2157.5,440.2 2158.0,440.2 2158.4,446.3 2158.8,449.3 2159.2,437.2 2159.6,440.2 2160.0,437.2 2160.4,440.2 2160.9,434.2 2161.3,437.2 2161.7,443.2 2162.1,431.2 2162.5,416.1 2162.9,443.2 2163.3,440.2 2163.8,431.2 2164.2,443.2 2164.6,428.2 2165.0,443.2 2165.4,446.3 2165.8,446.3 2166.2,428.2 2166.7,452.3 2167.1,437.2 2167.5,455.3 2167.9,431.2 2168.3,434.2 2168.7,431.2 2169.1,416.1 2169.6,437.2 2170.0,425.2 2170.4,431.2 2170.8,425.2 2171.2,443.3 2171.6,425.2 2172.0,440.2 2172.5,422.2 2172.9,425.2 2173.3,434.2 2173.7,431.2 2174.1,431.2 2174.5,434.2 2174.9,407.1 2175.4,443.3 2175.8,446.3 2176.2,446.3 2176.6,437.2 2177.0,437.2 2177.4,428.2 2177.8,425.2 2178.3,434.2 2178.7,434.2 2179.1,443.3 2179.5,425.2 2179.9,422.2 2180.3,437.2 2180.7,428.2 2181.2,440.3 2181.6,434.2 2182.0,434.2 2182.4,425.2" fill="none" stroke="#ff0000" stroke-width="7.0" stroke-linejoin="round" stroke-linecap="round" clip-path="url(#cm)"/>
<path d="M444.1 1541.0V1520.0M444.1 59.0V80.0M651.2 1541.0V1520.0M651.2 59.0V80.0M858.3 1541.0V1520.0M858.3 59.0V80.0M1065.4 1541.0V1520.0M1065.4 59.0V80.0M1272.5 1541.0V1520.0M1272.5 59.0V80.0M1479.6 1541.0V1520.0M1479.6 59.0V80.0M1686.7 1541.0V1520.0M1686.7 59.0V80.0M1893.8 1541.0V1520.0M1893.8 59.0V80.0M2100.9 1541.0V1520.0M2100.9 59.0V80.0M237.0 1294.0H258.0M2308.0 1294.0H2287.0M237.0 1047.0H258.0M2308.0 1047.0H2287.0M237.0 800.0H258.0M2308.0 800.0H2287.0M237.0 553.0H258.0M2308.0 553.0H2287.0M237.0 306.0H258.0M2308.0 306.0H2287.0" stroke="#262626" stroke-width="2.2" fill="none"/>
<rect x="237.0" y="59.0" width="2071.0" height="1482.0" fill="none" stroke="#262626" stroke-width="2.2"/>
<g font-size="64" fill="#262626"><text x="237.0" y="1621.0" text-anchor="middle">0</text><text x="444.1" y="1621.0" text-anchor="middle">2</text><text x="651.2" y="1621.0" text-anchor="middle">4</text><text x="858.3" y="1621.0" text-anchor="middle">6</text><text x="1065.4" y="1621.0" text-anchor="middle">8</text><text x="1272.5" y="1621.0" text-anchor="middle">10</text><text x="1479.6" y="1621.0" text-anchor="middle">12</text><text x="1686.7" y="1621.0" text-anchor="middle">14</text><text x="1893.8" y="1621.0" text-anchor="middle">16</text><text x="2100.9" y="1621.0" text-anchor="middle">18</text><text x="2308.0" y="1621.0" text-anchor="middle">20</text><text x="216.5" y="1563.5" text-anchor="end">0</text><text x="216.5" y="1316.5" text-anchor="end">200</text><text x="216.5" y="1069.5" text-anchor="end">400</text><text x="216.5" y="822.5" text-anchor="end">600</text><text x="216.5" y="575.5" text-anchor="end">800</text><text x="216.5" y="328.5" text-anchor="end">1000</text><text x="216.5" y="81.5" text-anchor="end">1200</text></g>
<text x="1272.5" y="1695.5" text-anchor="middle" font-size="64" fill="#262626">Time: s</text>
<text transform="translate(64.5 804) rotate(-90)" text-anchor="middle" font-size="64" fill="#262626">Speed: r/min</text>
<rect x="426.5" y="241.2" width="234.6" height="116.5" fill="none" stroke="#000" stroke-width="2.2"/>
<rect x="1670.4" y="403.8" width="283" height="116" fill="none" stroke="#000" stroke-width="2.2"/>
<line x1="481.3" y1="377.3" x2="680" y2="771" stroke="#000" stroke-width="2.2"/>
<polygon points="688.4,787.3 654.9,755.9 675.7,762 684.4,742" fill="#000"/>
<line x1="1725.1" y1="539.5" x2="1841" y2="745" stroke="#000" stroke-width="2.2"/>
<polygon points="1848.8,759.8 1813.6,730.2 1833.9,734.4 1842,715.3" fill="#000"/>
<rect x="685" y="585.8" width="119.2" height="99" fill="none" stroke="#000" stroke-width="2.2"/>
<text x="733.7" y="668.8" text-anchor="middle" font-size="77" fill="#000">A</text>
<rect x="1867.5" y="653" width="103.3" height="98.5" fill="none" stroke="#000" stroke-width="2.2"/>
<text x="1912.8" y="735.6" text-anchor="middle" font-size="77" fill="#000">B</text>
<path d="M613.6 852.0V1415.0M902.8 852.0V1415.0M469.0 1268.6H1192.0M469.0 1218.0H1192.0M469.0 1133.5H1192.0M469.0 1049.0H1192.0" stroke="#e3e3e3" stroke-width="2" fill="none"/>
<polyline points="464.1,1139.0 465.2,1193.9 466.4,1207.6 467.6,1221.3 468.7,1180.1 469.9,1125.2 471.0,1207.6 472.2,1166.3 473.3,1138.9 474.5,1166.3 475.7,1166.3 476.8,1207.5 478.0,1152.5 479.1,1180.0 480.3,1180.0 481.4,1180.0 482.6,1138.7 483.7,1125.0 484.9,1207.4 486.1,1138.7 487.2,1207.4 488.4,1234.8 489.5,1179.9 490.7,1152.4 491.8,1152.4 493.0,1138.6 494.2,1248.5 495.3,1111.1 496.5,1124.8 497.6,1138.6 498.8,1221.0 499.9,1138.5 501.1,1179.7 502.3,1179.7 503.4,1152.2 504.6,1220.9 505.7,1111.0 506.9,1124.7 508.0,1124.7 509.2,1111.0 510.4,1234.6 511.5,1165.9 512.7,1165.9 513.8,1207.1 515.0,1124.6 516.1,1069.7 517.3,1207.0 518.5,1138.3 519.6,1152.1 520.8,1152.0 521.9,1152.0 523.1,1124.5 524.2,1179.5 525.4,1165.7 526.6,1097.0 527.7,1152.0 528.9,1151.9 530.0,1234.4 531.2,1138.2 532.3,1138.2 533.5,1138.2 534.6,1096.9 535.8,1234.3 537.0,1124.4 538.1,1220.5 539.3,1206.8 540.4,1248.0 541.6,1124.3 542.7,1165.5 543.9,1179.2 545.1,1151.8 546.2,1247.9 547.4,1179.2 548.5,1151.7 549.7,1179.2 550.8,1151.7 552.0,1220.4 553.2,1151.7 554.3,1165.4 555.5,1151.6 556.6,1096.7 557.8,1151.6 558.9,1179.1 560.1,1137.8 561.3,1206.5 562.4,1096.6 563.6,1151.5 564.7,1151.5 565.9,1137.8 567.0,1206.4 568.2,1151.5 569.4,1165.2 570.5,1082.8 571.7,1110.2 572.8,1096.5 574.0,1151.4 575.1,1151.4 576.3,1123.9 577.5,1192.6 578.6,1192.6 579.8,1096.4 580.9,1137.6 582.1,1137.6 583.2,1233.7 584.4,1178.8 585.5,1178.8 586.7,1192.5 587.9,1151.3 589.0,1192.5 590.2,1206.2 591.3,1096.3 592.5,1137.5 593.6,1206.1 594.8,1082.5 596.0,1137.4 597.1,1137.4 598.3,1274.8 599.4,1109.9 600.6,1151.1 601.7,1109.9 602.9,1096.1 604.1,1206.0 605.2,1096.1 606.4,1123.6 607.5,1151.0 608.7,1260.9 609.8,1082.3 611.0,1137.2 612.2,1137.2 613.3,1205.9 614.5,1137.2 615.6,1137.2 616.8,1096.0 617.9,1192.1 619.1,1247.0 620.3,1178.3 621.4,1192.1 622.6,1137.1 623.7,1164.6 624.9,1150.8 626.0,1109.6 627.2,1095.8 628.3,1150.8 629.5,1219.5 630.7,1150.8 631.8,1164.5 633.0,1150.7 634.1,1164.5 635.3,1150.7 636.4,1246.8 637.6,1136.9 638.8,1136.9 639.9,1136.9 641.1,1164.4 642.2,1123.1 643.4,1233.0 644.5,1164.3 645.7,1136.8 646.9,1178.0 648.0,1164.3 649.2,1123.1 650.3,1164.3 651.5,1191.7 652.6,1178.0 653.8,1136.7 655.0,1205.4 656.1,1150.5 657.3,1177.9 658.4,1150.4 659.6,1122.9 660.7,1136.7 661.9,1150.4 663.1,1150.4 664.2,1122.9 665.4,1191.6 666.5,1150.3 667.7,1205.3 668.8,1109.1 670.0,1150.3 671.2,1205.2 672.3,1177.7 673.5,1122.8 674.6,1150.2 675.8,1232.6 676.9,1095.3 678.1,1150.2 679.2,1136.4 680.4,1163.9 681.6,1191.4 682.7,1218.8 683.9,1150.1 685.0,1150.1 686.2,1163.8 687.3,1122.6 688.5,1136.3 689.7,1205.0 690.8,1177.5 692.0,1108.8 693.1,1218.7 694.3,1081.3 695.4,1177.5 696.6,1067.6 697.8,1136.2 698.9,1218.6 700.1,1136.2 701.2,1149.9 702.4,1177.4 703.5,1149.9 704.7,1149.9 705.9,1287.2 707.0,1122.4 708.2,1163.6 709.3,1149.8 710.5,1122.3 711.6,1149.8 712.8,1204.7 714.0,1122.3 715.1,1163.5 716.3,1149.8 717.4,1177.2 718.6,1163.5 719.7,1190.9 720.9,1094.8 722.1,1204.6 723.2,1122.2 724.4,1232.1 725.5,1135.9 726.7,1163.4 727.8,1122.1 729.0,1149.6 730.1,1080.9 731.3,1053.4 732.5,1177.0 733.6,1122.1 734.8,1190.7 735.9,1190.7 737.1,1149.5 738.2,1122.0 739.4,1122.0 740.6,1163.2 741.7,1108.2 742.9,1204.4 744.0,1190.6 745.2,1149.4 746.3,1231.8 747.5,1108.2 748.7,1149.4 749.8,1163.1 751.0,1135.6 752.1,1204.3 753.3,1149.3 754.4,1218.0 755.6,1163.0 756.8,1149.3 757.9,1094.3 759.1,1149.3 760.2,1108.0 761.4,1149.2 762.5,1217.9 763.7,1121.7 764.9,1149.2 766.0,1176.6 767.2,1121.7 768.3,1190.4 769.5,1162.9 770.6,1121.6 771.8,1121.6 772.9,1176.6 774.1,1135.3 775.3,1149.1 776.4,1121.6 777.6,1162.8 778.7,1245.2 779.9,1162.7 781.0,1094.0 782.2,1190.2 783.4,1162.7 784.5,1121.5 785.7,1162.7 786.8,1190.1 788.0,1148.9 789.1,1162.6 790.3,1190.1 791.5,1162.6 792.6,1203.8 793.8,1217.5 794.9,1203.8 796.1,1162.6 797.2,1148.8 798.4,1176.3 799.6,1107.6 800.7,1135.0 801.9,1148.8 803.0,1107.5 804.2,1093.8 805.3,1121.2 806.5,1176.2 807.7,1121.2 808.8,1107.5 810.0,1134.9 811.1,1148.6 812.3,1134.9 813.4,1134.9 814.6,1231.0 815.8,1093.6 816.9,1148.6 818.1,1079.9 819.2,1148.6 820.4,1176.0 821.5,1121.0 822.7,1148.5 823.8,1121.0 825.0,1162.2 826.2,1162.2 827.3,1175.9 828.5,1175.9 829.6,1134.7 830.8,1203.4 831.9,1148.4 833.1,1107.2 834.3,1189.6 835.4,1162.1 836.6,1175.8 837.7,1162.1 838.9,1148.3 840.0,1120.8 841.2,1120.8 842.4,1175.8 843.5,1120.8 844.7,1175.7 845.8,1203.2 847.0,1189.4 848.1,1230.6 849.3,1148.2 850.5,1230.6 851.6,1148.2 852.8,1065.7 853.9,1189.4 855.1,1244.3 856.2,1134.4 857.4,1189.3 858.6,1148.1 859.7,1148.1 860.9,1134.3 862.0,1065.6 863.2,1134.3 864.3,1134.3 865.5,1148.0 866.7,1175.5 867.8,1175.5 869.0,1189.2 870.1,1120.5 871.3,1147.9 872.4,1120.5 873.6,1134.2 874.7,1065.5 875.9,1147.9 877.1,1120.4 878.2,1175.3 879.4,1106.6 880.5,1161.6 881.7,1147.8 882.8,1202.8 884.0,1134.1 885.2,1092.8 886.3,1106.6 887.5,1189.0 888.6,1120.3 889.8,1175.2 890.9,1216.4 892.1,1202.6 893.3,1106.5 894.4,1161.4 895.6,1202.6 896.7,1133.9 897.9,1133.9 899.0,1161.4 900.2,1133.9 901.4,1161.3 902.5,1106.4 903.7,1120.1 904.8,1147.6 906.0,1133.8 907.1,1120.0 908.3,1147.5 909.5,1133.8 910.6,1147.5 911.8,1161.2 912.9,1229.9 914.1,1202.4 915.2,1188.6 916.4,1147.4 917.5,1051.2 918.7,1188.6 919.9,1161.1 921.0,1202.3 922.2,1161.1 923.3,1161.1 924.5,1119.8 925.6,1202.3 926.8,1133.6 928.0,1133.5 929.1,1161.0 930.3,1202.2 931.4,1188.5 932.6,1161.0 933.7,1133.5 934.9,1147.2 936.1,1174.7 937.2,1133.4 938.4,1188.4 939.5,1119.7 940.7,1051.0 941.8,1174.6 943.0,1105.9 944.2,1188.3 945.3,1147.1 946.5,1133.3 947.6,1105.8 948.8,1147.0 949.9,1105.8 951.1,1202.0 952.3,1160.7 953.4,1147.0 954.6,1147.0 955.7,1147.0 956.9,1078.3 958.0,1160.7 959.2,1105.7 960.4,1133.2 961.5,1078.2 962.7,1160.6 963.8,1119.4 965.0,1119.4 966.1,1284.2 967.3,1133.1 968.4,1105.6 969.6,1091.8 970.8,1188.0 971.9,1146.8 973.1,1105.5 974.2,1188.0 975.4,1174.2 976.5,1119.2 977.7,1119.2 978.9,1105.5 980.0,1105.5 981.2,1132.9 982.3,1187.9 983.5,1174.1 984.6,1146.6 985.8,1132.9 987.0,1146.6 988.1,1119.1 989.3,1174.0 990.4,1160.3 991.6,1201.5 992.7,1077.8 993.9,1146.5 995.1,1105.3 996.2,1105.3 997.4,1132.7 998.5,1146.5 999.7,1160.2 1000.8,1160.2 1002.0,1215.1 1003.2,1160.1 1004.3,1118.9 1005.5,1132.6 1006.6,1118.9 1007.8,1118.9 1008.9,1118.9 1010.1,1132.6 1011.3,1132.6 1012.4,1105.1 1013.6,1160.0 1014.7,1201.2 1015.9,1118.8 1017.0,1146.2 1018.2,1105.0 1019.3,1173.7 1020.5,1214.9 1021.7,1146.2 1022.8,1173.6 1024.0,1187.4 1025.1,1091.2 1026.3,1132.4 1027.4,1201.1 1028.6,1214.8 1029.8,1146.1 1030.9,1118.6 1032.1,1132.3 1033.2,1104.8 1034.4,1132.3 1035.5,1132.3 1036.7,1228.4 1037.9,1104.8 1039.0,1159.7 1040.2,1104.8 1041.3,1214.6 1042.5,1187.2 1043.6,1104.7 1044.8,1200.9 1046.0,1132.2 1047.1,1159.6 1048.3,1077.2 1049.4,1132.1 1050.6,1104.6 1051.7,1145.8 1052.9,1214.5 1054.1,1077.1 1055.2,1173.3 1056.4,1145.8 1057.5,1145.8 1058.7,1214.4 1059.8,1118.3 1061.0,1159.5 1062.1,1214.4 1063.3,1200.6 1064.5,1241.8 1065.6,1173.1 1066.8,1145.7 1067.9,1186.9 1069.1,1145.6 1070.2,1159.4 1071.4,1131.9 1072.6,1145.6 1073.7,1145.6 1074.9,1173.0 1076.0,1200.5 1077.2,1186.7 1078.3,1131.8 1079.5,1159.2 1080.7,1090.5 1081.8,1118.0 1083.0,1200.4 1084.1,1131.7 1085.3,1104.2 1086.4,1172.9 1087.6,1104.2 1088.8,1172.9 1089.9,1090.4 1091.1,1131.6 1092.2,1159.1 1093.4,1214.0 1094.5,1145.3 1095.7,1172.8 1096.9,1131.6 1098.0,1186.5 1099.2,1131.5 1100.3,1159.0 1101.5,1117.8 1102.6,1117.8 1103.8,1131.5 1105.0,1131.5 1106.1,1104.0 1107.3,1186.4 1108.4,1117.7 1109.6,1131.4 1110.7,1090.2 1111.9,1145.1 1113.0,1103.9 1114.2,1213.8 1115.4,1103.9 1116.5,1131.3 1117.7,1131.3 1118.8,1117.6 1120.0,1200.0 1121.1,1158.8 1122.3,1145.0 1123.5,1158.7 1124.6,1172.5 1125.8,1117.5 1126.9,1145.0 1128.1,1158.7 1129.2,1144.9 1130.4,1103.7 1131.6,1076.2 1132.7,1103.7 1133.9,1131.1 1135.0,1199.8 1136.2,1172.3 1137.3,1186.0 1138.5,1186.0 1139.7,1103.6 1140.8,1172.3 1142.0,1089.8 1143.1,1144.8 1144.3,1144.8 1145.4,1158.5 1146.6,1199.7 1147.8,1158.5 1148.9,1117.2 1150.1,1117.2 1151.2,1144.7 1152.4,1117.2 1153.5,1144.6 1154.7,1130.9 1155.9,1062.2 1157.0,1144.6 1158.2,1213.3 1159.3,1240.7 1160.5,1172.0 1161.6,1130.8 1162.8,1103.3 1163.9,1144.5 1165.1,1144.5 1166.3,1117.0 1167.4,1185.7 1168.6,1144.5 1169.7,1130.7 1170.9,1158.2 1172.0,1185.6 1173.2,1130.7 1174.4,1103.2 1175.5,1144.4 1176.7,1240.5 1177.8,1171.8 1179.0,1158.1 1180.1,1130.6 1181.3,1158.1 1182.5,1158.0 1183.6,1116.8 1184.8,1103.1 1185.9,1144.3 1187.1,1185.5 1188.2,1199.2 1189.4,1116.8 1190.6,1171.7 1191.7,1144.2 1192.9,1157.9 1194.0,1144.2 1195.2,1130.4 1196.3,1185.3 1197.5,1171.6" fill="none" stroke="#0000ff" stroke-width="7.0" stroke-linejoin="round" stroke-linecap="round" clip-path="url(#ca)"/>
<polyline points="464.1,1110.0 465.2,1123.7 466.4,1151.2 467.6,1123.7 468.7,1110.0 469.9,1096.2 471.0,1123.7 472.2,1164.9 473.3,1151.1 474.5,1219.8 475.7,1164.8 476.8,1109.9 478.0,1123.6 479.1,1137.3 480.3,1151.0 481.4,1082.3 482.6,1123.5 483.7,1109.8 484.9,1123.5 486.1,1164.7 487.2,1082.3 488.4,1178.4 489.5,1178.4 490.7,1150.9 491.8,1164.6 493.0,1150.9 494.2,1150.9 495.3,1109.7 496.5,1137.1 497.6,1123.4 498.8,1192.0 499.9,1164.6 501.1,1095.9 502.3,1178.3 503.4,1095.8 504.6,1178.2 505.7,1123.3 506.9,1164.5 508.0,1137.0 509.2,1164.4 510.4,1150.7 511.5,1082.0 512.7,1150.7 513.8,1068.2 515.0,1150.6 516.1,1178.1 517.3,1136.9 518.5,1150.6 519.6,1081.9 520.8,1109.4 521.9,1095.6 523.1,1109.3 524.2,1054.4 525.4,1109.3 526.6,1123.0 527.7,1164.2 528.9,1164.2 530.0,1136.7 531.2,1109.2 532.3,1095.5 533.5,1164.2 534.6,1122.9 535.8,1136.7 537.0,1177.9 538.1,1122.9 539.3,1219.0 540.4,1122.9 541.6,1054.2 542.7,1177.8 543.9,1136.6 545.1,1205.2 546.2,1164.0 547.4,1109.1 548.5,1177.7 549.7,1136.5 550.8,1150.2 552.0,1150.2 553.2,1136.5 554.3,1122.7 555.5,1095.2 556.6,1108.9 557.8,1150.1 558.9,1095.2 560.1,1095.2 561.3,1191.3 562.4,1108.9 563.6,1108.9 564.7,1108.8 565.9,1122.6 567.0,1177.5 568.2,1150.0 569.4,1205.0 570.5,1136.3 571.7,1067.6 572.8,1108.8 574.0,1108.7 575.1,1149.9 576.3,1163.7 577.5,1177.4 578.6,1136.2 579.8,1163.6 580.9,1163.6 582.1,1094.9 583.2,1191.1 584.4,1177.3 585.5,1149.8 586.7,1136.1 587.9,1136.1 589.0,1177.3 590.2,1136.0 591.3,1136.0 592.5,1122.3 593.6,1177.2 594.8,1122.2 596.0,1122.2 597.1,1163.4 598.3,1149.7 599.4,1149.7 600.6,1094.7 601.7,1245.8 602.9,1190.8 604.1,1190.8 605.2,1149.6 606.4,1163.3 607.5,1149.6 608.7,1108.3 609.8,1190.7 611.0,1163.3 612.2,1149.5 613.3,1177.0 614.5,1122.0 615.6,1122.0 616.8,1163.2 617.9,1190.7 619.1,1080.7 620.3,1121.9 621.4,1121.9 622.6,1135.6 623.7,1135.6 624.9,1108.1 626.0,1135.6 627.2,1163.1 628.3,1108.1 629.5,1135.6 630.7,1163.0 631.8,1163.0 633.0,1094.3 634.1,1108.0 635.3,1066.8 636.4,1149.2 637.6,1162.9 638.8,1121.7 639.9,1094.2 641.1,1121.7 642.2,1121.7 643.4,1066.7 644.5,1162.9 645.7,1176.6 646.9,1162.8 648.0,1149.1 649.2,1121.6 650.3,1094.1 651.5,1121.6 652.6,1080.3 653.8,1162.8 655.0,1066.6 656.1,1162.7 657.3,1094.0 658.4,1162.7 659.6,1121.5 660.7,1135.2 661.9,1121.5 663.1,1107.7 664.2,1148.9 665.4,1135.1 666.5,1121.4 667.7,1176.3 668.8,1162.6 670.0,1190.0 671.2,1135.1 672.3,1066.4 673.5,1107.6 674.6,1162.5 675.8,1162.5 676.9,1107.5 678.1,1148.7 679.2,1189.9 680.4,1176.2 681.6,1176.2 682.7,1176.2 683.9,1107.5 685.0,1134.9 686.2,1189.9 687.3,1148.6 688.5,1176.1 689.7,1176.1 690.8,1189.8 692.0,1079.9 693.1,1148.6 694.3,1121.1 695.4,1107.3 696.6,1148.5 697.8,1121.0 698.9,1121.0 700.1,1121.0 701.2,1066.0 702.4,1121.0 703.5,1148.4 704.7,1107.2 705.9,1079.7 707.0,1107.2 708.2,1148.4 709.3,1162.1 710.5,1162.1 711.6,1162.1 712.8,1120.9 714.0,1107.1 715.1,1217.0 716.3,1134.6 717.4,1175.8 718.6,1107.1 719.7,1107.0 720.9,1162.0 722.1,1148.2 723.2,1161.9 724.4,1120.7 725.5,1189.4 726.7,1175.6 727.8,1161.9 729.0,1093.2 730.1,1052.0 731.3,1134.4 732.5,1175.6 733.6,1134.4 734.8,1161.8 735.9,1120.6 737.1,1175.5 738.2,1148.0 739.4,1134.3 740.6,1120.5 741.7,1134.3 742.9,1093.0 744.0,1134.2 745.2,1189.2 746.3,1106.7 747.5,1147.9 748.7,1161.6 749.8,1079.2 751.0,1161.6 752.1,1134.1 753.3,1161.6 754.4,1092.9 755.6,1147.8 756.8,1120.3 757.9,1175.3 759.1,1079.1 760.2,1175.3 761.4,1106.6 762.5,1092.8 763.7,1092.8 764.9,1079.0 766.0,1175.2 767.2,1120.2 768.3,1133.9 769.5,1120.2 770.6,1092.7 771.8,1133.9 772.9,1161.4 774.1,1133.9 775.3,1078.9 776.4,1175.1 777.6,1133.8 778.7,1161.3 779.9,1092.6 781.0,1188.7 782.2,1147.5 783.4,1133.8 784.5,1133.8 785.7,1051.3 786.8,1078.8 788.0,1174.9 789.1,1065.0 790.3,1174.9 791.5,1202.4 792.6,1188.6 793.8,1119.9 794.9,1119.9 796.1,1202.3 797.2,1119.9 798.4,1147.3 799.6,1106.1 800.7,1147.3 801.9,1106.1 803.0,1119.8 804.2,1174.7 805.3,1078.6 806.5,1119.8 807.7,1106.0 808.8,1092.3 810.0,1160.9 811.1,1133.4 812.3,1160.9 813.4,1160.9 814.6,1119.7 815.8,1119.7 816.9,1092.2 818.1,1092.2 819.2,1133.4 820.4,1160.8 821.5,1023.4 822.7,1064.6 823.8,1133.3 825.0,1160.8 826.2,1147.0 827.3,1119.5 828.5,1092.0 829.6,1105.8 830.8,1119.5 831.9,1146.9 833.1,1133.2 834.3,1146.9 835.4,1133.2 836.6,1133.1 837.7,1119.4 838.9,1201.8 840.0,1146.8 841.2,1146.8 842.4,1174.3 843.5,1133.1 844.7,1174.3 845.8,1160.5 847.0,1146.8 848.1,1146.7 849.3,1146.7 850.5,1091.8 851.6,1133.0 852.8,1119.2 853.9,1119.2 855.1,1160.4 856.2,1160.4 857.4,1105.4 858.6,1146.6 859.7,1187.8 860.9,1201.5 862.0,1119.1 863.2,1160.3 864.3,1132.8 865.5,1146.5 866.7,1146.5 867.8,1132.8 869.0,1174.0 870.1,1132.8 871.3,1105.3 872.4,1105.3 873.6,1187.7 874.7,1173.9 875.9,1173.9 877.1,1146.4 878.2,1105.2 879.4,1118.9 880.5,1187.6 881.7,1132.6 882.8,1105.1 884.0,1146.3 885.2,1063.9 886.3,1160.0 887.5,1091.3 888.6,1050.1 889.8,1173.7 890.9,1146.2 892.1,1118.8 893.3,1022.6 894.4,1187.4 895.6,1118.7 896.7,1118.7 897.9,1146.2 899.0,1159.9 900.2,1146.1 901.4,1146.1 902.5,1173.6 903.7,1077.4 904.8,1173.6 906.0,1146.1 907.1,1159.8 908.3,1146.0 909.5,1132.3 910.6,1159.8 911.8,1146.0 912.9,1077.3 914.1,1091.0 915.2,1146.0 916.4,1104.7 917.5,1159.7 918.7,1118.5 919.9,1187.1 921.0,1173.4 922.2,1159.6 923.3,1090.9 924.5,1118.4 925.6,1118.4 926.8,1132.1 928.0,1118.3 929.1,1118.3 930.3,1104.6 931.4,1132.0 932.6,1159.5 933.7,1159.5 934.9,1090.8 936.1,1090.8 937.2,1118.2 938.4,1186.9 939.5,1077.0 940.7,1118.2 941.8,1131.9 943.0,1131.9 944.2,1145.6 945.3,1076.9 946.5,1076.9 947.6,1173.1 948.8,1131.8 949.9,1118.1 951.1,1090.6 952.3,1214.2 953.4,1104.3 954.6,1076.8 955.7,1145.5 956.9,1131.7 958.0,1090.5 959.2,1118.0 960.4,1172.9 961.5,1172.9 962.7,1172.9 963.8,1186.6 965.0,1131.6 966.1,1145.4 967.3,1131.6 968.4,1104.1 969.6,1076.6 970.8,1131.6 971.9,1200.3 973.1,1090.3 974.2,1131.5 975.4,1090.3 976.5,1145.2 977.7,1117.8 978.9,1131.5 980.0,1131.5 981.2,1090.2 982.3,1158.9 983.5,1131.4 984.6,1117.7 985.8,1145.1 987.0,1200.1 988.1,1117.6 989.3,1227.5 990.4,1186.3 991.6,1145.1 992.7,1117.6 993.9,1103.8 995.1,1103.8 996.2,1117.5 997.4,1145.0 998.5,1090.0 999.7,1145.0 1000.8,1090.0 1002.0,1213.6 1003.2,1158.7 1004.3,1144.9 1005.5,1131.2 1006.6,1213.6 1007.8,1103.7 1008.9,1103.7 1010.1,1103.6 1011.3,1144.8 1012.4,1076.1 1013.6,1144.8 1014.7,1103.6 1015.9,1131.1 1017.0,1131.0 1018.2,1131.0 1019.3,1131.0 1020.5,1089.8 1021.7,1076.0 1022.8,1089.8 1024.0,1103.5 1025.1,1103.5 1026.3,1117.2 1027.4,1076.0 1028.6,1144.6 1029.8,1158.4 1030.9,1130.9 1032.1,1185.8 1033.2,1144.6 1034.4,1130.8 1035.5,1172.0 1036.7,1144.5 1037.9,1103.3 1039.0,1144.5 1040.2,1130.8 1041.3,1089.5 1042.5,1158.2 1043.6,1171.9 1044.8,1130.7 1046.0,1117.0 1047.1,1185.6 1048.3,1103.2 1049.4,1144.4 1050.6,1144.4 1051.7,1158.1 1052.9,1130.6 1054.1,1103.1 1055.2,1116.9 1056.4,1103.1 1057.5,1144.3 1058.7,1075.6 1059.8,1089.3 1061.0,1130.5 1062.1,1212.9 1063.3,1130.5 1064.5,1034.3 1065.6,1130.5 1066.8,1171.7 1067.9,1075.5 1069.1,1157.9 1070.2,1116.7 1071.4,1102.9 1072.6,1185.3 1073.7,1130.4 1074.9,1089.2 1076.0,1144.1 1077.2,1102.9 1078.3,1130.3 1079.5,1089.1 1080.7,1061.6 1081.8,1171.5 1083.0,1144.0 1084.1,1116.5 1085.3,1157.7 1086.4,1157.7 1087.6,1144.0 1088.8,1143.9 1089.9,1157.7 1091.1,1116.4 1092.2,1102.7 1093.4,1102.7 1094.5,1102.7 1095.7,1088.9 1096.9,1171.3 1098.0,1130.1 1099.2,1130.1 1100.3,1116.3 1101.5,1185.0 1102.6,1061.4 1103.8,1157.5 1105.0,1116.3 1106.1,1102.5 1107.3,1088.8 1108.4,1157.4 1109.6,1143.7 1110.7,1116.2 1111.9,1116.2 1113.0,1102.4 1114.2,1129.9 1115.4,1157.4 1116.5,1171.1 1117.7,1074.9 1118.8,1171.1 1120.0,1102.4 1121.1,1116.1 1122.3,1102.3 1123.5,1102.3 1124.6,1088.6 1125.8,1129.8 1126.9,1116.0 1128.1,1198.4 1129.2,1129.7 1130.4,1157.2 1131.6,1129.7 1132.7,1088.5 1133.9,1129.7 1135.0,1088.4 1136.2,1129.6 1137.3,1115.9 1138.5,1143.4 1139.7,1212.0 1140.8,1157.1 1142.0,1143.3 1143.1,1129.6 1144.3,1129.6 1145.4,1129.5 1146.6,1102.1 1147.8,1102.0 1148.9,1143.2 1150.1,1102.0 1151.2,1198.2 1152.4,1143.2 1153.5,1129.4 1154.7,1088.2 1155.9,1143.2 1157.0,1184.4 1158.2,1129.4 1159.3,1074.4 1160.5,1129.4 1161.6,1129.4 1162.8,1129.3 1163.9,1129.3 1165.1,1088.1 1166.3,1060.6 1167.4,1115.5 1168.6,1129.3 1169.7,1060.6 1170.9,1129.2 1172.0,1129.2 1173.2,1143.0 1174.4,1142.9 1175.5,1115.5 1176.7,1142.9 1177.8,1115.4 1179.0,1129.1 1180.1,1115.4 1181.3,1142.9 1182.5,1129.1 1183.6,1115.4 1184.8,1129.1 1185.9,1129.1 1187.1,1087.8 1188.2,1170.3 1189.4,1197.7 1190.6,1101.5 1191.7,1142.7 1192.9,1087.8 1194.0,1129.0 1195.2,1170.1 1196.3,1060.2 1197.5,1115.1" fill="none" stroke="#ff0000" stroke-width="7.0" stroke-linejoin="round" stroke-linecap="round" clip-path="url(#ca)"/>
<path d="M613.6 1415.0V1405.5M613.6 852.0V861.5M902.8 1415.0V1405.5M902.8 852.0V861.5M1192.0 1415.0V1405.5M1192.0 852.0V861.5M469.0 1415.0H478.5M1192.0 1415.0H1182.5M469.0 1268.6H478.5M1192.0 1268.6H1182.5M469.0 1218.0H478.5M1192.0 1218.0H1182.5M469.0 1133.5H478.5M1192.0 1133.5H1182.5M469.0 1049.0H478.5M1192.0 1049.0H1182.5M469.0 852.0H478.5M1192.0 852.0H1182.5" stroke="#262626" stroke-width="2.2" fill="none"/>
<rect x="469.0" y="852.0" width="723.0" height="563.0" fill="none" stroke="#262626" stroke-width="2.2"/>
<g font-size="64" fill="#262626"><text x="613.6" y="1495.0" text-anchor="middle">2</text><text x="902.8" y="1495.0" text-anchor="middle">3</text><text x="1192.0" y="1495.0" text-anchor="middle">4</text><text x="448.5" y="1437.5" text-anchor="end">950</text><text x="448.5" y="1291.1" text-anchor="end">976</text><text x="448.5" y="1240.5" text-anchor="end">985</text><text x="448.5" y="1156.0" text-anchor="end">1000</text><text x="448.5" y="1071.5" text-anchor="end">1015</text><text x="448.5" y="874.5" text-anchor="end">1050</text></g>
<path d="M1684.9 854.5V1415.0M1961.0 854.5V1415.0M1408.7 1228.2H2237.2M1408.7 1116.1H2237.2M1408.7 1041.3H2237.2M1408.7 985.3H2237.2" stroke="#e3e3e3" stroke-width="2" fill="none"/>
<polyline points="1404.0,1153.3 1405.1,1116.8 1406.2,1180.7 1407.3,1153.3 1408.4,1135.1 1409.5,1171.6 1410.6,1171.6 1411.7,1126.1 1412.8,1153.4 1413.9,1171.7 1415.1,1162.6 1416.2,1162.6 1417.3,1171.8 1418.4,1135.3 1419.5,1180.9 1420.6,1190.1 1421.7,1144.5 1422.8,1144.5 1423.9,1117.2 1425.0,1181.0 1426.1,1162.8 1427.2,1126.4 1428.3,1135.5 1429.4,1162.9 1430.5,1172.0 1431.6,1126.5 1432.7,1144.7 1433.8,1172.1 1434.9,1163.0 1436.0,1153.9 1437.1,1126.6 1438.2,1217.8 1439.4,1163.1 1440.5,1117.5 1441.6,1199.6 1442.7,1154.1 1443.8,1126.7 1444.9,1190.6 1446.0,1163.2 1447.1,1172.4 1448.2,1145.1 1449.3,1163.3 1450.4,1181.6 1451.5,1145.1 1452.6,1145.1 1453.7,1126.9 1454.8,1163.4 1455.9,1154.3 1457.0,1163.5 1458.1,1117.9 1459.2,1117.9 1460.3,1172.7 1461.4,1209.1 1462.6,1108.9 1463.7,1200.1 1464.8,1200.1 1465.9,1163.7 1467.0,1109.0 1468.1,1127.2 1469.2,1154.6 1470.3,1136.4 1471.4,1154.6 1472.5,1127.3 1473.6,1163.8 1474.7,1109.1 1475.8,1136.5 1476.9,1163.9 1478.0,1200.4 1479.1,1127.5 1480.2,1136.6 1481.3,1173.1 1482.4,1173.1 1483.5,1164.0 1484.6,1154.9 1485.8,1154.9 1486.9,1145.8 1488.0,1145.9 1489.1,1164.1 1490.2,1100.3 1491.3,1155.1 1492.4,1164.2 1493.5,1136.9 1494.6,1173.4 1495.7,1136.9 1496.8,1146.1 1497.9,1127.8 1499.0,1173.5 1500.1,1200.8 1501.2,1118.8 1502.3,1155.3 1503.4,1109.7 1504.5,1137.1 1505.6,1164.5 1506.7,1137.1 1507.8,1182.8 1508.9,1173.7 1510.1,1146.3 1511.2,1146.3 1512.3,1201.1 1513.4,1128.2 1514.5,1137.3 1515.6,1128.2 1516.7,1192.0 1517.8,1137.4 1518.9,1164.7 1520.0,1164.8 1521.1,1128.3 1522.2,1146.6 1523.3,1137.5 1524.4,1128.4 1525.5,1119.3 1526.6,1174.0 1527.7,1174.0 1528.8,1137.6 1529.9,1137.6 1531.0,1165.0 1532.1,1137.7 1533.3,1174.2 1534.4,1155.9 1535.5,1146.8 1536.6,1137.8 1537.7,1128.7 1538.8,1156.0 1539.9,1146.9 1541.0,1174.3 1542.1,1128.7 1543.2,1137.9 1544.3,1156.1 1545.4,1101.5 1546.5,1147.1 1547.6,1147.1 1548.7,1156.2 1549.8,1138.0 1550.9,1138.0 1552.0,1165.4 1553.1,1138.1 1554.2,1119.9 1555.3,1110.8 1556.4,1129.0 1557.6,1147.3 1558.7,1165.6 1559.8,1129.1 1560.9,1120.0 1562.0,1092.7 1563.1,1147.4 1564.2,1174.8 1565.3,1165.7 1566.4,1138.4 1567.5,1129.3 1568.6,1165.8 1569.7,1174.9 1570.8,1193.2 1571.9,1129.4 1573.0,1184.1 1574.1,1129.4 1575.2,1147.7 1576.3,1202.4 1577.4,1175.1 1578.5,1120.4 1579.6,1147.8 1580.8,1147.8 1581.9,1120.4 1583.0,1147.8 1584.1,1147.8 1585.2,1147.9 1586.3,1147.9 1587.4,1120.6 1588.5,1157.1 1589.6,1120.6 1590.7,1111.5 1591.8,1157.1 1592.9,1138.9 1594.0,1175.4 1595.1,1148.1 1596.2,1120.7 1597.3,1129.9 1598.4,1157.3 1599.5,1129.9 1600.6,1139.1 1601.7,1148.2 1602.8,1139.1 1603.9,1102.7 1605.1,1221.2 1606.2,1166.5 1607.3,1130.1 1608.4,1148.3 1609.5,1139.3 1610.6,1139.3 1611.7,1148.4 1612.8,1148.4 1613.9,1166.7 1615.0,1148.5 1616.1,1130.3 1617.2,1121.2 1618.3,1139.4 1619.4,1157.7 1620.5,1157.7 1621.6,1194.2 1622.7,1148.6 1623.8,1176.0 1624.9,1166.9 1626.0,1157.8 1627.1,1148.7 1628.3,1148.8 1629.4,1148.8 1630.5,1176.2 1631.6,1157.9 1632.7,1130.6 1633.8,1148.9 1634.9,1139.8 1636.0,1148.9 1637.1,1112.5 1638.2,1112.5 1639.3,1094.3 1640.4,1158.1 1641.5,1130.8 1642.6,1185.5 1643.7,1130.8 1644.8,1140.0 1645.9,1158.2 1647.0,1112.7 1648.1,1140.0 1649.2,1194.8 1650.3,1112.7 1651.5,1149.2 1652.6,1131.0 1653.7,1167.5 1654.8,1167.5 1655.9,1176.7 1657.0,1176.7 1658.1,1131.1 1659.2,1131.2 1660.3,1195.0 1661.4,1149.4 1662.5,1149.5 1663.6,1167.7 1664.7,1140.4 1665.8,1167.8 1666.9,1131.3 1668.0,1158.7 1669.1,1140.5 1670.2,1240.8 1671.3,1158.8 1672.4,1149.7 1673.5,1167.9 1674.6,1158.8 1675.8,1177.1 1676.9,1131.5 1678.0,1177.1 1679.1,1158.9 1680.2,1122.5 1681.3,1122.5 1682.4,1149.9 1683.5,1186.4 1684.6,1204.6 1685.7,1140.8 1686.8,1150.0 1687.9,1159.1 1689.0,1159.1 1690.1,1104.4 1691.2,1131.8 1692.3,1150.1 1693.4,1159.2 1694.5,1159.2 1695.6,1141.0 1696.7,1159.3 1697.8,1150.2 1699.0,1168.4 1700.1,1132.0 1701.2,1150.3 1702.3,1186.7 1703.4,1086.5 1704.5,1141.2 1705.6,1168.6 1706.7,1186.8 1707.8,1150.4 1708.9,1168.6 1710.0,1114.0 1711.1,1141.3 1712.2,1168.7 1713.3,1205.2 1714.4,1132.3 1715.5,1196.1 1716.6,1141.5 1717.7,1150.6 1718.8,1232.7 1719.9,1159.8 1721.0,1114.2 1722.1,1178.0 1723.3,1214.5 1724.4,1205.4 1725.5,1150.8 1726.6,1141.7 1727.7,1132.6 1728.8,1141.7 1729.9,1178.2 1731.0,1169.1 1732.1,1160.0 1733.2,1160.0 1734.3,1187.4 1735.4,1141.8 1736.5,1132.7 1737.6,1160.1 1738.7,1151.0 1739.8,1187.5 1740.9,1151.1 1742.0,1178.4 1743.1,1178.5 1744.2,1132.9 1745.3,1151.2 1746.5,1169.4 1747.6,1196.8 1748.7,1151.2 1749.8,1114.8 1750.9,1142.2 1752.0,1151.3 1753.1,1124.0 1754.2,1105.8 1755.3,1142.3 1756.4,1133.2 1757.5,1142.3 1758.6,1142.3 1759.7,1142.3 1760.8,1124.1 1761.9,1160.6 1763.0,1142.4 1764.1,1142.4 1765.2,1151.6 1766.3,1169.8 1767.4,1133.4 1768.5,1160.8 1769.6,1197.3 1770.8,1133.5 1771.9,1188.2 1773.0,1133.5 1774.1,1224.7 1775.2,1151.8 1776.3,1115.3 1777.4,1151.8 1778.5,1124.5 1779.6,1161.0 1780.7,1170.1 1781.8,1161.0 1782.9,1133.7 1784.0,1124.6 1785.1,1115.5 1786.2,1133.8 1787.3,1152.0 1788.4,1206.8 1789.5,1170.3 1790.6,1115.6 1791.7,1197.7 1792.8,1143.0 1794.0,1143.0 1795.1,1197.8 1796.2,1143.1 1797.3,1161.3 1798.4,1143.1 1799.5,1152.3 1800.6,1161.4 1801.7,1179.7 1802.8,1207.1 1803.9,1115.9 1805.0,1179.7 1806.1,1161.5 1807.2,1161.6 1808.3,1161.6 1809.4,1170.7 1810.5,1143.4 1811.6,1152.5 1812.7,1161.7 1813.8,1170.8 1814.9,1143.5 1816.0,1180.0 1817.2,1143.5 1818.3,1125.3 1819.4,1125.3 1820.5,1143.6 1821.6,1198.3 1822.7,1134.5 1823.8,1143.7 1824.9,1125.4 1826.0,1171.1 1827.1,1162.0 1828.2,1116.4 1829.3,1171.1 1830.4,1125.6 1831.5,1143.8 1832.6,1225.9 1833.7,1162.1 1834.8,1162.1 1835.9,1189.5 1837.0,1207.8 1838.1,1153.1 1839.2,1180.4 1840.3,1171.4 1841.5,1180.5 1842.6,1162.3 1843.7,1144.1 1844.8,1135.0 1845.9,1144.1 1847.0,1162.4 1848.1,1153.3 1849.2,1135.1 1850.3,1126.0 1851.4,1153.3 1852.5,1189.8 1853.6,1144.3 1854.7,1135.2 1855.8,1162.6 1856.9,1126.1 1858.0,1162.6 1859.1,1153.5 1860.2,1144.4 1861.3,1117.1 1862.4,1190.0 1863.5,1144.5 1864.7,1135.4 1865.8,1153.6 1866.9,1126.3 1868.0,1171.9 1869.1,1190.2 1870.2,1190.2 1871.3,1172.0 1872.4,1181.1 1873.5,1144.7 1874.6,1153.8 1875.7,1199.4 1876.8,1117.4 1877.9,1144.8 1879.0,1199.5 1880.1,1208.6 1881.2,1154.0 1882.3,1126.6 1883.4,1163.1 1884.5,1135.8 1885.6,1117.6 1886.7,1135.8 1887.8,1163.2 1889.0,1190.6 1890.1,1172.4 1891.2,1126.8 1892.3,1154.2 1893.4,1181.6 1894.5,1163.3 1895.6,1154.3 1896.7,1126.9 1897.8,1172.5 1898.9,1108.7 1900.0,1145.2 1901.1,1145.3 1902.2,1181.7 1903.3,1145.3 1904.4,1145.3 1905.5,1136.2 1906.6,1172.7 1907.7,1145.4 1908.8,1200.1 1909.9,1181.9 1911.0,1099.9 1912.2,1163.7 1913.3,1172.9 1914.4,1136.4 1915.5,1154.7 1916.6,1100.0 1917.7,1154.7 1918.8,1136.5 1919.9,1163.9 1921.0,1127.4 1922.1,1154.8 1923.2,1091.0 1924.3,1173.1 1925.4,1145.8 1926.5,1136.7 1927.6,1191.4 1928.7,1173.2 1929.8,1173.2 1930.9,1200.6 1932.0,1145.9 1933.1,1237.1 1934.2,1191.5 1935.3,1191.5 1936.5,1146.0 1937.6,1155.1 1938.7,1127.8 1939.8,1127.8 1940.9,1155.2 1942.0,1182.6 1943.1,1137.0 1944.2,1173.5 1945.3,1164.4 1946.4,1155.3 1947.5,1118.9 1948.6,1100.6 1949.7,1128.0 1950.8,1164.5 1951.9,1137.2 1953.0,1128.1 1954.1,1182.8 1955.2,1155.5 1956.3,1173.7 1957.4,1173.8 1958.5,1155.5 1959.7,1155.6 1960.8,1173.8 1961.9,1155.6 1963.0,1192.1 1964.1,1155.7 1965.2,1155.7 1966.3,1164.8 1967.4,1201.3 1968.5,1174.0 1969.6,1146.7 1970.7,1137.6 1971.8,1137.6 1972.9,1128.5 1974.0,1119.4 1975.1,1165.0 1976.2,1128.6 1977.3,1183.3 1978.4,1119.5 1979.5,1137.7 1980.6,1183.4 1981.7,1137.8 1982.9,1137.8 1984.0,1183.4 1985.1,1147.0 1986.2,1137.9 1987.3,1110.6 1988.4,1174.4 1989.5,1119.7 1990.6,1183.6 1991.7,1183.6 1992.8,1128.9 1993.9,1138.0 1995.0,1174.5 1996.1,1119.9 1997.2,1147.2 1998.3,1147.2 1999.4,1165.5 2000.5,1229.4 2001.6,1156.4 2002.7,1138.2 2003.8,1156.5 2004.9,1138.3 2006.0,1156.5 2007.2,1129.2 2008.3,1238.6 2009.4,1147.5 2010.5,1184.0 2011.6,1147.5 2012.7,1138.4 2013.8,1129.3 2014.9,1138.5 2016.0,1129.4 2017.1,1184.1 2018.2,1156.8 2019.3,1220.6 2020.4,1147.7 2021.5,1202.4 2022.6,1129.5 2023.7,1147.8 2024.8,1166.0 2025.9,1175.2 2027.0,1157.0 2028.1,1175.2 2029.2,1202.6 2030.4,1147.9 2031.5,1184.4 2032.6,1148.0 2033.7,1184.4 2034.8,1193.6 2035.9,1111.6 2037.0,1148.0 2038.1,1129.8 2039.2,1166.3 2040.3,1157.2 2041.4,1157.3 2042.5,1111.7 2043.6,1139.1 2044.7,1157.3 2045.8,1157.3 2046.9,1157.4 2048.0,1130.0 2049.1,1157.4 2050.2,1157.4 2051.3,1130.1 2052.4,1139.2 2053.5,1139.3 2054.7,1111.9 2055.8,1157.5 2056.9,1194.0 2058.0,1203.2 2059.1,1157.6 2060.2,1148.5 2061.3,1139.4 2062.4,1203.3 2063.5,1194.2 2064.6,1166.8 2065.7,1166.9 2066.8,1203.4 2067.9,1166.9 2069.0,1139.6 2070.1,1167.0 2071.2,1103.2 2072.3,1139.7 2073.4,1185.3 2074.5,1167.1 2075.6,1203.5 2076.7,1112.4 2077.9,1167.1 2079.0,1167.1 2080.1,1139.8 2081.2,1167.2 2082.3,1176.3 2083.4,1158.1 2084.5,1139.9 2085.6,1139.9 2086.7,1203.8 2087.8,1212.9 2088.9,1149.1 2090.0,1167.4 2091.1,1176.5 2092.2,1140.1 2093.3,1149.2 2094.4,1176.6 2095.5,1149.2 2096.6,1185.7 2097.7,1176.6 2098.8,1122.0 2099.9,1167.6 2101.0,1149.4 2102.2,1167.6 2103.3,1167.6 2104.4,1195.0 2105.5,1195.0 2106.6,1131.2 2107.7,1113.0 2108.8,1140.4 2109.9,1149.5 2111.0,1176.9 2112.1,1158.7 2113.2,1122.3 2114.3,1104.0 2115.4,1140.5 2116.5,1149.7 2117.6,1131.5 2118.7,1158.8 2119.8,1177.1 2120.9,1186.2 2122.0,1168.0 2123.1,1168.1 2124.2,1231.9 2125.4,1213.7 2126.5,1140.8 2127.6,1140.8 2128.7,1140.8 2129.8,1168.2 2130.9,1177.3 2132.0,1159.1 2133.1,1150.0 2134.2,1177.4 2135.3,1131.8 2136.4,1177.4 2137.5,1232.2 2138.6,1141.0 2139.7,1141.0 2140.8,1168.4 2141.9,1132.0 2143.0,1132.0 2144.1,1241.4 2145.2,1150.3 2146.3,1195.9 2147.4,1141.2 2148.6,1150.3 2149.7,1141.2 2150.8,1168.6 2151.9,1177.8 2153.0,1150.4 2154.1,1104.9 2155.2,1150.5 2156.3,1187.0 2157.4,1159.6 2158.5,1168.8 2159.6,1132.3 2160.7,1159.7 2161.8,1168.8 2162.9,1159.8 2164.0,1178.0 2165.1,1150.7 2166.2,1196.3 2167.3,1169.0 2168.4,1150.7 2169.5,1196.4 2170.6,1196.4 2171.7,1178.2 2172.9,1123.5 2174.0,1141.7 2175.1,1160.0 2176.2,1132.7 2177.3,1141.8 2178.4,1178.3 2179.5,1196.6 2180.6,1132.8 2181.7,1178.4 2182.8,1141.9 2183.9,1205.8 2185.0,1160.2 2186.1,1196.7 2187.2,1142.0 2188.3,1142.0 2189.4,1151.2 2190.5,1142.1 2191.6,1178.6 2192.7,1151.2 2193.8,1142.2 2194.9,1187.8 2196.1,1142.2 2197.2,1151.3 2198.3,1151.4 2199.4,1169.6 2200.5,1160.5 2201.6,1151.4 2202.7,1160.6 2203.8,1142.4 2204.9,1197.1 2206.0,1142.4 2207.1,1178.9 2208.2,1133.3 2209.3,1206.3 2210.4,1179.0 2211.5,1151.6 2212.6,1151.7 2213.7,1169.9 2214.8,1188.2 2215.9,1142.6 2217.0,1133.5 2218.1,1188.2 2219.2,1197.4 2220.4,1179.2 2221.5,1161.0 2222.6,1215.7 2223.7,1188.4 2224.8,1142.8 2225.9,1188.4 2227.0,1188.4 2228.1,1124.6 2229.2,1133.8 2230.3,1124.7 2231.4,1161.2 2232.5,1161.2 2233.6,1170.3 2234.7,1206.8 2235.8,1225.1 2236.9,1161.3 2238.0,1179.5 2239.1,1143.1 2240.2,1143.1 2241.3,1207.0 2242.4,1197.9" fill="none" stroke="#0000ff" stroke-width="7.0" stroke-linejoin="round" stroke-linecap="round" clip-path="url(#cb)"/>
<polyline points="1404.0,1048.9 1405.1,1076.3 1406.2,1076.3 1407.3,1076.3 1408.4,1030.7 1409.5,1058.1 1410.6,1067.2 1411.7,1076.3 1412.8,1076.4 1413.9,1076.4 1415.1,1067.3 1416.2,1085.5 1417.3,1085.5 1418.4,1112.9 1419.5,1058.2 1420.6,1040.0 1421.7,1067.4 1422.8,1012.7 1423.9,1076.5 1425.0,1058.3 1426.1,1021.8 1427.2,1049.2 1428.3,1076.5 1429.4,1049.2 1430.5,1067.5 1431.6,1021.9 1432.7,1031.0 1433.8,1067.5 1434.9,1040.2 1436.0,1003.7 1437.1,1021.9 1438.2,1031.1 1439.4,1067.6 1440.5,1076.7 1441.6,1076.7 1442.7,1031.1 1443.8,1085.8 1444.9,1049.4 1446.0,1012.9 1447.1,1095.0 1448.2,1049.4 1449.3,1085.9 1450.4,1058.6 1451.5,1040.4 1452.6,1086.0 1453.7,1095.1 1454.8,1067.7 1455.9,1049.5 1457.0,1067.8 1458.1,1086.0 1459.2,1040.4 1460.3,1086.0 1461.4,1095.2 1462.6,1058.7 1463.7,994.9 1464.8,1067.9 1465.9,1058.8 1467.0,1086.1 1468.1,1077.0 1469.2,1086.1 1470.3,1049.7 1471.4,1077.0 1472.5,1077.1 1473.6,1031.5 1474.7,1095.3 1475.8,1031.5 1476.9,1068.0 1478.0,1077.1 1479.1,1058.9 1480.2,1068.0 1481.3,1049.8 1482.4,1068.1 1483.5,1004.2 1484.6,1022.5 1485.8,1022.5 1486.9,1086.3 1488.0,1068.1 1489.1,1022.5 1490.2,1040.8 1491.3,1059.0 1492.4,1059.0 1493.5,1022.6 1494.6,1104.7 1495.7,1077.3 1496.8,1095.6 1497.9,1022.6 1499.0,1095.6 1500.1,1068.2 1501.2,1013.6 1502.3,1068.3 1503.4,1050.0 1504.5,1059.2 1505.6,1041.0 1506.7,986.3 1507.8,1086.6 1508.9,1059.2 1510.1,1004.5 1511.2,986.3 1512.3,1068.4 1513.4,1013.7 1514.5,1041.0 1515.6,1041.1 1516.7,1095.8 1517.8,1095.8 1518.9,1059.3 1520.0,1059.3 1521.1,1059.3 1522.2,1086.7 1523.3,1013.8 1524.4,1068.5 1525.5,977.3 1526.6,1068.5 1527.7,1050.3 1528.8,1032.1 1529.9,1068.6 1531.0,1086.8 1532.1,1077.7 1533.3,1059.5 1534.4,1068.6 1535.5,995.7 1536.6,1068.6 1537.7,1032.2 1538.8,1032.2 1539.9,1050.4 1541.0,1086.9 1542.1,1041.3 1543.2,1032.2 1544.3,1050.5 1545.4,1059.6 1546.5,1114.3 1547.6,1087.0 1548.7,1059.6 1549.8,1050.5 1550.9,1032.3 1552.0,1068.8 1553.1,1050.6 1554.2,1087.0 1555.3,1041.5 1556.4,1032.4 1557.6,1059.7 1558.7,1032.4 1559.8,1068.9 1560.9,1068.9 1562.0,1068.9 1563.1,995.9 1564.2,1096.2 1565.3,1050.7 1566.4,1068.9 1567.5,1059.8 1568.6,1096.3 1569.7,1032.5 1570.8,1041.6 1571.9,1069.0 1573.0,1069.0 1574.1,1059.9 1575.2,1032.5 1576.3,1096.4 1577.4,1014.3 1578.5,1069.0 1579.6,1032.6 1580.8,1078.2 1581.9,996.1 1583.0,1050.8 1584.1,1005.3 1585.2,1078.2 1586.3,1078.2 1587.4,1023.5 1588.5,1032.7 1589.6,1050.9 1590.7,1023.6 1591.8,1041.8 1592.9,1069.2 1594.0,1105.6 1595.1,1114.8 1596.2,1041.8 1597.3,1041.9 1598.4,1078.3 1599.5,1041.9 1600.6,1060.1 1601.7,1060.1 1602.8,1023.7 1603.9,1096.6 1605.1,1051.0 1606.2,1041.9 1607.3,1060.2 1608.4,1051.1 1609.5,1087.6 1610.6,1051.1 1611.7,1042.0 1612.8,1032.9 1613.9,1078.5 1615.0,1032.9 1616.1,1051.1 1617.2,1032.9 1618.3,1060.3 1619.4,1042.1 1620.5,1051.2 1621.6,978.2 1622.7,1069.4 1623.8,1023.9 1624.9,1060.3 1626.0,1096.8 1627.1,1042.1 1628.3,1023.9 1629.4,1033.0 1630.5,1033.0 1631.6,1078.6 1632.7,1051.3 1633.8,1087.8 1634.9,1005.7 1636.0,1005.7 1637.1,1087.8 1638.2,1069.6 1639.3,1087.8 1640.4,1078.7 1641.5,1069.6 1642.6,1087.8 1643.7,1069.6 1644.8,1042.3 1645.9,1069.6 1647.0,1033.2 1648.1,1060.5 1649.2,1060.5 1650.3,1087.9 1651.5,1033.2 1652.6,1087.9 1653.7,1069.7 1654.8,1087.9 1655.9,1042.4 1657.0,1088.0 1658.1,1042.4 1659.2,996.8 1660.3,1051.5 1661.4,1115.3 1662.5,1024.2 1663.6,1051.5 1664.7,1042.4 1665.8,1042.4 1666.9,1024.2 1668.0,1024.2 1669.1,1060.7 1670.2,1088.1 1671.3,1060.7 1672.4,1033.4 1673.5,1106.3 1674.6,1051.6 1675.8,1106.3 1676.9,1024.3 1678.0,997.0 1679.1,1033.4 1680.2,1069.9 1681.3,1033.4 1682.4,1015.2 1683.5,1006.1 1684.6,1015.2 1685.7,1024.4 1686.8,1079.1 1687.9,1060.9 1689.0,1042.6 1690.1,1060.9 1691.2,1106.5 1692.3,1060.9 1693.4,1079.1 1694.5,1051.8 1695.6,1051.8 1696.7,1097.4 1697.8,1079.2 1699.0,1051.8 1700.1,1088.3 1701.2,1061.0 1702.3,1079.2 1703.4,1079.2 1704.5,1033.6 1705.6,1061.0 1706.7,1070.1 1707.8,1006.3 1708.9,1070.1 1710.0,1061.0 1711.1,1061.0 1712.2,960.7 1713.3,1042.8 1714.4,1033.7 1715.5,1070.2 1716.6,1033.7 1717.7,1024.6 1718.8,1088.4 1719.9,1042.9 1721.0,1006.4 1722.1,997.3 1723.3,1052.0 1724.4,988.2 1725.5,1079.4 1726.6,1024.7 1727.7,1042.9 1728.8,1088.5 1729.9,1024.7 1731.0,1088.5 1732.1,1079.4 1733.2,1061.2 1734.3,1088.6 1735.4,1024.7 1736.5,1070.3 1737.6,1088.6 1738.7,1052.1 1739.8,1061.2 1740.9,1088.6 1742.0,1070.4 1743.1,1033.9 1744.2,1033.9 1745.3,1097.8 1746.5,1024.8 1747.6,1024.8 1748.7,1024.8 1749.8,1070.4 1750.9,1079.6 1752.0,1061.3 1753.1,1070.5 1754.2,1061.3 1755.3,1070.5 1756.4,1070.5 1757.5,1070.5 1758.6,1061.4 1759.7,1052.3 1760.8,1061.4 1761.9,1070.5 1763.0,1006.7 1764.1,1024.9 1765.2,1043.2 1766.3,1079.7 1767.4,1043.2 1768.5,1061.4 1769.6,1043.2 1770.8,1052.3 1771.9,979.4 1773.0,1061.5 1774.1,1079.7 1775.2,1025.0 1776.3,1025.0 1777.4,1015.9 1778.5,1125.3 1779.6,1079.8 1780.7,1079.8 1781.8,1098.0 1782.9,1052.4 1784.0,1034.2 1785.1,1025.1 1786.2,1034.2 1787.3,1061.6 1788.4,1006.9 1789.5,1052.5 1790.6,1125.4 1791.7,1070.7 1792.8,1079.8 1794.0,1052.5 1795.1,1070.7 1796.2,1070.8 1797.3,1016.1 1798.4,1079.9 1799.5,1098.1 1800.6,1052.5 1801.7,1043.4 1802.8,1061.7 1803.9,1061.7 1805.0,1079.9 1806.1,1089.0 1807.2,1079.9 1808.3,1089.1 1809.4,1025.2 1810.5,1070.8 1811.6,1016.1 1812.7,1061.7 1813.8,1080.0 1814.9,1052.6 1816.0,1052.6 1817.2,1016.2 1818.3,1107.4 1819.4,1070.9 1820.5,1052.7 1821.6,1080.0 1822.7,1061.8 1823.8,1070.9 1824.9,1016.2 1826.0,1025.4 1827.1,1107.4 1828.2,1098.3 1829.3,1080.1 1830.4,1061.9 1831.5,1061.9 1832.6,1071.0 1833.7,1043.6 1834.8,1034.5 1835.9,1061.9 1837.0,1071.0 1838.1,1061.9 1839.2,1080.1 1840.3,1034.6 1841.5,1034.6 1842.6,1080.2 1843.7,1016.3 1844.8,1061.9 1845.9,1034.6 1847.0,1062.0 1848.1,1071.1 1849.2,1043.7 1850.3,1089.3 1851.4,1071.1 1852.5,1089.3 1853.6,1043.8 1854.7,1071.1 1855.8,1071.1 1856.9,1071.1 1858.0,1043.8 1859.1,1052.9 1860.2,1071.1 1861.3,1071.2 1862.4,1007.3 1863.5,1016.5 1864.7,1089.4 1865.8,1025.6 1866.9,1043.8 1868.0,1053.0 1869.1,1053.0 1870.2,1098.6 1871.3,980.0 1872.4,998.3 1873.5,1062.1 1874.6,1062.1 1875.7,1053.0 1876.8,1080.4 1877.9,1043.9 1879.0,1062.1 1880.1,1089.5 1881.2,1071.3 1882.3,1080.4 1883.4,1080.4 1884.5,1071.3 1885.6,1043.9 1886.7,1071.3 1887.8,1098.7 1889.0,1016.6 1890.1,1080.4 1891.2,1016.6 1892.3,1053.1 1893.4,1044.0 1894.5,1080.5 1895.6,1062.2 1896.7,1071.4 1897.8,1062.2 1898.9,1044.0 1900.0,1071.4 1901.1,1034.9 1902.2,1098.7 1903.3,1089.6 1904.4,1053.2 1905.5,1044.1 1906.6,1025.8 1907.7,1007.6 1908.8,1053.2 1909.9,1035.0 1911.0,1053.2 1912.2,1062.3 1913.3,1062.3 1914.4,1062.3 1915.5,1071.5 1916.6,1062.3 1917.7,1035.0 1918.8,1044.1 1919.9,1025.9 1921.0,1071.5 1922.1,1071.5 1923.2,1053.3 1924.3,1080.6 1925.4,1080.6 1926.5,1044.2 1927.6,1071.5 1928.7,1035.1 1929.8,1062.4 1930.9,1071.5 1932.0,1089.8 1933.1,1026.0 1934.2,1062.4 1935.3,1080.7 1936.5,1098.9 1937.6,1089.8 1938.7,1071.6 1939.8,1026.0 1940.9,1080.7 1942.0,1053.4 1943.1,1053.4 1944.2,1135.4 1945.3,1089.9 1946.4,1035.2 1947.5,1108.1 1948.6,1026.0 1949.7,1062.5 1950.8,1108.1 1951.9,1007.8 1953.0,1071.7 1954.1,1017.0 1955.2,1062.6 1956.3,1080.8 1957.4,1026.1 1958.5,1007.9 1959.7,1026.1 1960.8,1089.9 1961.9,1044.3 1963.0,1089.9 1964.1,1080.8 1965.2,1026.1 1966.3,1099.1 1967.4,989.7 1968.5,1099.1 1969.6,1099.1 1970.7,1044.4 1971.8,1071.8 1972.9,1071.8 1974.0,1090.0 1975.1,1044.4 1976.2,1062.7 1977.3,1062.7 1978.4,1080.9 1979.5,1099.1 1980.6,1062.7 1981.7,1117.4 1982.9,1080.9 1984.0,1044.5 1985.1,1044.5 1986.2,1071.8 1987.3,1126.5 1988.4,1044.5 1989.5,1035.4 1990.6,1062.7 1991.7,1026.3 1992.8,1035.4 1993.9,1108.3 1995.0,1071.9 1996.1,1081.0 1997.2,1017.2 1998.3,1035.4 1999.4,1062.8 2000.5,1044.5 2001.6,1035.4 2002.7,1081.0 2003.8,1071.9 2004.9,1071.9 2006.0,1071.9 2007.2,1071.9 2008.3,1062.8 2009.4,1099.3 2010.5,1090.2 2011.6,1044.6 2012.7,1017.2 2013.8,1008.1 2014.9,1108.4 2016.0,1053.7 2017.1,1081.1 2018.2,1081.1 2019.3,1072.0 2020.4,1053.7 2021.5,1044.6 2022.6,1126.7 2023.7,1081.1 2024.8,1035.5 2025.9,1062.9 2027.0,1099.4 2028.1,1090.3 2029.2,1081.1 2030.4,1035.6 2031.5,1008.2 2032.6,1090.3 2033.7,1053.8 2034.8,1072.0 2035.9,1044.7 2037.0,1072.1 2038.1,1090.3 2039.2,1081.2 2040.3,1081.2 2041.4,1017.4 2042.5,1081.2 2043.6,1044.7 2044.7,1090.3 2045.8,1081.2 2046.9,1063.0 2048.0,1081.2 2049.1,1008.3 2050.2,1026.5 2051.3,1090.4 2052.4,1053.9 2053.5,1017.4 2054.7,1090.4 2055.8,1072.1 2056.9,1017.4 2058.0,1081.3 2059.1,1044.8 2060.2,1072.2 2061.3,1063.0 2062.4,1090.4 2063.5,1072.2 2064.6,1072.2 2065.7,1008.4 2066.8,1044.8 2067.9,1063.1 2069.0,1063.1 2070.1,1044.8 2071.2,1108.7 2072.3,1090.4 2073.4,1090.4 2074.5,1081.3 2075.6,1108.7 2076.7,1054.0 2077.9,1081.3 2079.0,1026.6 2080.1,1072.2 2081.2,1072.2 2082.3,1054.0 2083.4,1054.0 2084.5,1072.3 2085.6,1044.9 2086.7,1026.7 2087.8,1081.4 2088.9,1026.7 2090.0,1072.3 2091.1,1035.8 2092.2,1072.3 2093.3,1072.3 2094.4,1054.1 2095.5,1090.5 2096.6,1108.8 2097.7,1063.2 2098.8,1072.3 2099.9,1090.6 2101.0,999.4 2102.2,1054.1 2103.3,1081.5 2104.4,1054.1 2105.5,1054.1 2106.6,1072.3 2107.7,1072.4 2108.8,1108.8 2109.9,1063.2 2111.0,1008.5 2112.1,1026.8 2113.2,1035.9 2114.3,1081.5 2115.4,1090.6 2116.5,1035.9 2117.6,1054.2 2118.7,1072.4 2119.8,1072.4 2120.9,1035.9 2122.0,1045.1 2123.1,1081.5 2124.2,1072.4 2125.4,1108.9 2126.5,1090.7 2127.6,1054.2 2128.7,1081.5 2129.8,1090.7 2130.9,1063.3 2132.0,1026.9 2133.1,1090.7 2134.2,1072.5 2135.3,1072.5 2136.4,990.4 2137.5,1036.0 2138.6,1063.4 2139.7,1099.8 2140.8,1045.1 2141.9,1054.2 2143.0,1072.5 2144.1,1081.6 2145.2,1081.6 2146.3,1109.0 2147.4,1072.5 2148.6,1081.6 2149.7,1090.7 2150.8,1072.5 2151.9,1099.9 2153.0,1036.1 2154.1,1072.5 2155.2,1090.8 2156.3,1045.2 2157.4,1054.3 2158.5,1081.7 2159.6,1099.9 2160.7,1072.5 2161.8,1054.3 2162.9,1045.2 2164.0,1036.1 2165.1,1045.2 2166.2,1099.9 2167.3,1063.5 2168.4,1109.0 2169.5,1036.1 2170.6,1054.4 2171.7,1036.1 2172.9,1063.5 2174.0,1063.5 2175.1,1081.7 2176.2,1136.4 2177.3,1072.6 2178.4,990.6 2179.5,1027.0 2180.6,1072.6 2181.7,1054.4 2182.8,1054.4 2183.9,1081.7 2185.0,1063.5 2186.1,1054.4 2187.2,1081.8 2188.3,1054.4 2189.4,1027.1 2190.5,1045.3 2191.6,1063.5 2192.7,1072.7 2193.8,1045.3 2194.9,1081.8 2196.1,1081.8 2197.2,1027.1 2198.3,1072.7 2199.4,1100.0 2200.5,1045.3 2201.6,1045.3 2202.7,1036.2 2203.8,1072.7 2204.9,1027.1 2206.0,1072.7 2207.1,1090.9 2208.2,1072.7 2209.3,1063.6 2210.4,1091.0 2211.5,1072.7 2212.6,1063.6 2213.7,1072.7 2214.8,1063.6 2215.9,1063.6 2217.0,1081.9 2218.1,1054.5 2219.2,1045.4 2220.4,1109.2 2221.5,1081.9 2222.6,1045.4 2223.7,1054.5 2224.8,1109.2 2225.9,1063.7 2227.0,1018.1 2228.1,1036.3 2229.2,1045.4 2230.3,1072.8 2231.4,1063.7 2232.5,1091.0 2233.6,1063.7 2234.7,990.7 2235.8,1063.7 2236.9,1091.0 2238.0,1045.5 2239.1,1109.3 2240.2,990.8 2241.3,1045.5 2242.4,1072.8" fill="none" stroke="#ff0000" stroke-width="7.0" stroke-linejoin="round" stroke-linecap="round" clip-path="url(#cb)"/>
<path d="M1408.7 1415.0V1405.5M1408.7 854.5V864.0M1684.9 1415.0V1405.5M1684.9 854.5V864.0M1961.0 1415.0V1405.5M1961.0 854.5V864.0M2237.2 1415.0V1405.5M2237.2 854.5V864.0M1408.7 1415.0H1418.2M2237.2 1415.0H2227.7M1408.7 1228.2H1418.2M2237.2 1228.2H2227.7M1408.7 1116.1H1418.2M2237.2 1116.1H2227.7M1408.7 1041.3H1418.2M2237.2 1041.3H2227.7M1408.7 985.3H1418.2M2237.2 985.3H2227.7M1408.7 854.5H1418.2M2237.2 854.5H2227.7" stroke="#262626" stroke-width="2.2" fill="none"/>
<rect x="1408.7" y="854.5" width="828.5" height="560.5" fill="none" stroke="#262626" stroke-width="2.2"/>
<g font-size="64" fill="#262626"><text x="1408.7" y="1495.0" text-anchor="middle">14</text><text x="1684.9" y="1495.0" text-anchor="middle">15</text><text x="1961.0" y="1495.0" text-anchor="middle">16</text><text x="2237.2" y="1495.0" text-anchor="middle">17</text><text x="1388.2" y="1437.5" text-anchor="end">800</text><text x="1388.2" y="1250.7" text-anchor="end">850</text><text x="1388.2" y="1138.6" text-anchor="end">880</text><text x="1388.2" y="1063.8" text-anchor="end">900</text><text x="1388.2" y="1007.8" text-anchor="end">915</text><text x="1388.2" y="877.0" text-anchor="end">950</text></g>
<rect x="1729.9" y="91.7" width="451.5" height="144.2" fill="#fff" stroke="#333" stroke-width="2"/>
<line x1="1742" y1="130.4" x2="1836.7" y2="130.4" stroke="#0000ff" stroke-width="6.4"/>
<line x1="1742" y1="197.1" x2="1836.7" y2="197.1" stroke="#ff0000" stroke-width="6.4"/>
<text x="1846" y="150.7" font-size="58.5" fill="#000">PI-Speed</text>
<text x="1846" y="217" font-size="58.5" fill="#000">ADRC-Speed</text>
</svg></body></html>
